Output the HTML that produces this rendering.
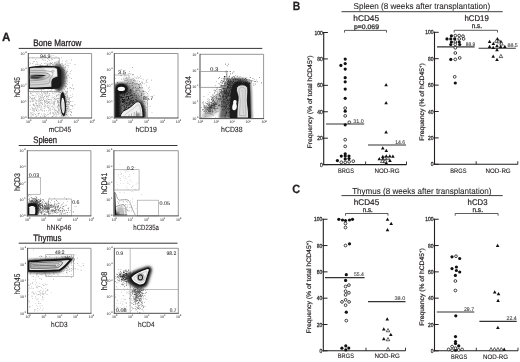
<!DOCTYPE html>
<html><head><meta charset="utf-8"><style>
html,body{margin:0;padding:0;background:#fff;}
svg{display:block;will-change:transform;}
text{font-family:"Liberation Sans", sans-serif;text-rendering:geometricPrecision;}
</style></head><body>
<svg width="520" height="362" viewBox="0 0 520 362">
<defs>
<filter id="b1" x="-20%" y="-20%" width="140%" height="140%"><feGaussianBlur stdDeviation="0.8"/></filter>
<filter id="b2" x="-30%" y="-30%" width="160%" height="160%"><feGaussianBlur stdDeviation="1.6"/></filter>
<filter id="b3" x="-40%" y="-40%" width="180%" height="180%"><feGaussianBlur stdDeviation="3"/></filter>
</defs>
<rect width="520" height="362" fill="#fff"/>

<text x="2" y="41.2" font-size="12" stroke="#231f20" stroke-width="0.25" font-weight="bold" textLength="8.4" lengthAdjust="spacingAndGlyphs" fill="#231f20">A</text>
<text x="292.8" y="9.8" font-size="12" stroke="#231f20" stroke-width="0.25" font-weight="bold" textLength="7.5" lengthAdjust="spacingAndGlyphs" fill="#231f20">B</text>
<text x="292.2" y="193.2" font-size="12" stroke="#231f20" stroke-width="0.25" font-weight="bold" textLength="7.9" lengthAdjust="spacingAndGlyphs" fill="#231f20">C</text>
<text x="33.2" y="45.8" font-size="9.4" stroke="#231f20" stroke-width="0.3" textLength="48.1" lengthAdjust="spacingAndGlyphs" fill="#231f20">Bone Marrow</text>
<line x1="18.7" y1="48.4" x2="262.3" y2="48.4" stroke="#2a2a2a" stroke-width="0.95"/>
<text x="33.3" y="143" font-size="9.4" stroke="#231f20" stroke-width="0.3" textLength="23.8" lengthAdjust="spacingAndGlyphs" fill="#231f20">Spleen</text>
<line x1="18.7" y1="145.5" x2="177.5" y2="145.5" stroke="#2a2a2a" stroke-width="0.95"/>
<text x="33.2" y="240.8" font-size="9.4" stroke="#231f20" stroke-width="0.3" textLength="28.2" lengthAdjust="spacingAndGlyphs" fill="#231f20">Thymus</text>
<line x1="18.7" y1="243.2" x2="177.5" y2="243.2" stroke="#2a2a2a" stroke-width="0.95"/>
<text x="353.5" y="9.2" font-size="8.6" stroke="#231f20" stroke-width="0.08" textLength="136.7" lengthAdjust="spacingAndGlyphs" fill="#231f20">Spleen (8 weeks after transplantation)</text>
<line x1="341.5" y1="11.7" x2="502.7" y2="11.7" stroke="#333" stroke-width="0.95"/>
<text x="352.2" y="194" font-size="8.6" stroke="#231f20" stroke-width="0.08" textLength="139.2" lengthAdjust="spacingAndGlyphs" fill="#231f20">Thymus (8 weeks after transplantation)</text>
<line x1="341.5" y1="195.6" x2="502.7" y2="195.6" stroke="#333" stroke-width="0.95"/>
<rect x="28.3" y="57.9" width="31" height="33.5" fill="none" stroke="#a0a0a0" stroke-width="0.7"/>
<rect x="114.3" y="75" width="14.7" height="18" fill="none" stroke="#a0a0a0" stroke-width="0.7"/>
<line x1="147.5" y1="101.3" x2="147.5" y2="118" stroke="#a0a0a0" stroke-width="0.7"/>
<rect x="199.4" y="71.5" width="27.6" height="15.9" fill="none" stroke="#a0a0a0" stroke-width="0.7"/>
<rect x="27.6" y="177.4" width="12.9" height="16.9" fill="none" stroke="#a0a0a0" stroke-width="0.7"/>
<rect x="48.7" y="199" width="22.8" height="16.9" fill="none" stroke="#a0a0a0" stroke-width="0.7"/>
<rect x="113.8" y="169.7" width="25.3" height="20.3" fill="none" stroke="#a0a0a0" stroke-width="0.7"/>
<rect x="137.3" y="200.2" width="21.1" height="15.7" fill="none" stroke="#a0a0a0" stroke-width="0.7"/>
<rect x="45.7" y="254.7" width="27.7" height="21.6" fill="none" stroke="#a0a0a0" stroke-width="0.7"/>
<line x1="130.2" y1="248.3" x2="130.2" y2="313.3" stroke="#a0a0a0" stroke-width="0.7"/>
<line x1="114.3" y1="289.5" x2="178.3" y2="289.5" stroke="#a0a0a0" stroke-width="0.7"/>
<clipPath id="c_bm1"><rect x="28.7" y="53.9" width="62.5" height="63.7"/></clipPath><g clip-path="url(#c_bm1)">
<path d="M33.0 113.0h0.6v0.6h-0.6zM51.9 97.6h0.6v0.6h-0.6zM43.9 102.7h0.6v0.6h-0.6zM48.5 111.5h0.6v0.6h-0.6zM31.8 91.7h0.6v0.6h-0.6zM54.1 102.3h0.6v0.6h-0.6zM51.9 91.1h0.6v0.6h-0.6zM42.4 109.8h0.6v0.6h-0.6zM35.9 115.6h0.6v0.6h-0.6zM56.0 91.8h0.6v0.6h-0.6zM29.8 105.1h0.6v0.6h-0.6zM57.2 100.9h0.6v0.6h-0.6zM35.5 102.0h0.6v0.6h-0.6zM29.9 96.8h0.6v0.6h-0.6zM42.1 103.9h0.6v0.6h-0.6zM36.0 97.0h0.6v0.6h-0.6zM35.6 102.9h0.6v0.6h-0.6zM37.7 91.6h0.6v0.6h-0.6zM54.1 105.5h0.6v0.6h-0.6zM48.3 95.8h0.6v0.6h-0.6zM58.8 113.4h0.6v0.6h-0.6zM32.6 99.7h0.6v0.6h-0.6zM50.6 109.5h0.6v0.6h-0.6zM57.1 102.0h0.6v0.6h-0.6zM53.9 108.4h0.6v0.6h-0.6zM38.1 106.3h0.6v0.6h-0.6zM55.5 113.0h0.6v0.6h-0.6zM44.2 106.3h0.6v0.6h-0.6zM30.0 97.3h0.6v0.6h-0.6zM52.9 101.8h0.6v0.6h-0.6zM34.2 105.3h0.6v0.6h-0.6zM50.1 108.5h0.6v0.6h-0.6zM40.2 102.4h0.6v0.6h-0.6zM44.3 111.2h0.6v0.6h-0.6zM44.6 101.2h0.6v0.6h-0.6zM43.7 91.8h0.6v0.6h-0.6zM30.3 109.3h0.6v0.6h-0.6zM58.5 106.4h0.6v0.6h-0.6zM40.8 95.4h0.6v0.6h-0.6zM44.1 116.5h0.6v0.6h-0.6zM52.1 105.0h0.6v0.6h-0.6zM54.8 97.0h0.6v0.6h-0.6zM44.4 115.8h0.6v0.6h-0.6zM46.3 102.9h0.6v0.6h-0.6zM37.1 105.2h0.6v0.6h-0.6zM57.7 91.1h0.6v0.6h-0.6zM52.5 112.3h0.6v0.6h-0.6zM55.6 110.3h0.6v0.6h-0.6zM53.3 104.5h0.6v0.6h-0.6zM45.8 102.1h0.6v0.6h-0.6zM30.7 113.6h0.6v0.6h-0.6zM46.1 96.2h0.6v0.6h-0.6zM44.1 103.6h0.6v0.6h-0.6zM39.7 100.0h0.6v0.6h-0.6zM45.2 107.2h0.6v0.6h-0.6zM47.4 102.9h0.6v0.6h-0.6zM29.8 97.0h0.6v0.6h-0.6zM34.3 106.2h0.6v0.6h-0.6zM54.8 111.8h0.6v0.6h-0.6zM52.9 112.2h0.6v0.6h-0.6zM36.7 112.9h0.6v0.6h-0.6zM49.2 93.2h0.6v0.6h-0.6zM29.5 91.4h0.6v0.6h-0.6zM51.7 97.5h0.6v0.6h-0.6zM32.3 107.2h0.6v0.6h-0.6zM39.3 92.8h0.6v0.6h-0.6zM33.8 104.7h0.6v0.6h-0.6zM34.0 98.1h0.6v0.6h-0.6zM50.3 102.8h0.6v0.6h-0.6zM38.7 103.3h0.6v0.6h-0.6zM29.7 101.1h0.6v0.6h-0.6zM41.6 95.9h0.6v0.6h-0.6zM32.3 114.4h0.6v0.6h-0.6zM44.3 96.4h0.6v0.6h-0.6zM47.2 112.2h0.6v0.6h-0.6zM29.6 91.5h0.6v0.6h-0.6zM33.4 109.7h0.6v0.6h-0.6zM33.8 109.3h0.6v0.6h-0.6zM49.3 105.2h0.6v0.6h-0.6zM35.6 116.4h0.6v0.6h-0.6zM52.9 104.4h0.6v0.6h-0.6zM35.7 107.9h0.6v0.6h-0.6zM40.8 106.0h0.6v0.6h-0.6zM38.6 107.4h0.6v0.6h-0.6zM30.8 98.8h0.6v0.6h-0.6zM58.0 113.8h0.6v0.6h-0.6zM38.2 113.3h0.6v0.6h-0.6zM38.3 115.4h0.6v0.6h-0.6zM51.3 101.8h0.6v0.6h-0.6zM36.6 91.2h0.6v0.6h-0.6zM55.4 92.0h0.6v0.6h-0.6zM53.6 116.0h0.6v0.6h-0.6zM46.1 95.5h0.6v0.6h-0.6zM55.0 116.3h0.6v0.6h-0.6zM50.1 104.2h0.6v0.6h-0.6zM40.3 100.0h0.6v0.6h-0.6zM35.2 108.5h0.6v0.6h-0.6zM42.0 96.0h0.6v0.6h-0.6zM32.1 108.3h0.6v0.6h-0.6zM37.9 104.0h0.6v0.6h-0.6zM38.8 113.7h0.6v0.6h-0.6zM56.0 91.5h0.6v0.6h-0.6zM35.0 99.5h0.6v0.6h-0.6zM58.6 111.4h0.6v0.6h-0.6zM39.2 96.5h0.6v0.6h-0.6zM49.2 112.8h0.6v0.6h-0.6zM57.0 99.9h0.6v0.6h-0.6zM55.5 108.9h0.6v0.6h-0.6zM43.5 116.6h0.6v0.6h-0.6zM36.0 109.9h0.6v0.6h-0.6zM31.5 95.4h0.6v0.6h-0.6zM56.3 96.5h0.6v0.6h-0.6zM51.8 106.6h0.6v0.6h-0.6zM54.2 100.6h0.6v0.6h-0.6zM39.2 98.6h0.6v0.6h-0.6zM55.0 106.7h0.6v0.6h-0.6zM57.6 114.1h0.6v0.6h-0.6zM33.1 105.3h0.6v0.6h-0.6zM32.1 92.0h0.6v0.6h-0.6zM31.2 113.5h0.6v0.6h-0.6zM52.6 112.5h0.6v0.6h-0.6zM39.2 107.0h0.6v0.6h-0.6zM52.5 100.8h0.6v0.6h-0.6zM46.1 96.8h0.6v0.6h-0.6zM31.5 97.9h0.6v0.6h-0.6zM55.7 105.7h0.6v0.6h-0.6zM56.8 102.9h0.6v0.6h-0.6zM37.3 111.5h0.6v0.6h-0.6zM53.8 91.3h0.6v0.6h-0.6zM49.1 93.4h0.6v0.6h-0.6zM32.5 114.0h0.6v0.6h-0.6zM30.2 97.2h0.6v0.6h-0.6zM58.6 101.9h0.6v0.6h-0.6zM32.5 95.4h0.6v0.6h-0.6zM36.2 110.3h0.6v0.6h-0.6zM32.1 114.7h0.6v0.6h-0.6zM40.3 116.2h0.6v0.6h-0.6zM56.3 98.6h0.6v0.6h-0.6zM36.6 103.4h0.6v0.6h-0.6zM32.0 108.0h0.6v0.6h-0.6zM30.2 91.3h0.6v0.6h-0.6zM58.5 98.7h0.6v0.6h-0.6zM46.9 102.7h0.6v0.6h-0.6zM38.4 92.6h0.6v0.6h-0.6zM56.4 116.2h0.6v0.6h-0.6zM58.1 93.9h0.6v0.6h-0.6zM35.5 107.1h0.6v0.6h-0.6zM58.4 105.1h0.6v0.6h-0.6zM49.6 108.2h0.6v0.6h-0.6zM36.8 105.1h0.6v0.6h-0.6zM38.2 97.4h0.6v0.6h-0.6zM31.4 98.3h0.6v0.6h-0.6zM58.5 102.6h0.6v0.6h-0.6zM48.6 107.7h0.6v0.6h-0.6zM57.2 101.2h0.6v0.6h-0.6zM38.2 99.5h0.6v0.6h-0.6zM38.5 113.0h0.6v0.6h-0.6zM55.8 98.9h0.6v0.6h-0.6zM39.0 105.1h0.6v0.6h-0.6zM46.4 106.5h0.6v0.6h-0.6zM36.4 91.5h0.6v0.6h-0.6zM36.3 92.9h0.6v0.6h-0.6zM45.5 92.8h0.6v0.6h-0.6zM31.3 107.5h0.6v0.6h-0.6zM37.7 111.6h0.6v0.6h-0.6zM43.8 113.4h0.6v0.6h-0.6zM33.6 104.0h0.6v0.6h-0.6zM52.8 93.0h0.6v0.6h-0.6zM57.5 95.5h0.6v0.6h-0.6zM52.3 116.6h0.6v0.6h-0.6zM53.6 99.3h0.6v0.6h-0.6zM32.2 104.4h0.6v0.6h-0.6zM56.6 98.6h0.6v0.6h-0.6zM55.8 94.7h0.6v0.6h-0.6zM56.3 91.8h0.6v0.6h-0.6zM38.5 114.5h0.6v0.6h-0.6zM53.1 114.6h0.6v0.6h-0.6zM54.2 110.4h0.6v0.6h-0.6zM49.7 95.6h0.6v0.6h-0.6zM42.0 95.1h0.6v0.6h-0.6zM50.4 108.4h0.6v0.6h-0.6zM36.6 92.7h0.6v0.6h-0.6zM57.9 112.0h0.6v0.6h-0.6zM45.5 105.1h0.6v0.6h-0.6zM54.5 102.8h0.6v0.6h-0.6zM40.9 99.8h0.6v0.6h-0.6zM36.7 91.6h0.6v0.6h-0.6zM48.4 101.8h0.6v0.6h-0.6zM46.1 92.6h0.6v0.6h-0.6zM39.6 94.6h0.6v0.6h-0.6zM32.8 97.7h0.6v0.6h-0.6zM53.9 101.3h0.6v0.6h-0.6zM41.0 106.9h0.6v0.6h-0.6zM36.0 91.2h0.6v0.6h-0.6zM44.9 104.0h0.6v0.6h-0.6zM48.5 102.4h0.6v0.6h-0.6zM49.6 110.0h0.6v0.6h-0.6zM36.2 103.9h0.6v0.6h-0.6zM43.4 96.9h0.6v0.6h-0.6zM41.4 105.6h0.6v0.6h-0.6zM56.2 114.9h0.6v0.6h-0.6zM37.3 107.8h0.6v0.6h-0.6zM30.4 92.9h0.6v0.6h-0.6zM44.4 113.8h0.6v0.6h-0.6zM33.8 110.9h0.6v0.6h-0.6zM55.5 99.1h0.6v0.6h-0.6zM49.8 113.1h0.6v0.6h-0.6zM40.1 109.2h0.6v0.6h-0.6zM51.1 106.5h0.6v0.6h-0.6zM54.7 114.3h0.6v0.6h-0.6zM57.8 105.9h0.6v0.6h-0.6zM34.3 97.5h0.6v0.6h-0.6zM35.5 105.8h0.6v0.6h-0.6zM51.7 92.4h0.6v0.6h-0.6zM49.4 109.6h0.6v0.6h-0.6zM39.4 104.4h0.6v0.6h-0.6zM33.9 110.0h0.6v0.6h-0.6zM30.2 116.5h0.6v0.6h-0.6zM53.2 107.3h0.6v0.6h-0.6zM37.0 114.7h0.6v0.6h-0.6zM57.8 94.6h0.6v0.6h-0.6zM52.3 112.9h0.6v0.6h-0.6zM48.8 109.2h0.6v0.6h-0.6zM42.4 115.0h0.6v0.6h-0.6zM58.1 100.9h0.6v0.6h-0.6zM53.1 102.3h0.6v0.6h-0.6zM33.9 99.5h0.6v0.6h-0.6zM32.8 114.6h0.6v0.6h-0.6zM57.8 94.1h0.6v0.6h-0.6zM47.0 101.6h0.6v0.6h-0.6zM32.5 98.7h0.6v0.6h-0.6zM36.4 110.5h0.6v0.6h-0.6zM29.1 95.9h0.6v0.6h-0.6zM42.2 91.5h0.6v0.6h-0.6zM47.8 106.7h0.6v0.6h-0.6zM54.1 96.4h0.6v0.6h-0.6zM37.5 105.1h0.6v0.6h-0.6zM37.2 106.2h0.6v0.6h-0.6zM36.5 108.8h0.6v0.6h-0.6zM52.7 112.0h0.6v0.6h-0.6zM58.2 105.2h0.6v0.6h-0.6zM43.7 113.2h0.6v0.6h-0.6zM52.1 105.8h0.6v0.6h-0.6zM40.5 98.4h0.6v0.6h-0.6zM32.2 112.0h0.6v0.6h-0.6zM32.5 110.4h0.6v0.6h-0.6zM45.4 116.1h0.6v0.6h-0.6zM51.8 116.3h0.6v0.6h-0.6zM33.1 104.0h0.6v0.6h-0.6zM46.2 99.1h0.6v0.6h-0.6zM44.1 100.3h0.6v0.6h-0.6zM44.9 91.0h0.6v0.6h-0.6zM42.3 102.7h0.6v0.6h-0.6zM38.1 101.4h0.6v0.6h-0.6zM52.5 108.8h0.6v0.6h-0.6zM43.8 107.8h0.6v0.6h-0.6zM40.3 96.3h0.6v0.6h-0.6zM29.1 98.2h0.6v0.6h-0.6zM46.9 113.9h0.6v0.6h-0.6zM53.9 104.3h0.6v0.6h-0.6zM58.6 103.0h0.6v0.6h-0.6zM54.0 101.6h0.6v0.6h-0.6zM51.3 116.7h0.6v0.6h-0.6zM38.2 95.4h0.6v0.6h-0.6zM47.6 104.8h0.6v0.6h-0.6zM39.8 91.1h0.6v0.6h-0.6zM40.7 102.1h0.6v0.6h-0.6zM41.2 113.4h0.6v0.6h-0.6zM46.5 110.1h0.6v0.6h-0.6zM55.9 110.5h0.6v0.6h-0.6zM43.8 110.4h0.6v0.6h-0.6zM48.2 107.9h0.6v0.6h-0.6zM47.9 101.6h0.6v0.6h-0.6zM47.9 107.5h0.6v0.6h-0.6zM57.1 111.3h0.6v0.6h-0.6zM54.4 111.0h0.6v0.6h-0.6zM53.5 106.7h0.6v0.6h-0.6zM39.5 97.9h0.6v0.6h-0.6zM50.2 113.7h0.6v0.6h-0.6zM45.3 95.0h0.6v0.6h-0.6zM54.0 103.6h0.6v0.6h-0.6zM43.0 92.2h0.6v0.6h-0.6zM44.3 110.4h0.6v0.6h-0.6zM41.7 100.2h0.6v0.6h-0.6zM48.7 91.5h0.6v0.6h-0.6zM44.2 115.6h0.6v0.6h-0.6zM49.7 101.5h0.6v0.6h-0.6zM49.7 106.7h0.6v0.6h-0.6zM35.3 96.4h0.6v0.6h-0.6zM55.6 98.0h0.6v0.6h-0.6zM31.2 112.6h0.6v0.6h-0.6zM44.7 100.6h0.6v0.6h-0.6zM44.3 110.2h0.6v0.6h-0.6zM34.1 108.0h0.6v0.6h-0.6zM50.4 112.2h0.6v0.6h-0.6zM37.1 106.9h0.6v0.6h-0.6zM36.0 105.6h0.6v0.6h-0.6zM34.2 111.5h0.6v0.6h-0.6zM55.0 99.6h0.6v0.6h-0.6zM35.7 116.1h0.6v0.6h-0.6zM50.2 112.9h0.6v0.6h-0.6zM29.9 114.4h0.6v0.6h-0.6zM47.7 99.2h0.6v0.6h-0.6zM42.0 110.8h0.6v0.6h-0.6zM52.6 95.9h0.6v0.6h-0.6zM47.8 95.3h0.6v0.6h-0.6zM58.2 102.5h0.6v0.6h-0.6zM56.4 109.9h0.6v0.6h-0.6zM47.2 97.8h0.6v0.6h-0.6zM44.8 94.6h0.6v0.6h-0.6zM33.1 109.6h0.6v0.6h-0.6zM39.8 110.5h0.6v0.6h-0.6zM36.2 109.7h0.6v0.6h-0.6zM50.6 98.9h0.6v0.6h-0.6zM32.2 101.3h0.6v0.6h-0.6zM43.8 93.6h0.6v0.6h-0.6zM34.6 92.4h0.6v0.6h-0.6zM46.9 114.1h0.6v0.6h-0.6zM35.5 91.9h0.6v0.6h-0.6zM50.1 112.2h0.6v0.6h-0.6zM57.9 106.9h0.6v0.6h-0.6zM39.3 112.8h0.6v0.6h-0.6zM32.5 109.0h0.6v0.6h-0.6zM31.9 101.4h0.6v0.6h-0.6zM43.9 100.8h0.6v0.6h-0.6zM34.1 97.0h0.6v0.6h-0.6zM53.6 103.0h0.6v0.6h-0.6zM46.4 96.5h0.6v0.6h-0.6zM50.4 99.6h0.6v0.6h-0.6zM46.8 114.6h0.6v0.6h-0.6zM58.8 92.2h0.6v0.6h-0.6zM52.9 113.3h0.6v0.6h-0.6zM38.6 101.0h0.6v0.6h-0.6zM46.4 114.9h0.6v0.6h-0.6zM41.0 113.9h0.6v0.6h-0.6zM51.8 95.0h0.6v0.6h-0.6zM56.4 91.4h0.6v0.6h-0.6zM33.4 108.3h0.6v0.6h-0.6zM30.7 100.9h0.6v0.6h-0.6zM32.9 103.0h0.6v0.6h-0.6zM54.2 114.6h0.6v0.6h-0.6zM30.1 92.6h0.6v0.6h-0.6zM54.2 92.1h0.6v0.6h-0.6zM37.2 94.1h0.6v0.6h-0.6zM31.7 91.7h0.6v0.6h-0.6zM48.1 110.4h0.6v0.6h-0.6zM49.6 113.0h0.6v0.6h-0.6zM48.9 101.1h0.6v0.6h-0.6zM47.9 116.2h0.6v0.6h-0.6zM48.2 97.3h0.6v0.6h-0.6zM30.8 115.3h0.6v0.6h-0.6zM46.7 100.1h0.6v0.6h-0.6zM47.2 105.6h0.6v0.6h-0.6zM44.7 92.6h0.6v0.6h-0.6zM39.6 101.7h0.6v0.6h-0.6zM35.0 113.9h0.6v0.6h-0.6zM41.7 108.2h0.6v0.6h-0.6zM50.4 110.3h0.6v0.6h-0.6zM50.6 110.6h0.6v0.6h-0.6zM36.5 116.4h0.6v0.6h-0.6zM33.5 114.9h0.6v0.6h-0.6zM54.6 113.2h0.6v0.6h-0.6zM30.6 93.4h0.6v0.6h-0.6zM53.4 103.2h0.6v0.6h-0.6zM40.1 116.6h0.6v0.6h-0.6zM30.2 104.8h0.6v0.6h-0.6zM42.3 94.3h0.6v0.6h-0.6zM40.9 109.4h0.6v0.6h-0.6zM55.5 91.6h0.6v0.6h-0.6zM44.7 93.3h0.6v0.6h-0.6zM53.0 93.2h0.6v0.6h-0.6zM30.0 101.0h0.6v0.6h-0.6zM51.0 99.1h0.6v0.6h-0.6zM32.9 111.7h0.6v0.6h-0.6zM53.2 113.3h0.6v0.6h-0.6zM38.1 102.0h0.6v0.6h-0.6zM36.4 105.5h0.6v0.6h-0.6zM38.9 99.8h0.6v0.6h-0.6zM52.5 115.9h0.6v0.6h-0.6zM46.5 93.7h0.6v0.6h-0.6zM48.6 102.7h0.6v0.6h-0.6zM58.6 109.7h0.6v0.6h-0.6zM54.0 109.2h0.6v0.6h-0.6zM45.1 114.3h0.6v0.6h-0.6zM53.9 98.6h0.6v0.6h-0.6zM33.7 100.6h0.6v0.6h-0.6zM44.6 93.5h0.6v0.6h-0.6zM39.4 105.9h0.6v0.6h-0.6zM30.3 112.2h0.6v0.6h-0.6zM48.5 99.2h0.6v0.6h-0.6zM37.9 100.2h0.6v0.6h-0.6zM38.8 110.5h0.6v0.6h-0.6zM44.0 104.7h0.6v0.6h-0.6zM33.5 114.8h0.6v0.6h-0.6zM38.8 99.5h0.6v0.6h-0.6zM31.1 116.5h0.6v0.6h-0.6zM43.4 114.7h0.6v0.6h-0.6zM56.8 116.2h0.6v0.6h-0.6zM53.5 115.1h0.6v0.6h-0.6zM56.7 111.8h0.6v0.6h-0.6zM33.0 104.6h0.6v0.6h-0.6zM46.3 116.8h0.6v0.6h-0.6zM52.5 109.3h0.6v0.6h-0.6zM51.4 100.4h0.6v0.6h-0.6zM57.3 107.7h0.6v0.6h-0.6zM41.1 103.1h0.6v0.6h-0.6zM58.4 104.8h0.6v0.6h-0.6zM34.0 94.9h0.6v0.6h-0.6zM49.6 105.6h0.6v0.6h-0.6zM56.2 95.8h0.6v0.6h-0.6zM41.3 109.9h0.6v0.6h-0.6zM30.5 93.6h0.6v0.6h-0.6zM45.4 97.9h0.6v0.6h-0.6zM32.2 97.8h0.6v0.6h-0.6zM48.0 104.7h0.6v0.6h-0.6zM31.4 92.9h0.6v0.6h-0.6zM54.5 107.7h0.6v0.6h-0.6zM34.2 113.4h0.6v0.6h-0.6zM29.7 100.6h0.6v0.6h-0.6zM54.4 109.5h0.6v0.6h-0.6z" fill="#999"/>
<path d="M40.3 103.7h0.6v0.6h-0.6zM36.3 102.8h0.6v0.6h-0.6zM47.4 103.3h0.6v0.6h-0.6zM52.5 92.9h0.6v0.6h-0.6zM40.5 94.4h0.6v0.6h-0.6zM33.7 98.5h0.6v0.6h-0.6zM41.8 103.4h0.6v0.6h-0.6zM46.9 87.2h0.6v0.6h-0.6zM41.6 95.0h0.6v0.6h-0.6zM35.9 110.4h0.6v0.6h-0.6zM38.2 84.4h0.6v0.6h-0.6zM42.5 97.7h0.6v0.6h-0.6zM30.6 92.6h0.6v0.6h-0.6zM35.0 99.8h0.6v0.6h-0.6zM36.6 100.6h0.6v0.6h-0.6zM54.7 93.6h0.6v0.6h-0.6zM33.5 98.0h0.6v0.6h-0.6zM48.8 94.4h0.6v0.6h-0.6zM51.5 89.5h0.6v0.6h-0.6zM31.7 99.6h0.6v0.6h-0.6zM33.1 95.1h0.6v0.6h-0.6zM43.6 105.8h0.6v0.6h-0.6zM40.9 97.8h0.6v0.6h-0.6zM50.8 103.2h0.6v0.6h-0.6zM38.1 109.7h0.6v0.6h-0.6zM32.8 101.3h0.6v0.6h-0.6zM45.3 99.9h0.6v0.6h-0.6zM35.4 102.8h0.6v0.6h-0.6zM35.7 95.2h0.6v0.6h-0.6zM31.8 110.4h0.6v0.6h-0.6zM35.6 109.2h0.6v0.6h-0.6zM43.0 97.9h0.6v0.6h-0.6zM45.3 102.2h0.6v0.6h-0.6zM41.1 89.0h0.6v0.6h-0.6zM40.6 107.2h0.6v0.6h-0.6zM43.9 108.0h0.6v0.6h-0.6zM51.9 103.3h0.6v0.6h-0.6zM55.8 87.9h0.6v0.6h-0.6zM38.1 79.8h0.6v0.6h-0.6zM46.6 100.8h0.6v0.6h-0.6zM53.5 97.1h0.6v0.6h-0.6zM29.3 89.9h0.6v0.6h-0.6zM38.6 105.0h0.6v0.6h-0.6zM35.9 101.5h0.6v0.6h-0.6zM39.5 101.0h0.6v0.6h-0.6zM44.7 101.4h0.6v0.6h-0.6zM41.6 92.6h0.6v0.6h-0.6zM39.1 103.5h0.6v0.6h-0.6zM48.3 99.0h0.6v0.6h-0.6zM40.7 102.7h0.6v0.6h-0.6zM44.6 101.7h0.6v0.6h-0.6zM38.0 95.9h0.6v0.6h-0.6zM49.0 102.4h0.6v0.6h-0.6zM47.1 106.8h0.6v0.6h-0.6zM41.2 91.9h0.6v0.6h-0.6zM49.1 99.3h0.6v0.6h-0.6zM40.4 108.2h0.6v0.6h-0.6zM48.1 101.9h0.6v0.6h-0.6zM40.1 116.8h0.6v0.6h-0.6zM44.6 91.8h0.6v0.6h-0.6zM46.0 101.2h0.6v0.6h-0.6zM40.3 105.5h0.6v0.6h-0.6zM41.9 116.0h0.6v0.6h-0.6zM41.6 102.0h0.6v0.6h-0.6zM49.3 95.5h0.6v0.6h-0.6zM48.1 99.5h0.6v0.6h-0.6zM49.5 93.2h0.6v0.6h-0.6zM43.4 87.2h0.6v0.6h-0.6zM36.5 100.1h0.6v0.6h-0.6zM44.0 115.8h0.6v0.6h-0.6zM54.7 89.3h0.6v0.6h-0.6zM33.9 110.0h0.6v0.6h-0.6zM43.5 89.1h0.6v0.6h-0.6zM43.9 91.0h0.6v0.6h-0.6zM33.1 89.9h0.6v0.6h-0.6zM43.0 99.1h0.6v0.6h-0.6zM60.1 96.3h0.6v0.6h-0.6zM38.8 97.9h0.6v0.6h-0.6zM43.4 97.5h0.6v0.6h-0.6zM51.6 97.7h0.6v0.6h-0.6zM44.5 101.8h0.6v0.6h-0.6zM33.1 92.2h0.6v0.6h-0.6zM39.6 81.7h0.6v0.6h-0.6zM40.1 100.6h0.6v0.6h-0.6zM41.1 99.4h0.6v0.6h-0.6zM42.8 97.2h0.6v0.6h-0.6zM45.1 87.0h0.6v0.6h-0.6zM47.3 93.0h0.6v0.6h-0.6zM43.9 96.3h0.6v0.6h-0.6zM36.6 93.7h0.6v0.6h-0.6zM50.7 91.3h0.6v0.6h-0.6zM30.4 101.7h0.6v0.6h-0.6zM42.1 100.3h0.6v0.6h-0.6zM32.3 94.8h0.6v0.6h-0.6zM47.2 91.8h0.6v0.6h-0.6zM44.9 105.8h0.6v0.6h-0.6zM41.1 90.3h0.6v0.6h-0.6zM55.2 101.0h0.6v0.6h-0.6zM41.6 97.0h0.6v0.6h-0.6zM32.5 97.9h0.6v0.6h-0.6zM41.6 93.3h0.6v0.6h-0.6zM40.9 109.2h0.6v0.6h-0.6zM43.5 99.2h0.6v0.6h-0.6zM48.4 107.3h0.6v0.6h-0.6zM47.2 93.7h0.6v0.6h-0.6zM40.5 97.1h0.6v0.6h-0.6zM43.9 96.4h0.6v0.6h-0.6zM35.1 114.4h0.6v0.6h-0.6zM48.1 114.1h0.6v0.6h-0.6zM42.0 104.1h0.6v0.6h-0.6zM32.7 100.3h0.6v0.6h-0.6zM39.8 99.2h0.6v0.6h-0.6z" fill="#888"/>
<path d="M54 64 C60 63 65 67 66 73 C67 80 66 88 61 91 C57 92 55 90 55 86 Z" fill="#666" filter="url(#b2)" opacity="0.85"/>
<path d="M71.0 70.0h0.6v0.6h-0.6zM59.4 77.3h0.6v0.6h-0.6zM62.0 63.4h0.6v0.6h-0.6zM54.5 69.2h0.6v0.6h-0.6zM50.6 68.4h0.6v0.6h-0.6zM53.9 73.4h0.6v0.6h-0.6zM51.6 79.8h0.6v0.6h-0.6zM64.1 72.5h0.6v0.6h-0.6zM52.5 78.4h0.6v0.6h-0.6zM58.4 76.5h0.6v0.6h-0.6zM51.9 77.7h0.6v0.6h-0.6zM47.8 89.0h0.6v0.6h-0.6zM49.4 74.1h0.6v0.6h-0.6zM57.1 78.0h0.6v0.6h-0.6zM55.5 80.3h0.6v0.6h-0.6zM35.2 73.9h0.6v0.6h-0.6zM55.3 70.9h0.6v0.6h-0.6zM65.4 66.0h0.6v0.6h-0.6zM55.7 56.5h0.6v0.6h-0.6zM57.9 60.2h0.6v0.6h-0.6zM46.8 96.1h0.6v0.6h-0.6zM60.5 74.7h0.6v0.6h-0.6zM57.2 61.7h0.6v0.6h-0.6zM49.8 78.7h0.6v0.6h-0.6zM43.4 77.3h0.6v0.6h-0.6zM45.7 75.9h0.6v0.6h-0.6zM49.5 90.8h0.6v0.6h-0.6zM62.4 70.1h0.6v0.6h-0.6zM44.7 67.6h0.6v0.6h-0.6zM55.9 65.7h0.6v0.6h-0.6zM57.9 83.8h0.6v0.6h-0.6zM55.9 70.8h0.6v0.6h-0.6zM61.0 72.1h0.6v0.6h-0.6zM61.4 71.9h0.6v0.6h-0.6zM66.1 72.3h0.6v0.6h-0.6zM49.8 75.7h0.6v0.6h-0.6zM52.4 66.2h0.6v0.6h-0.6zM55.4 81.7h0.6v0.6h-0.6zM43.0 74.4h0.6v0.6h-0.6zM55.3 73.5h0.6v0.6h-0.6zM61.1 62.9h0.6v0.6h-0.6zM60.3 72.8h0.6v0.6h-0.6zM56.9 72.9h0.6v0.6h-0.6zM54.3 70.1h0.6v0.6h-0.6zM58.8 94.2h0.6v0.6h-0.6zM62.7 82.8h0.6v0.6h-0.6zM59.7 70.6h0.6v0.6h-0.6zM60.0 94.0h0.6v0.6h-0.6zM48.6 82.7h0.6v0.6h-0.6zM62.6 77.7h0.6v0.6h-0.6zM61.2 87.9h0.6v0.6h-0.6zM69.9 87.1h0.6v0.6h-0.6zM66.6 78.3h0.6v0.6h-0.6zM61.6 76.9h0.6v0.6h-0.6zM58.4 71.1h0.6v0.6h-0.6zM60.7 88.6h0.6v0.6h-0.6zM55.7 77.8h0.6v0.6h-0.6zM60.4 75.7h0.6v0.6h-0.6zM62.4 77.9h0.6v0.6h-0.6zM49.6 66.2h0.6v0.6h-0.6zM61.1 81.3h0.6v0.6h-0.6zM63.4 77.9h0.6v0.6h-0.6zM58.0 61.3h0.6v0.6h-0.6zM65.2 67.3h0.6v0.6h-0.6zM63.1 65.3h0.6v0.6h-0.6zM52.8 77.1h0.6v0.6h-0.6zM54.2 69.4h0.6v0.6h-0.6zM62.2 81.9h0.6v0.6h-0.6zM59.2 72.7h0.6v0.6h-0.6zM51.8 71.4h0.6v0.6h-0.6zM53.7 75.5h0.6v0.6h-0.6zM61.5 74.3h0.6v0.6h-0.6zM52.1 70.2h0.6v0.6h-0.6zM64.6 77.3h0.6v0.6h-0.6zM58.3 78.4h0.6v0.6h-0.6zM60.5 77.1h0.6v0.6h-0.6zM64.0 83.2h0.6v0.6h-0.6zM39.8 74.7h0.6v0.6h-0.6zM74.7 64.3h0.6v0.6h-0.6zM57.7 85.7h0.6v0.6h-0.6zM57.0 88.0h0.6v0.6h-0.6zM49.3 64.6h0.6v0.6h-0.6zM55.8 69.3h0.6v0.6h-0.6zM50.5 81.1h0.6v0.6h-0.6zM58.6 76.1h0.6v0.6h-0.6zM54.6 78.4h0.6v0.6h-0.6zM56.3 69.4h0.6v0.6h-0.6zM60.1 79.3h0.6v0.6h-0.6zM57.5 82.3h0.6v0.6h-0.6zM50.4 74.7h0.6v0.6h-0.6zM53.8 88.0h0.6v0.6h-0.6zM60.1 95.1h0.6v0.6h-0.6zM66.4 72.7h0.6v0.6h-0.6zM50.4 80.4h0.6v0.6h-0.6zM55.3 74.6h0.6v0.6h-0.6zM50.6 81.4h0.6v0.6h-0.6zM58.1 79.6h0.6v0.6h-0.6zM58.9 67.9h0.6v0.6h-0.6zM43.6 73.6h0.6v0.6h-0.6zM53.2 71.2h0.6v0.6h-0.6zM62.8 75.1h0.6v0.6h-0.6zM66.1 77.6h0.6v0.6h-0.6zM61.1 80.6h0.6v0.6h-0.6zM61.8 64.7h0.6v0.6h-0.6zM63.5 77.0h0.6v0.6h-0.6zM51.1 81.5h0.6v0.6h-0.6zM59.1 87.6h0.6v0.6h-0.6zM61.4 79.3h0.6v0.6h-0.6zM47.2 91.1h0.6v0.6h-0.6zM65.9 83.0h0.6v0.6h-0.6zM59.8 87.0h0.6v0.6h-0.6zM51.8 82.3h0.6v0.6h-0.6zM57.1 67.0h0.6v0.6h-0.6zM59.2 79.2h0.6v0.6h-0.6zM67.2 84.5h0.6v0.6h-0.6zM47.4 58.3h0.6v0.6h-0.6zM56.5 74.1h0.6v0.6h-0.6zM51.4 62.9h0.6v0.6h-0.6zM55.8 65.6h0.6v0.6h-0.6zM52.9 83.8h0.6v0.6h-0.6zM58.4 69.2h0.6v0.6h-0.6zM50.3 74.3h0.6v0.6h-0.6zM67.4 71.4h0.6v0.6h-0.6zM67.4 68.9h0.6v0.6h-0.6zM55.7 82.3h0.6v0.6h-0.6zM52.4 76.5h0.6v0.6h-0.6zM48.9 82.0h0.6v0.6h-0.6zM63.9 70.1h0.6v0.6h-0.6zM58.1 72.3h0.6v0.6h-0.6zM44.0 100.7h0.6v0.6h-0.6zM60.8 83.4h0.6v0.6h-0.6zM59.3 77.6h0.6v0.6h-0.6zM71.2 59.6h0.6v0.6h-0.6zM55.1 72.2h0.6v0.6h-0.6zM55.7 82.3h0.6v0.6h-0.6zM52.7 64.0h0.6v0.6h-0.6zM50.2 80.1h0.6v0.6h-0.6zM62.7 83.3h0.6v0.6h-0.6zM66.6 71.3h0.6v0.6h-0.6zM63.0 82.2h0.6v0.6h-0.6zM56.0 69.2h0.6v0.6h-0.6zM62.3 69.9h0.6v0.6h-0.6zM55.2 67.2h0.6v0.6h-0.6zM67.5 75.5h0.6v0.6h-0.6zM54.0 73.8h0.6v0.6h-0.6zM55.6 76.8h0.6v0.6h-0.6zM46.8 65.5h0.6v0.6h-0.6zM60.0 85.7h0.6v0.6h-0.6zM50.9 77.0h0.6v0.6h-0.6zM53.5 55.5h0.6v0.6h-0.6zM55.1 66.2h0.6v0.6h-0.6zM62.2 74.1h0.6v0.6h-0.6zM56.8 62.8h0.6v0.6h-0.6zM57.9 58.5h0.6v0.6h-0.6zM58.3 88.4h0.6v0.6h-0.6zM49.7 83.7h0.6v0.6h-0.6zM65.4 74.2h0.6v0.6h-0.6zM63.7 76.7h0.6v0.6h-0.6zM54.0 57.9h0.6v0.6h-0.6zM50.5 62.6h0.6v0.6h-0.6zM71.3 78.3h0.6v0.6h-0.6zM55.9 63.8h0.6v0.6h-0.6zM67.3 65.5h0.6v0.6h-0.6zM65.9 85.8h0.6v0.6h-0.6zM57.4 70.0h0.6v0.6h-0.6zM56.7 64.1h0.6v0.6h-0.6zM60.9 91.2h0.6v0.6h-0.6zM62.3 85.4h0.6v0.6h-0.6zM52.8 78.8h0.6v0.6h-0.6zM50.8 71.9h0.6v0.6h-0.6zM61.4 98.6h0.6v0.6h-0.6zM57.4 76.3h0.6v0.6h-0.6zM45.6 77.6h0.6v0.6h-0.6zM51.5 63.3h0.6v0.6h-0.6zM48.0 77.3h0.6v0.6h-0.6zM54.6 82.1h0.6v0.6h-0.6zM55.6 76.0h0.6v0.6h-0.6zM65.8 83.2h0.6v0.6h-0.6zM61.6 89.3h0.6v0.6h-0.6zM58.3 67.0h0.6v0.6h-0.6zM52.2 61.9h0.6v0.6h-0.6zM59.1 72.3h0.6v0.6h-0.6zM60.1 83.5h0.6v0.6h-0.6zM52.1 77.7h0.6v0.6h-0.6zM64.6 76.8h0.6v0.6h-0.6zM62.6 74.2h0.6v0.6h-0.6zM51.3 73.9h0.6v0.6h-0.6zM45.6 82.4h0.6v0.6h-0.6zM53.9 88.2h0.6v0.6h-0.6zM49.6 77.1h0.6v0.6h-0.6zM59.1 74.2h0.6v0.6h-0.6zM59.3 69.2h0.6v0.6h-0.6zM50.5 63.2h0.6v0.6h-0.6zM53.6 68.6h0.6v0.6h-0.6zM58.4 72.7h0.6v0.6h-0.6zM53.0 69.3h0.6v0.6h-0.6zM45.5 72.7h0.6v0.6h-0.6zM59.5 63.9h0.6v0.6h-0.6zM55.4 82.1h0.6v0.6h-0.6zM52.8 77.7h0.6v0.6h-0.6zM54.4 98.3h0.6v0.6h-0.6zM65.5 86.8h0.6v0.6h-0.6zM52.9 81.9h0.6v0.6h-0.6zM56.0 79.3h0.6v0.6h-0.6zM53.5 77.4h0.6v0.6h-0.6zM52.3 78.7h0.6v0.6h-0.6zM67.7 63.5h0.6v0.6h-0.6zM49.0 80.6h0.6v0.6h-0.6zM61.8 72.6h0.6v0.6h-0.6zM60.6 79.9h0.6v0.6h-0.6zM60.4 88.6h0.6v0.6h-0.6zM53.0 82.0h0.6v0.6h-0.6zM58.2 69.7h0.6v0.6h-0.6zM60.1 64.1h0.6v0.6h-0.6zM47.9 85.8h0.6v0.6h-0.6zM50.3 91.5h0.6v0.6h-0.6zM63.3 71.2h0.6v0.6h-0.6zM51.6 55.6h0.6v0.6h-0.6zM56.5 61.0h0.6v0.6h-0.6zM66.6 60.6h0.6v0.6h-0.6zM54.8 88.1h0.6v0.6h-0.6zM54.3 68.4h0.6v0.6h-0.6zM54.1 79.4h0.6v0.6h-0.6zM62.4 73.8h0.6v0.6h-0.6zM44.4 78.8h0.6v0.6h-0.6zM62.9 97.1h0.6v0.6h-0.6zM58.0 77.5h0.6v0.6h-0.6zM53.7 82.8h0.6v0.6h-0.6zM67.8 66.8h0.6v0.6h-0.6zM57.5 66.4h0.6v0.6h-0.6zM52.7 74.2h0.6v0.6h-0.6zM60.0 68.3h0.6v0.6h-0.6zM55.2 88.5h0.6v0.6h-0.6zM60.1 82.4h0.6v0.6h-0.6zM59.4 74.2h0.6v0.6h-0.6zM59.5 80.7h0.6v0.6h-0.6zM57.0 85.4h0.6v0.6h-0.6zM57.0 84.2h0.6v0.6h-0.6zM57.1 82.7h0.6v0.6h-0.6zM52.8 70.8h0.6v0.6h-0.6zM49.9 87.0h0.6v0.6h-0.6zM60.1 77.9h0.6v0.6h-0.6zM60.8 68.3h0.6v0.6h-0.6zM57.6 71.3h0.6v0.6h-0.6zM45.5 73.5h0.6v0.6h-0.6zM51.6 89.1h0.6v0.6h-0.6zM52.4 70.2h0.6v0.6h-0.6zM63.0 75.9h0.6v0.6h-0.6zM48.8 78.1h0.6v0.6h-0.6zM52.3 91.7h0.6v0.6h-0.6zM50.5 69.1h0.6v0.6h-0.6zM40.1 69.7h0.6v0.6h-0.6zM68.5 74.8h0.6v0.6h-0.6zM51.1 78.6h0.6v0.6h-0.6zM55.2 75.6h0.6v0.6h-0.6zM72.3 94.5h0.6v0.6h-0.6zM66.8 91.3h0.6v0.6h-0.6zM51.3 57.9h0.6v0.6h-0.6zM61.5 79.6h0.6v0.6h-0.6zM57.2 74.9h0.6v0.6h-0.6zM61.4 81.2h0.6v0.6h-0.6zM58.6 80.5h0.6v0.6h-0.6zM55.7 72.5h0.6v0.6h-0.6zM65.5 73.7h0.6v0.6h-0.6zM69.2 81.9h0.6v0.6h-0.6zM57.4 86.3h0.6v0.6h-0.6zM53.9 74.2h0.6v0.6h-0.6zM54.9 76.0h0.6v0.6h-0.6zM61.2 95.2h0.6v0.6h-0.6zM60.2 66.2h0.6v0.6h-0.6zM51.9 59.3h0.6v0.6h-0.6zM61.5 84.1h0.6v0.6h-0.6zM59.0 79.3h0.6v0.6h-0.6zM60.2 79.9h0.6v0.6h-0.6zM60.9 78.1h0.6v0.6h-0.6zM50.9 84.7h0.6v0.6h-0.6zM65.2 60.9h0.6v0.6h-0.6zM55.6 65.5h0.6v0.6h-0.6zM60.1 73.3h0.6v0.6h-0.6zM65.7 86.2h0.6v0.6h-0.6zM54.1 71.6h0.6v0.6h-0.6zM53.4 81.3h0.6v0.6h-0.6zM51.2 80.0h0.6v0.6h-0.6zM48.4 85.6h0.6v0.6h-0.6zM59.9 65.3h0.6v0.6h-0.6zM52.2 77.3h0.6v0.6h-0.6zM58.2 89.9h0.6v0.6h-0.6zM54.2 63.5h0.6v0.6h-0.6zM64.5 78.2h0.6v0.6h-0.6zM58.2 81.6h0.6v0.6h-0.6zM49.4 69.8h0.6v0.6h-0.6zM50.0 65.5h0.6v0.6h-0.6zM55.0 66.2h0.6v0.6h-0.6zM66.9 80.6h0.6v0.6h-0.6zM62.1 60.7h0.6v0.6h-0.6zM55.6 74.5h0.6v0.6h-0.6zM58.0 80.1h0.6v0.6h-0.6zM52.1 67.5h0.6v0.6h-0.6zM62.8 96.7h0.6v0.6h-0.6zM69.7 73.3h0.6v0.6h-0.6zM52.1 77.7h0.6v0.6h-0.6zM59.9 92.2h0.6v0.6h-0.6zM55.5 69.1h0.6v0.6h-0.6zM63.4 69.3h0.6v0.6h-0.6zM51.7 80.9h0.6v0.6h-0.6zM55.8 66.2h0.6v0.6h-0.6zM55.3 72.1h0.6v0.6h-0.6zM55.6 69.1h0.6v0.6h-0.6zM60.5 72.7h0.6v0.6h-0.6zM53.3 85.7h0.6v0.6h-0.6zM51.3 82.9h0.6v0.6h-0.6zM60.6 73.2h0.6v0.6h-0.6zM58.3 62.3h0.6v0.6h-0.6zM58.5 66.4h0.6v0.6h-0.6zM51.7 78.3h0.6v0.6h-0.6zM52.5 77.2h0.6v0.6h-0.6zM59.5 85.5h0.6v0.6h-0.6zM59.4 85.5h0.6v0.6h-0.6zM52.4 72.6h0.6v0.6h-0.6zM60.9 86.8h0.6v0.6h-0.6zM59.7 71.1h0.6v0.6h-0.6zM50.4 67.2h0.6v0.6h-0.6zM63.8 67.0h0.6v0.6h-0.6zM55.5 81.7h0.6v0.6h-0.6zM59.6 69.5h0.6v0.6h-0.6zM69.1 77.4h0.6v0.6h-0.6zM58.7 83.4h0.6v0.6h-0.6zM55.1 82.3h0.6v0.6h-0.6zM56.1 67.9h0.6v0.6h-0.6zM51.2 79.4h0.6v0.6h-0.6zM57.6 74.5h0.6v0.6h-0.6zM54.2 73.7h0.6v0.6h-0.6zM61.8 86.0h0.6v0.6h-0.6zM55.4 78.3h0.6v0.6h-0.6zM45.7 65.5h0.6v0.6h-0.6zM52.7 67.7h0.6v0.6h-0.6zM61.2 57.0h0.6v0.6h-0.6zM59.9 82.2h0.6v0.6h-0.6zM70.4 71.5h0.6v0.6h-0.6zM59.7 89.4h0.6v0.6h-0.6zM62.7 67.4h0.6v0.6h-0.6zM54.8 65.5h0.6v0.6h-0.6zM57.4 82.2h0.6v0.6h-0.6zM65.2 81.1h0.6v0.6h-0.6zM62.4 85.6h0.6v0.6h-0.6zM52.0 82.1h0.6v0.6h-0.6zM62.9 74.3h0.6v0.6h-0.6zM51.2 77.4h0.6v0.6h-0.6zM57.9 82.3h0.6v0.6h-0.6zM46.2 72.6h0.6v0.6h-0.6zM69.2 87.7h0.6v0.6h-0.6zM56.1 73.3h0.6v0.6h-0.6zM55.4 67.2h0.6v0.6h-0.6zM54.2 75.6h0.6v0.6h-0.6zM49.7 75.3h0.6v0.6h-0.6zM58.6 64.4h0.6v0.6h-0.6zM54.3 61.9h0.6v0.6h-0.6zM57.2 78.0h0.6v0.6h-0.6zM53.9 76.6h0.6v0.6h-0.6zM60.3 82.2h0.6v0.6h-0.6zM48.9 73.1h0.6v0.6h-0.6zM48.3 58.9h0.6v0.6h-0.6zM63.1 82.9h0.6v0.6h-0.6zM64.6 82.9h0.6v0.6h-0.6zM54.0 77.9h0.6v0.6h-0.6zM53.7 88.3h0.6v0.6h-0.6zM42.8 79.6h0.6v0.6h-0.6zM53.6 82.5h0.6v0.6h-0.6zM64.2 70.3h0.6v0.6h-0.6zM65.2 85.8h0.6v0.6h-0.6zM47.5 92.5h0.6v0.6h-0.6zM49.9 63.7h0.6v0.6h-0.6zM62.7 69.5h0.6v0.6h-0.6zM58.3 75.6h0.6v0.6h-0.6zM50.8 90.5h0.6v0.6h-0.6zM66.0 76.7h0.6v0.6h-0.6zM66.5 75.9h0.6v0.6h-0.6z" fill="#666"/>
<path d="M33.2 61.7h0.6v0.6h-0.6zM51.7 59.4h0.6v0.6h-0.6zM43.6 59.5h0.6v0.6h-0.6zM56.0 64.4h0.6v0.6h-0.6zM58.6 63.0h0.6v0.6h-0.6zM49.0 63.4h0.6v0.6h-0.6zM37.6 64.3h0.6v0.6h-0.6zM32.4 63.3h0.6v0.6h-0.6zM52.0 64.1h0.6v0.6h-0.6zM40.9 68.4h0.6v0.6h-0.6zM45.6 62.8h0.6v0.6h-0.6zM46.6 63.0h0.6v0.6h-0.6zM41.1 63.3h0.6v0.6h-0.6zM65.3 64.0h0.6v0.6h-0.6zM46.8 65.3h0.6v0.6h-0.6zM65.2 63.6h0.6v0.6h-0.6zM38.8 68.9h0.6v0.6h-0.6zM30.4 63.3h0.6v0.6h-0.6zM51.7 68.6h0.6v0.6h-0.6zM35.5 59.1h0.6v0.6h-0.6zM51.6 63.0h0.6v0.6h-0.6zM41.1 64.9h0.6v0.6h-0.6zM47.2 64.6h0.6v0.6h-0.6zM40.7 66.6h0.6v0.6h-0.6zM60.0 64.1h0.6v0.6h-0.6zM40.5 65.5h0.6v0.6h-0.6zM49.8 61.9h0.6v0.6h-0.6zM40.4 66.1h0.6v0.6h-0.6zM44.0 63.3h0.6v0.6h-0.6zM47.1 63.9h0.6v0.6h-0.6zM45.0 60.1h0.6v0.6h-0.6zM62.5 64.4h0.6v0.6h-0.6zM36.2 66.0h0.6v0.6h-0.6zM48.1 64.0h0.6v0.6h-0.6zM55.5 68.5h0.6v0.6h-0.6zM50.5 67.2h0.6v0.6h-0.6zM66.6 62.0h0.6v0.6h-0.6zM39.8 65.6h0.6v0.6h-0.6zM57.9 66.1h0.6v0.6h-0.6zM50.8 60.2h0.6v0.6h-0.6zM68.5 65.1h0.6v0.6h-0.6zM52.7 65.0h0.6v0.6h-0.6zM32.8 67.8h0.6v0.6h-0.6zM36.7 63.5h0.6v0.6h-0.6zM42.5 65.1h0.6v0.6h-0.6zM50.0 64.5h0.6v0.6h-0.6zM32.4 57.7h0.6v0.6h-0.6zM46.7 64.5h0.6v0.6h-0.6zM57.3 63.8h0.6v0.6h-0.6zM38.9 64.8h0.6v0.6h-0.6zM29.5 61.9h0.6v0.6h-0.6zM34.9 64.6h0.6v0.6h-0.6zM65.9 65.5h0.6v0.6h-0.6zM56.4 64.5h0.6v0.6h-0.6zM47.8 63.1h0.6v0.6h-0.6zM42.2 59.1h0.6v0.6h-0.6zM33.0 61.4h0.6v0.6h-0.6zM53.4 65.3h0.6v0.6h-0.6zM56.4 67.1h0.6v0.6h-0.6zM41.9 66.1h0.6v0.6h-0.6zM64.6 64.0h0.6v0.6h-0.6zM55.9 63.7h0.6v0.6h-0.6zM28.9 64.2h0.6v0.6h-0.6zM36.8 64.2h0.6v0.6h-0.6zM40.4 64.6h0.6v0.6h-0.6zM58.6 63.3h0.6v0.6h-0.6zM35.9 64.0h0.6v0.6h-0.6zM51.8 64.8h0.6v0.6h-0.6zM49.0 60.1h0.6v0.6h-0.6zM33.7 66.7h0.6v0.6h-0.6zM47.4 61.0h0.6v0.6h-0.6zM36.3 61.1h0.6v0.6h-0.6zM34.8 66.4h0.6v0.6h-0.6zM42.8 66.3h0.6v0.6h-0.6zM46.9 61.0h0.6v0.6h-0.6zM38.4 68.6h0.6v0.6h-0.6zM37.2 61.9h0.6v0.6h-0.6zM57.6 64.2h0.6v0.6h-0.6zM44.9 67.0h0.6v0.6h-0.6zM34.3 61.1h0.6v0.6h-0.6zM36.7 66.3h0.6v0.6h-0.6zM43.6 60.3h0.6v0.6h-0.6zM33.7 67.1h0.6v0.6h-0.6zM55.4 61.8h0.6v0.6h-0.6zM69.8 63.3h0.6v0.6h-0.6zM32.8 63.7h0.6v0.6h-0.6z" fill="#888"/>
<path d="M57 65.5 C61.5 65.5 64 69 64.2 75 C64.4 82 63.5 88 59 90.5 L56 90 Z" fill="#3a3a3a" filter="url(#b1)"/>
<ellipse cx="63.6" cy="104.5" rx="4.5" ry="13" fill="#aaa" transform="rotate(-4 63.6 104.5)" filter="url(#b2)" opacity="0.7"/>
<path d="M64.9 114.0h0.6v0.6h-0.6zM60.6 111.9h0.6v0.6h-0.6zM63.4 101.9h0.6v0.6h-0.6zM72.5 105.3h0.6v0.6h-0.6zM64.3 109.8h0.6v0.6h-0.6zM69.2 103.8h0.6v0.6h-0.6zM67.0 96.2h0.6v0.6h-0.6zM63.0 100.5h0.6v0.6h-0.6zM58.9 91.9h0.6v0.6h-0.6zM57.7 102.1h0.6v0.6h-0.6zM63.8 101.4h0.6v0.6h-0.6zM64.8 93.3h0.6v0.6h-0.6zM64.2 105.9h0.6v0.6h-0.6zM67.7 97.2h0.6v0.6h-0.6zM62.8 87.9h0.6v0.6h-0.6zM62.4 86.4h0.6v0.6h-0.6zM58.5 112.8h0.6v0.6h-0.6zM55.3 110.4h0.6v0.6h-0.6zM65.9 101.5h0.6v0.6h-0.6zM66.4 108.2h0.6v0.6h-0.6zM68.9 102.2h0.6v0.6h-0.6zM62.0 99.2h0.6v0.6h-0.6zM60.4 103.6h0.6v0.6h-0.6zM61.2 112.5h0.6v0.6h-0.6zM56.6 95.3h0.6v0.6h-0.6zM60.5 87.3h0.6v0.6h-0.6zM72.5 84.7h0.6v0.6h-0.6zM63.3 99.8h0.6v0.6h-0.6zM71.5 88.1h0.6v0.6h-0.6zM69.0 98.1h0.6v0.6h-0.6zM63.8 98.6h0.6v0.6h-0.6zM67.2 94.9h0.6v0.6h-0.6zM64.2 106.8h0.6v0.6h-0.6zM72.2 84.8h0.6v0.6h-0.6zM70.9 111.6h0.6v0.6h-0.6zM62.5 106.4h0.6v0.6h-0.6zM65.4 102.3h0.6v0.6h-0.6zM63.5 102.4h0.6v0.6h-0.6zM63.8 97.0h0.6v0.6h-0.6zM73.1 88.7h0.6v0.6h-0.6zM49.4 103.0h0.6v0.6h-0.6zM63.9 107.0h0.6v0.6h-0.6zM63.6 102.8h0.6v0.6h-0.6zM65.9 111.7h0.6v0.6h-0.6zM62.6 101.0h0.6v0.6h-0.6zM72.7 108.2h0.6v0.6h-0.6zM67.8 99.3h0.6v0.6h-0.6zM59.6 106.4h0.6v0.6h-0.6zM61.0 95.5h0.6v0.6h-0.6zM59.1 100.0h0.6v0.6h-0.6zM69.2 100.5h0.6v0.6h-0.6zM58.4 109.4h0.6v0.6h-0.6zM64.8 110.8h0.6v0.6h-0.6zM69.5 102.7h0.6v0.6h-0.6zM63.9 103.6h0.6v0.6h-0.6zM59.7 109.4h0.6v0.6h-0.6zM70.3 105.4h0.6v0.6h-0.6zM63.5 101.9h0.6v0.6h-0.6zM61.2 97.6h0.6v0.6h-0.6zM62.8 97.3h0.6v0.6h-0.6zM62.7 91.4h0.6v0.6h-0.6zM66.0 104.4h0.6v0.6h-0.6zM59.7 85.6h0.6v0.6h-0.6zM64.5 112.8h0.6v0.6h-0.6zM61.4 100.1h0.6v0.6h-0.6zM62.1 109.2h0.6v0.6h-0.6zM60.7 111.9h0.6v0.6h-0.6zM63.2 111.4h0.6v0.6h-0.6zM64.6 102.1h0.6v0.6h-0.6zM58.3 98.5h0.6v0.6h-0.6zM63.4 109.3h0.6v0.6h-0.6zM65.5 98.4h0.6v0.6h-0.6zM66.2 111.9h0.6v0.6h-0.6zM63.9 100.5h0.6v0.6h-0.6zM62.8 110.5h0.6v0.6h-0.6zM66.8 96.6h0.6v0.6h-0.6zM66.1 100.2h0.6v0.6h-0.6zM61.3 113.9h0.6v0.6h-0.6zM67.9 98.2h0.6v0.6h-0.6zM64.8 108.0h0.6v0.6h-0.6zM61.8 103.0h0.6v0.6h-0.6zM67.3 89.7h0.6v0.6h-0.6zM65.9 109.9h0.6v0.6h-0.6zM66.6 93.3h0.6v0.6h-0.6zM65.8 97.1h0.6v0.6h-0.6zM66.9 108.8h0.6v0.6h-0.6zM65.4 97.9h0.6v0.6h-0.6zM62.0 110.8h0.6v0.6h-0.6zM60.7 108.0h0.6v0.6h-0.6zM66.6 101.8h0.6v0.6h-0.6zM74.6 104.6h0.6v0.6h-0.6zM73.5 87.9h0.6v0.6h-0.6zM55.1 111.9h0.6v0.6h-0.6zM67.2 101.5h0.6v0.6h-0.6zM64.3 88.8h0.6v0.6h-0.6zM61.9 95.7h0.6v0.6h-0.6zM63.6 111.1h0.6v0.6h-0.6zM64.7 107.0h0.6v0.6h-0.6zM61.6 100.5h0.6v0.6h-0.6zM65.0 101.7h0.6v0.6h-0.6zM69.8 97.0h0.6v0.6h-0.6zM72.4 96.2h0.6v0.6h-0.6zM69.0 97.8h0.6v0.6h-0.6zM71.4 105.1h0.6v0.6h-0.6zM66.2 110.0h0.6v0.6h-0.6zM61.8 95.7h0.6v0.6h-0.6zM56.0 113.8h0.6v0.6h-0.6zM61.6 99.3h0.6v0.6h-0.6zM57.2 106.0h0.6v0.6h-0.6zM62.8 108.3h0.6v0.6h-0.6zM56.9 100.8h0.6v0.6h-0.6zM68.0 116.5h0.6v0.6h-0.6zM71.2 97.2h0.6v0.6h-0.6zM64.7 103.1h0.6v0.6h-0.6zM58.7 92.5h0.6v0.6h-0.6zM67.7 106.0h0.6v0.6h-0.6zM63.9 113.7h0.6v0.6h-0.6zM60.3 108.2h0.6v0.6h-0.6zM64.5 103.5h0.6v0.6h-0.6zM66.6 105.4h0.6v0.6h-0.6zM65.6 106.1h0.6v0.6h-0.6zM72.6 101.5h0.6v0.6h-0.6zM68.8 108.9h0.6v0.6h-0.6zM63.0 110.4h0.6v0.6h-0.6zM60.9 113.3h0.6v0.6h-0.6zM61.1 100.1h0.6v0.6h-0.6zM65.9 110.7h0.6v0.6h-0.6zM68.3 111.1h0.6v0.6h-0.6zM63.6 96.4h0.6v0.6h-0.6zM66.8 106.4h0.6v0.6h-0.6zM60.5 111.8h0.6v0.6h-0.6zM65.3 96.3h0.6v0.6h-0.6zM66.4 93.4h0.6v0.6h-0.6zM60.8 107.2h0.6v0.6h-0.6zM58.0 104.3h0.6v0.6h-0.6zM58.8 109.9h0.6v0.6h-0.6zM61.4 105.5h0.6v0.6h-0.6zM58.2 101.2h0.6v0.6h-0.6zM68.5 107.7h0.6v0.6h-0.6zM56.8 111.4h0.6v0.6h-0.6zM68.2 101.0h0.6v0.6h-0.6zM70.5 95.5h0.6v0.6h-0.6zM64.1 112.9h0.6v0.6h-0.6zM70.0 114.2h0.6v0.6h-0.6zM59.9 89.8h0.6v0.6h-0.6zM66.1 92.5h0.6v0.6h-0.6zM63.9 93.7h0.6v0.6h-0.6zM69.0 110.4h0.6v0.6h-0.6zM66.8 104.1h0.6v0.6h-0.6zM64.7 101.6h0.6v0.6h-0.6zM66.1 106.0h0.6v0.6h-0.6zM66.4 100.6h0.6v0.6h-0.6zM72.5 106.3h0.6v0.6h-0.6zM70.4 114.6h0.6v0.6h-0.6zM60.8 90.5h0.6v0.6h-0.6zM69.8 100.9h0.6v0.6h-0.6zM64.8 101.9h0.6v0.6h-0.6zM65.0 94.5h0.6v0.6h-0.6zM64.1 100.3h0.6v0.6h-0.6zM64.4 85.3h0.6v0.6h-0.6zM67.9 106.7h0.6v0.6h-0.6zM57.2 98.1h0.6v0.6h-0.6zM64.6 109.0h0.6v0.6h-0.6zM64.5 115.1h0.6v0.6h-0.6zM64.6 96.0h0.6v0.6h-0.6zM61.7 109.9h0.6v0.6h-0.6zM61.9 110.7h0.6v0.6h-0.6zM68.8 108.7h0.6v0.6h-0.6zM68.8 102.6h0.6v0.6h-0.6zM64.5 99.3h0.6v0.6h-0.6zM61.9 91.5h0.6v0.6h-0.6zM62.2 95.4h0.6v0.6h-0.6zM58.5 105.2h0.6v0.6h-0.6zM66.4 101.3h0.6v0.6h-0.6zM70.2 111.5h0.6v0.6h-0.6zM68.9 99.2h0.6v0.6h-0.6zM58.2 108.5h0.6v0.6h-0.6zM65.8 109.8h0.6v0.6h-0.6zM66.3 114.1h0.6v0.6h-0.6zM63.3 109.3h0.6v0.6h-0.6zM60.7 85.5h0.6v0.6h-0.6zM62.6 116.0h0.6v0.6h-0.6zM57.5 112.1h0.6v0.6h-0.6zM61.6 100.8h0.6v0.6h-0.6zM64.7 105.7h0.6v0.6h-0.6zM60.4 105.0h0.6v0.6h-0.6zM66.4 110.7h0.6v0.6h-0.6zM61.3 116.4h0.6v0.6h-0.6zM58.9 105.4h0.6v0.6h-0.6zM56.7 107.0h0.6v0.6h-0.6zM66.8 94.8h0.6v0.6h-0.6zM57.8 105.5h0.6v0.6h-0.6zM67.1 97.7h0.6v0.6h-0.6zM63.4 83.8h0.6v0.6h-0.6zM61.5 105.2h0.6v0.6h-0.6zM65.1 116.7h0.6v0.6h-0.6zM59.7 86.0h0.6v0.6h-0.6zM66.4 99.3h0.6v0.6h-0.6zM65.7 109.7h0.6v0.6h-0.6zM67.0 115.5h0.6v0.6h-0.6zM70.2 90.7h0.6v0.6h-0.6zM62.8 111.7h0.6v0.6h-0.6zM64.3 100.6h0.6v0.6h-0.6zM71.1 112.3h0.6v0.6h-0.6zM63.5 111.3h0.6v0.6h-0.6zM59.0 98.2h0.6v0.6h-0.6zM68.3 104.3h0.6v0.6h-0.6zM60.0 107.6h0.6v0.6h-0.6zM65.9 114.3h0.6v0.6h-0.6zM68.5 101.8h0.6v0.6h-0.6zM62.5 102.9h0.6v0.6h-0.6zM63.5 115.7h0.6v0.6h-0.6zM71.2 114.9h0.6v0.6h-0.6zM66.1 102.0h0.6v0.6h-0.6zM68.3 101.2h0.6v0.6h-0.6zM65.5 90.7h0.6v0.6h-0.6zM62.7 115.5h0.6v0.6h-0.6zM60.2 92.1h0.6v0.6h-0.6zM70.6 101.1h0.6v0.6h-0.6zM62.5 103.1h0.6v0.6h-0.6zM60.6 104.3h0.6v0.6h-0.6zM63.2 92.2h0.6v0.6h-0.6zM62.1 101.9h0.6v0.6h-0.6zM60.9 95.0h0.6v0.6h-0.6zM63.3 100.6h0.6v0.6h-0.6zM66.6 102.2h0.6v0.6h-0.6zM61.2 115.1h0.6v0.6h-0.6zM60.1 98.2h0.6v0.6h-0.6zM61.7 96.9h0.6v0.6h-0.6zM63.5 108.6h0.6v0.6h-0.6zM70.6 109.3h0.6v0.6h-0.6zM64.6 94.0h0.6v0.6h-0.6zM64.2 96.5h0.6v0.6h-0.6zM64.1 111.8h0.6v0.6h-0.6zM65.4 102.3h0.6v0.6h-0.6zM61.3 103.8h0.6v0.6h-0.6zM65.0 96.6h0.6v0.6h-0.6zM62.4 111.1h0.6v0.6h-0.6zM57.5 100.5h0.6v0.6h-0.6zM59.6 116.4h0.6v0.6h-0.6zM67.0 108.1h0.6v0.6h-0.6zM66.2 106.3h0.6v0.6h-0.6zM65.7 91.3h0.6v0.6h-0.6zM65.6 108.8h0.6v0.6h-0.6zM58.5 110.6h0.6v0.6h-0.6zM67.3 91.8h0.6v0.6h-0.6zM62.5 101.5h0.6v0.6h-0.6zM62.3 107.1h0.6v0.6h-0.6zM59.1 102.2h0.6v0.6h-0.6zM65.4 109.8h0.6v0.6h-0.6zM64.7 102.1h0.6v0.6h-0.6zM67.4 88.1h0.6v0.6h-0.6zM68.4 101.5h0.6v0.6h-0.6z" fill="#666"/>
<path d="M28.5 67.2 C33 66 40 65.7 45 65.7 C50 65.8 55 65.9 57.5 66.4 C60 67.2 61.4 69.4 61.4 72.4 L61.4 84 C61.4 87 59.5 88.4 56.5 88.7 C48 89.1 38 89.2 28.5 89.1 Z" fill="#1a1a1a"/>
<path d="M29.9 68.2 C35 67.8 45 67.6 52 67.6 C55 67.6 56.8 68.1 57.1 69.2 L57.6 76.5 C55.5 77.3 54 77.8 52.9 78.6 C51.8 79.6 51.5 81 51.3 82.5 L51.4 86.7 C45 87.2 37 87.5 29.9 87.6 Z" fill="#d4d4d4"/>
<path d="M44 68.3 C50 68.1 55 68.2 56.4 69.6 L56.9 75.8 C54 76.5 52 76 50 75 C47 72 45 70 44 68.3 Z" fill="#f4f4f4"/>
<path d="M30.1 70.8 C38 70.2 46 70.3 51 71.6 C53.5 72.5 53.5 74.5 51.5 76.5 C50 78 49.5 80 49.5 82.5 C49 84 40 84.8 30.1 85" fill="none" stroke="#8a8a8a" stroke-width="0.6"/>
<path d="M30.1 72.6 C37 72.1 44 72.3 48.5 73.8 C50.5 74.8 50 76 48 77.3 C46 78.6 44 79.7 38 80.3 C35 80.6 32 80.7 30.1 80.7" fill="none" stroke="#777" stroke-width="0.6"/>
<path d="M30.1 82.6 C37 82.4 43 82.2 47.5 81.4" fill="none" stroke="#aaa" stroke-width="0.5"/>
<ellipse cx="37" cy="76.8" rx="7.8" ry="2.6" fill="#777" filter="url(#b1)"/>
<path d="M30.5 75.8 C36 74.9 42 74.8 46.5 75.5 C42 76.3 36 76.5 30.5 76.4 Z" fill="#1a1a1a"/>
<path d="M30.5 77.5 C34 77.1 38 77.1 41.5 77.7 C38 78.5 34 78.7 30.5 78.5 Z" fill="#222"/>
<ellipse cx="52.9" cy="71.2" rx="1.3" ry="0.9" fill="none" stroke="#888" stroke-width="0.5"/>
<ellipse cx="63.1" cy="104.1" rx="2.9" ry="12.1" fill="#1a1a1a" transform="rotate(-3 63.1 104.1)"/>
<ellipse cx="63" cy="105.7" rx="1.7" ry="7.9" fill="#f0f0f0" transform="rotate(-3 63 105.7)"/>
<ellipse cx="63" cy="106.5" rx="0.9" ry="4.5" fill="none" transform="rotate(-3 63 106.5)" stroke="#bbb" stroke-width="0.4"/>
</g>
<clipPath id="c_bm2"><rect x="114.7" y="53.9" width="62.9" height="63.7"/></clipPath><g clip-path="url(#c_bm2)">
<path d="M124 78 C132 76 141 85 144.5 94 C146.5 101 146.5 110 147 118 L124 118 Z" fill="#bdbdbd" filter="url(#b2)" opacity="0.85"/>
<path d="M129.1 96.3h0.6v0.6h-0.6zM137.1 83.5h0.6v0.6h-0.6zM126.8 93.5h0.6v0.6h-0.6zM140.9 96.2h0.6v0.6h-0.6zM122.5 84.7h0.6v0.6h-0.6zM139.6 91.2h0.6v0.6h-0.6zM145.9 92.2h0.6v0.6h-0.6zM132.4 88.4h0.6v0.6h-0.6zM146.2 80.3h0.6v0.6h-0.6zM125.4 84.5h0.6v0.6h-0.6zM135.1 90.7h0.6v0.6h-0.6zM132.0 90.6h0.6v0.6h-0.6zM138.2 94.0h0.6v0.6h-0.6zM140.5 88.2h0.6v0.6h-0.6zM127.5 100.2h0.6v0.6h-0.6zM125.9 93.1h0.6v0.6h-0.6zM126.4 94.4h0.6v0.6h-0.6zM130.8 93.8h0.6v0.6h-0.6zM151.0 79.8h0.6v0.6h-0.6zM133.1 78.3h0.6v0.6h-0.6zM135.2 95.5h0.6v0.6h-0.6zM135.0 92.8h0.6v0.6h-0.6zM130.5 82.7h0.6v0.6h-0.6zM133.7 82.7h0.6v0.6h-0.6zM141.7 80.9h0.6v0.6h-0.6zM137.6 88.0h0.6v0.6h-0.6zM136.5 83.0h0.6v0.6h-0.6zM138.7 86.1h0.6v0.6h-0.6zM143.1 90.5h0.6v0.6h-0.6zM131.6 84.2h0.6v0.6h-0.6zM139.9 90.9h0.6v0.6h-0.6zM141.0 82.5h0.6v0.6h-0.6zM138.9 91.9h0.6v0.6h-0.6zM136.3 90.6h0.6v0.6h-0.6zM132.6 85.3h0.6v0.6h-0.6zM127.1 90.3h0.6v0.6h-0.6zM143.1 98.7h0.6v0.6h-0.6zM143.3 94.4h0.6v0.6h-0.6zM140.8 92.5h0.6v0.6h-0.6zM138.0 94.8h0.6v0.6h-0.6zM141.9 82.4h0.6v0.6h-0.6zM138.2 105.7h0.6v0.6h-0.6zM139.2 96.0h0.6v0.6h-0.6zM134.0 79.5h0.6v0.6h-0.6zM153.7 95.0h0.6v0.6h-0.6zM137.9 94.7h0.6v0.6h-0.6zM131.1 83.5h0.6v0.6h-0.6zM134.9 92.9h0.6v0.6h-0.6zM142.6 91.6h0.6v0.6h-0.6zM139.7 99.2h0.6v0.6h-0.6zM133.2 97.8h0.6v0.6h-0.6zM138.6 84.6h0.6v0.6h-0.6zM121.1 89.1h0.6v0.6h-0.6zM137.3 92.9h0.6v0.6h-0.6zM138.0 78.4h0.6v0.6h-0.6zM136.6 94.5h0.6v0.6h-0.6zM123.7 74.1h0.6v0.6h-0.6zM147.4 103.6h0.6v0.6h-0.6zM135.5 80.6h0.6v0.6h-0.6zM132.7 92.8h0.6v0.6h-0.6zM149.4 86.8h0.6v0.6h-0.6zM140.8 100.4h0.6v0.6h-0.6zM141.0 103.1h0.6v0.6h-0.6zM128.5 88.8h0.6v0.6h-0.6zM143.4 97.7h0.6v0.6h-0.6zM138.6 90.1h0.6v0.6h-0.6zM121.7 90.5h0.6v0.6h-0.6zM128.7 88.1h0.6v0.6h-0.6zM135.7 85.9h0.6v0.6h-0.6zM138.4 88.2h0.6v0.6h-0.6zM132.7 91.8h0.6v0.6h-0.6zM139.7 94.7h0.6v0.6h-0.6zM130.6 89.8h0.6v0.6h-0.6zM133.3 105.2h0.6v0.6h-0.6zM140.8 84.4h0.6v0.6h-0.6zM126.6 82.9h0.6v0.6h-0.6zM135.7 90.9h0.6v0.6h-0.6zM146.3 85.2h0.6v0.6h-0.6zM120.2 75.4h0.6v0.6h-0.6zM142.1 87.1h0.6v0.6h-0.6zM126.4 96.1h0.6v0.6h-0.6zM142.1 90.6h0.6v0.6h-0.6zM124.5 75.7h0.6v0.6h-0.6zM127.1 79.6h0.6v0.6h-0.6zM128.5 73.4h0.6v0.6h-0.6zM134.2 101.2h0.6v0.6h-0.6zM137.8 76.9h0.6v0.6h-0.6zM129.5 100.7h0.6v0.6h-0.6zM134.5 80.6h0.6v0.6h-0.6zM127.6 87.3h0.6v0.6h-0.6zM125.1 88.9h0.6v0.6h-0.6zM143.3 91.0h0.6v0.6h-0.6zM144.3 83.2h0.6v0.6h-0.6zM129.4 83.6h0.6v0.6h-0.6zM128.1 81.3h0.6v0.6h-0.6zM127.6 100.2h0.6v0.6h-0.6zM144.8 91.5h0.6v0.6h-0.6zM141.9 87.8h0.6v0.6h-0.6zM130.6 92.8h0.6v0.6h-0.6zM127.6 83.4h0.6v0.6h-0.6zM119.3 84.8h0.6v0.6h-0.6zM134.6 91.1h0.6v0.6h-0.6zM137.2 101.3h0.6v0.6h-0.6zM137.3 93.5h0.6v0.6h-0.6zM137.1 80.7h0.6v0.6h-0.6zM126.8 101.1h0.6v0.6h-0.6zM135.7 101.1h0.6v0.6h-0.6zM139.8 96.0h0.6v0.6h-0.6zM129.6 73.3h0.6v0.6h-0.6zM135.0 83.2h0.6v0.6h-0.6zM128.3 89.3h0.6v0.6h-0.6zM141.5 93.8h0.6v0.6h-0.6zM132.6 75.5h0.6v0.6h-0.6zM121.4 75.3h0.6v0.6h-0.6zM135.9 94.5h0.6v0.6h-0.6zM131.0 94.0h0.6v0.6h-0.6zM139.2 96.3h0.6v0.6h-0.6zM126.4 86.7h0.6v0.6h-0.6zM137.0 104.4h0.6v0.6h-0.6zM139.2 85.9h0.6v0.6h-0.6zM135.6 90.1h0.6v0.6h-0.6zM134.2 87.9h0.6v0.6h-0.6zM127.2 82.3h0.6v0.6h-0.6zM137.3 103.4h0.6v0.6h-0.6zM137.0 88.8h0.6v0.6h-0.6zM133.1 91.1h0.6v0.6h-0.6zM133.3 84.5h0.6v0.6h-0.6zM136.0 91.1h0.6v0.6h-0.6zM127.0 86.8h0.6v0.6h-0.6zM124.6 85.6h0.6v0.6h-0.6zM129.2 71.0h0.6v0.6h-0.6zM130.2 86.6h0.6v0.6h-0.6zM131.2 92.5h0.6v0.6h-0.6zM140.2 87.1h0.6v0.6h-0.6zM130.8 86.2h0.6v0.6h-0.6zM137.0 96.7h0.6v0.6h-0.6zM127.4 83.2h0.6v0.6h-0.6zM123.0 86.1h0.6v0.6h-0.6zM131.2 101.8h0.6v0.6h-0.6zM134.9 87.3h0.6v0.6h-0.6zM139.0 81.1h0.6v0.6h-0.6zM141.1 93.3h0.6v0.6h-0.6zM119.7 83.9h0.6v0.6h-0.6zM132.8 99.1h0.6v0.6h-0.6zM135.8 77.6h0.6v0.6h-0.6zM137.9 84.2h0.6v0.6h-0.6zM129.8 87.4h0.6v0.6h-0.6zM125.0 78.4h0.6v0.6h-0.6zM123.9 84.4h0.6v0.6h-0.6zM144.9 103.0h0.6v0.6h-0.6zM146.8 79.5h0.6v0.6h-0.6zM123.4 92.3h0.6v0.6h-0.6zM137.1 106.6h0.6v0.6h-0.6zM134.1 83.2h0.6v0.6h-0.6zM141.0 90.9h0.6v0.6h-0.6zM123.4 91.2h0.6v0.6h-0.6zM132.8 90.8h0.6v0.6h-0.6zM133.3 87.3h0.6v0.6h-0.6zM132.6 85.4h0.6v0.6h-0.6zM135.4 103.2h0.6v0.6h-0.6zM137.6 92.0h0.6v0.6h-0.6zM125.0 93.6h0.6v0.6h-0.6zM133.1 78.6h0.6v0.6h-0.6zM138.1 84.0h0.6v0.6h-0.6zM135.6 87.9h0.6v0.6h-0.6zM139.9 97.7h0.6v0.6h-0.6zM138.2 102.0h0.6v0.6h-0.6zM126.2 85.9h0.6v0.6h-0.6zM133.4 80.5h0.6v0.6h-0.6zM135.7 97.4h0.6v0.6h-0.6zM133.2 74.1h0.6v0.6h-0.6zM144.2 101.5h0.6v0.6h-0.6zM139.2 84.8h0.6v0.6h-0.6zM129.7 89.7h0.6v0.6h-0.6zM127.0 91.6h0.6v0.6h-0.6zM132.4 89.6h0.6v0.6h-0.6zM139.2 84.9h0.6v0.6h-0.6zM130.6 101.7h0.6v0.6h-0.6zM126.6 90.1h0.6v0.6h-0.6zM131.9 88.0h0.6v0.6h-0.6zM127.8 91.3h0.6v0.6h-0.6zM142.9 79.2h0.6v0.6h-0.6zM137.8 98.2h0.6v0.6h-0.6zM140.9 93.1h0.6v0.6h-0.6zM130.6 73.8h0.6v0.6h-0.6zM130.0 93.5h0.6v0.6h-0.6zM141.8 97.5h0.6v0.6h-0.6zM135.5 86.9h0.6v0.6h-0.6zM133.4 88.4h0.6v0.6h-0.6zM138.0 93.9h0.6v0.6h-0.6zM129.0 85.4h0.6v0.6h-0.6zM133.9 100.2h0.6v0.6h-0.6zM144.6 93.0h0.6v0.6h-0.6zM141.8 93.2h0.6v0.6h-0.6zM136.6 94.6h0.6v0.6h-0.6zM127.7 91.7h0.6v0.6h-0.6zM133.1 97.2h0.6v0.6h-0.6zM130.6 91.0h0.6v0.6h-0.6zM141.5 98.2h0.6v0.6h-0.6zM126.1 85.9h0.6v0.6h-0.6zM133.8 79.9h0.6v0.6h-0.6zM134.1 84.7h0.6v0.6h-0.6zM126.2 77.7h0.6v0.6h-0.6zM135.7 84.4h0.6v0.6h-0.6zM137.6 107.1h0.6v0.6h-0.6zM151.7 112.2h0.6v0.6h-0.6zM134.7 86.4h0.6v0.6h-0.6zM141.0 100.8h0.6v0.6h-0.6zM135.7 93.2h0.6v0.6h-0.6zM133.0 82.1h0.6v0.6h-0.6zM132.7 86.1h0.6v0.6h-0.6zM131.0 99.8h0.6v0.6h-0.6zM137.8 88.5h0.6v0.6h-0.6zM121.3 78.8h0.6v0.6h-0.6zM136.1 87.9h0.6v0.6h-0.6zM125.0 94.6h0.6v0.6h-0.6zM126.0 94.4h0.6v0.6h-0.6zM136.2 92.0h0.6v0.6h-0.6zM135.8 90.5h0.6v0.6h-0.6zM126.5 90.8h0.6v0.6h-0.6zM130.4 89.9h0.6v0.6h-0.6zM137.9 93.5h0.6v0.6h-0.6zM132.2 67.3h0.6v0.6h-0.6zM135.3 87.4h0.6v0.6h-0.6zM149.6 89.6h0.6v0.6h-0.6zM127.0 97.7h0.6v0.6h-0.6zM135.3 98.4h0.6v0.6h-0.6zM128.1 92.5h0.6v0.6h-0.6zM132.9 89.7h0.6v0.6h-0.6zM123.6 79.0h0.6v0.6h-0.6zM140.4 95.5h0.6v0.6h-0.6zM129.6 83.2h0.6v0.6h-0.6zM137.3 93.3h0.6v0.6h-0.6zM133.0 90.4h0.6v0.6h-0.6zM136.8 78.0h0.6v0.6h-0.6zM123.5 78.5h0.6v0.6h-0.6zM127.4 87.0h0.6v0.6h-0.6zM126.2 88.1h0.6v0.6h-0.6zM142.6 83.2h0.6v0.6h-0.6zM142.2 105.6h0.6v0.6h-0.6zM126.7 78.2h0.6v0.6h-0.6zM132.3 82.3h0.6v0.6h-0.6zM137.5 76.5h0.6v0.6h-0.6zM124.6 80.6h0.6v0.6h-0.6zM130.4 82.7h0.6v0.6h-0.6zM132.2 87.6h0.6v0.6h-0.6zM134.6 98.4h0.6v0.6h-0.6zM139.1 87.6h0.6v0.6h-0.6zM125.0 85.3h0.6v0.6h-0.6zM145.0 105.8h0.6v0.6h-0.6zM128.5 85.9h0.6v0.6h-0.6zM126.0 84.5h0.6v0.6h-0.6zM128.1 91.5h0.6v0.6h-0.6zM141.4 85.7h0.6v0.6h-0.6zM124.9 80.3h0.6v0.6h-0.6zM135.0 89.2h0.6v0.6h-0.6zM123.3 86.2h0.6v0.6h-0.6zM137.8 97.1h0.6v0.6h-0.6zM138.1 89.5h0.6v0.6h-0.6zM133.6 93.2h0.6v0.6h-0.6zM142.6 105.1h0.6v0.6h-0.6zM126.6 90.8h0.6v0.6h-0.6zM139.5 84.4h0.6v0.6h-0.6zM141.2 85.4h0.6v0.6h-0.6zM133.3 87.0h0.6v0.6h-0.6zM122.9 87.4h0.6v0.6h-0.6zM148.1 87.8h0.6v0.6h-0.6zM141.0 94.8h0.6v0.6h-0.6zM141.0 95.4h0.6v0.6h-0.6zM131.7 89.3h0.6v0.6h-0.6zM137.7 84.6h0.6v0.6h-0.6zM126.2 92.4h0.6v0.6h-0.6zM133.6 95.9h0.6v0.6h-0.6zM126.0 84.8h0.6v0.6h-0.6zM138.5 101.8h0.6v0.6h-0.6zM134.4 91.3h0.6v0.6h-0.6zM135.2 92.0h0.6v0.6h-0.6zM144.4 96.9h0.6v0.6h-0.6zM130.9 104.4h0.6v0.6h-0.6zM132.7 87.8h0.6v0.6h-0.6zM145.8 81.6h0.6v0.6h-0.6zM148.0 90.9h0.6v0.6h-0.6zM130.6 96.5h0.6v0.6h-0.6zM137.3 86.9h0.6v0.6h-0.6zM120.5 94.6h0.6v0.6h-0.6zM128.6 82.9h0.6v0.6h-0.6zM142.5 82.8h0.6v0.6h-0.6zM130.8 89.1h0.6v0.6h-0.6zM126.8 87.0h0.6v0.6h-0.6zM135.7 91.9h0.6v0.6h-0.6zM131.0 90.9h0.6v0.6h-0.6zM128.9 97.8h0.6v0.6h-0.6zM131.0 93.7h0.6v0.6h-0.6zM127.2 89.2h0.6v0.6h-0.6zM130.3 81.0h0.6v0.6h-0.6zM146.7 82.3h0.6v0.6h-0.6zM130.7 85.1h0.6v0.6h-0.6zM147.8 94.8h0.6v0.6h-0.6zM130.1 79.6h0.6v0.6h-0.6zM133.8 95.8h0.6v0.6h-0.6zM126.6 83.3h0.6v0.6h-0.6zM124.7 88.2h0.6v0.6h-0.6zM131.5 85.5h0.6v0.6h-0.6zM145.3 109.3h0.6v0.6h-0.6zM139.1 77.5h0.6v0.6h-0.6zM136.1 89.6h0.6v0.6h-0.6zM137.5 97.6h0.6v0.6h-0.6zM131.0 88.7h0.6v0.6h-0.6zM131.7 90.4h0.6v0.6h-0.6zM143.8 91.5h0.6v0.6h-0.6zM125.3 91.0h0.6v0.6h-0.6zM133.1 98.0h0.6v0.6h-0.6zM138.7 95.5h0.6v0.6h-0.6zM126.0 77.0h0.6v0.6h-0.6zM137.3 90.2h0.6v0.6h-0.6zM131.4 79.5h0.6v0.6h-0.6zM131.7 85.0h0.6v0.6h-0.6zM131.8 94.5h0.6v0.6h-0.6zM132.3 82.8h0.6v0.6h-0.6zM115.2 78.0h0.6v0.6h-0.6zM135.5 99.5h0.6v0.6h-0.6zM124.7 74.6h0.6v0.6h-0.6zM131.2 95.5h0.6v0.6h-0.6zM147.4 93.1h0.6v0.6h-0.6zM136.7 90.3h0.6v0.6h-0.6zM126.7 90.0h0.6v0.6h-0.6zM129.2 85.6h0.6v0.6h-0.6zM132.8 87.1h0.6v0.6h-0.6zM141.5 98.9h0.6v0.6h-0.6zM139.5 90.7h0.6v0.6h-0.6zM126.7 80.2h0.6v0.6h-0.6zM135.6 94.1h0.6v0.6h-0.6zM133.8 101.7h0.6v0.6h-0.6zM133.8 93.6h0.6v0.6h-0.6zM127.3 82.3h0.6v0.6h-0.6zM140.1 75.8h0.6v0.6h-0.6zM136.5 83.4h0.6v0.6h-0.6zM132.2 83.6h0.6v0.6h-0.6zM135.5 97.6h0.6v0.6h-0.6zM140.7 78.3h0.6v0.6h-0.6zM137.8 96.5h0.6v0.6h-0.6zM133.6 96.8h0.6v0.6h-0.6zM132.3 96.5h0.6v0.6h-0.6zM141.1 97.1h0.6v0.6h-0.6zM131.1 80.6h0.6v0.6h-0.6zM133.0 80.4h0.6v0.6h-0.6zM143.9 98.2h0.6v0.6h-0.6zM134.9 84.4h0.6v0.6h-0.6zM140.9 87.6h0.6v0.6h-0.6zM126.1 91.3h0.6v0.6h-0.6zM140.2 83.6h0.6v0.6h-0.6zM133.3 87.3h0.6v0.6h-0.6zM123.2 91.5h0.6v0.6h-0.6zM136.7 90.4h0.6v0.6h-0.6zM124.6 75.7h0.6v0.6h-0.6zM143.2 91.3h0.6v0.6h-0.6zM144.5 95.9h0.6v0.6h-0.6zM129.3 87.1h0.6v0.6h-0.6zM142.3 100.7h0.6v0.6h-0.6zM124.3 93.5h0.6v0.6h-0.6zM132.5 96.0h0.6v0.6h-0.6zM140.4 83.6h0.6v0.6h-0.6zM127.8 94.1h0.6v0.6h-0.6zM126.3 80.2h0.6v0.6h-0.6zM136.5 83.7h0.6v0.6h-0.6zM132.3 78.8h0.6v0.6h-0.6zM133.9 76.7h0.6v0.6h-0.6zM132.2 74.3h0.6v0.6h-0.6zM139.7 83.3h0.6v0.6h-0.6zM125.0 93.0h0.6v0.6h-0.6zM131.8 82.1h0.6v0.6h-0.6zM132.5 93.3h0.6v0.6h-0.6zM120.9 69.3h0.6v0.6h-0.6zM133.5 94.2h0.6v0.6h-0.6zM139.6 96.1h0.6v0.6h-0.6zM140.6 109.8h0.6v0.6h-0.6zM139.4 89.8h0.6v0.6h-0.6zM143.5 93.4h0.6v0.6h-0.6zM132.0 85.4h0.6v0.6h-0.6z" fill="#666"/>
<path d="M134.7 109.2h0.6v0.6h-0.6zM138.2 105.6h0.6v0.6h-0.6zM141.9 108.3h0.6v0.6h-0.6zM138.2 117.0h0.6v0.6h-0.6zM137.5 101.7h0.6v0.6h-0.6zM134.9 105.4h0.6v0.6h-0.6zM141.0 112.3h0.6v0.6h-0.6zM144.2 111.3h0.6v0.6h-0.6zM143.1 111.4h0.6v0.6h-0.6zM137.4 112.3h0.6v0.6h-0.6zM139.3 107.2h0.6v0.6h-0.6zM145.2 112.1h0.6v0.6h-0.6zM137.7 107.9h0.6v0.6h-0.6zM146.2 107.0h0.6v0.6h-0.6zM141.4 111.4h0.6v0.6h-0.6zM140.7 111.2h0.6v0.6h-0.6zM137.7 105.9h0.6v0.6h-0.6zM138.7 106.5h0.6v0.6h-0.6zM141.6 116.1h0.6v0.6h-0.6zM136.5 111.0h0.6v0.6h-0.6zM136.2 104.8h0.6v0.6h-0.6zM138.4 108.8h0.6v0.6h-0.6zM137.8 95.1h0.6v0.6h-0.6zM143.4 106.9h0.6v0.6h-0.6zM137.2 111.7h0.6v0.6h-0.6zM137.4 101.0h0.6v0.6h-0.6zM140.7 110.4h0.6v0.6h-0.6zM136.7 112.5h0.6v0.6h-0.6zM140.3 102.5h0.6v0.6h-0.6zM144.5 109.6h0.6v0.6h-0.6zM135.7 110.6h0.6v0.6h-0.6zM139.6 113.2h0.6v0.6h-0.6zM135.1 113.6h0.6v0.6h-0.6zM142.0 111.8h0.6v0.6h-0.6zM141.0 114.9h0.6v0.6h-0.6zM141.3 108.9h0.6v0.6h-0.6zM136.6 113.9h0.6v0.6h-0.6zM142.2 109.8h0.6v0.6h-0.6zM139.6 111.9h0.6v0.6h-0.6zM131.5 109.9h0.6v0.6h-0.6zM131.6 109.5h0.6v0.6h-0.6zM137.7 110.4h0.6v0.6h-0.6zM138.9 97.0h0.6v0.6h-0.6zM141.4 108.2h0.6v0.6h-0.6zM139.4 103.5h0.6v0.6h-0.6zM139.0 108.7h0.6v0.6h-0.6zM143.0 109.7h0.6v0.6h-0.6zM149.8 106.2h0.6v0.6h-0.6zM138.3 108.0h0.6v0.6h-0.6zM136.7 115.9h0.6v0.6h-0.6zM141.1 101.8h0.6v0.6h-0.6zM139.5 114.1h0.6v0.6h-0.6zM134.8 109.0h0.6v0.6h-0.6zM140.4 106.2h0.6v0.6h-0.6zM134.4 107.3h0.6v0.6h-0.6zM138.4 104.7h0.6v0.6h-0.6zM138.5 111.7h0.6v0.6h-0.6zM137.1 101.0h0.6v0.6h-0.6zM143.2 115.7h0.6v0.6h-0.6zM137.0 109.8h0.6v0.6h-0.6zM131.3 113.5h0.6v0.6h-0.6zM135.1 105.4h0.6v0.6h-0.6zM145.7 101.8h0.6v0.6h-0.6zM139.2 102.8h0.6v0.6h-0.6zM133.5 102.3h0.6v0.6h-0.6zM140.0 101.6h0.6v0.6h-0.6zM137.3 111.9h0.6v0.6h-0.6zM138.7 101.6h0.6v0.6h-0.6zM143.7 108.8h0.6v0.6h-0.6zM143.4 102.9h0.6v0.6h-0.6zM144.3 101.4h0.6v0.6h-0.6zM133.8 106.1h0.6v0.6h-0.6zM138.0 109.6h0.6v0.6h-0.6zM137.4 111.4h0.6v0.6h-0.6zM143.2 104.9h0.6v0.6h-0.6zM135.0 106.2h0.6v0.6h-0.6zM141.6 112.4h0.6v0.6h-0.6zM138.1 103.2h0.6v0.6h-0.6zM139.1 113.1h0.6v0.6h-0.6zM137.0 114.8h0.6v0.6h-0.6zM139.8 109.7h0.6v0.6h-0.6zM137.2 115.1h0.6v0.6h-0.6zM139.3 100.7h0.6v0.6h-0.6zM141.6 106.1h0.6v0.6h-0.6zM142.4 109.1h0.6v0.6h-0.6zM137.2 109.1h0.6v0.6h-0.6zM137.6 104.0h0.6v0.6h-0.6zM139.2 112.4h0.6v0.6h-0.6zM139.4 107.8h0.6v0.6h-0.6zM137.4 111.1h0.6v0.6h-0.6zM140.0 113.1h0.6v0.6h-0.6zM134.4 107.9h0.6v0.6h-0.6zM140.8 112.8h0.6v0.6h-0.6zM134.5 102.0h0.6v0.6h-0.6zM139.0 113.5h0.6v0.6h-0.6zM142.5 100.5h0.6v0.6h-0.6zM139.5 114.2h0.6v0.6h-0.6zM139.2 103.0h0.6v0.6h-0.6zM137.0 101.5h0.6v0.6h-0.6zM142.8 106.9h0.6v0.6h-0.6zM137.8 103.8h0.6v0.6h-0.6zM138.7 103.6h0.6v0.6h-0.6zM136.2 108.0h0.6v0.6h-0.6zM138.4 110.5h0.6v0.6h-0.6zM139.6 114.2h0.6v0.6h-0.6zM139.0 109.5h0.6v0.6h-0.6zM139.8 104.1h0.6v0.6h-0.6zM142.7 105.4h0.6v0.6h-0.6zM134.3 114.5h0.6v0.6h-0.6zM141.1 105.4h0.6v0.6h-0.6zM142.0 113.1h0.6v0.6h-0.6zM141.3 102.3h0.6v0.6h-0.6zM139.7 103.0h0.6v0.6h-0.6zM137.3 105.4h0.6v0.6h-0.6zM136.6 110.7h0.6v0.6h-0.6zM136.7 111.3h0.6v0.6h-0.6zM139.6 105.1h0.6v0.6h-0.6zM139.6 111.7h0.6v0.6h-0.6zM142.6 106.9h0.6v0.6h-0.6zM144.4 111.1h0.6v0.6h-0.6zM142.9 101.4h0.6v0.6h-0.6zM135.9 114.3h0.6v0.6h-0.6zM138.4 110.6h0.6v0.6h-0.6zM142.8 100.9h0.6v0.6h-0.6zM141.5 108.7h0.6v0.6h-0.6zM140.8 108.2h0.6v0.6h-0.6zM141.5 114.8h0.6v0.6h-0.6zM138.4 111.1h0.6v0.6h-0.6zM140.0 112.0h0.6v0.6h-0.6zM141.7 102.8h0.6v0.6h-0.6zM142.6 112.6h0.6v0.6h-0.6zM135.8 106.8h0.6v0.6h-0.6zM134.7 106.7h0.6v0.6h-0.6zM140.1 102.4h0.6v0.6h-0.6zM136.8 103.8h0.6v0.6h-0.6zM137.0 104.3h0.6v0.6h-0.6zM135.9 111.1h0.6v0.6h-0.6zM138.5 104.1h0.6v0.6h-0.6zM142.1 105.4h0.6v0.6h-0.6zM141.8 102.0h0.6v0.6h-0.6zM143.4 105.9h0.6v0.6h-0.6zM136.3 110.3h0.6v0.6h-0.6zM135.1 102.8h0.6v0.6h-0.6zM139.8 105.8h0.6v0.6h-0.6zM140.3 108.9h0.6v0.6h-0.6zM139.9 108.9h0.6v0.6h-0.6zM141.3 108.2h0.6v0.6h-0.6zM142.5 113.0h0.6v0.6h-0.6zM133.2 99.4h0.6v0.6h-0.6zM143.8 106.0h0.6v0.6h-0.6zM139.7 107.6h0.6v0.6h-0.6zM137.0 108.5h0.6v0.6h-0.6z" fill="#444"/>
<path d="M114.3 84 C120 81.5 127 82 130 87 C133 92 137 96 141 99.5 C144.5 103 145.5 110 146 118 L114.3 118 Z" fill="#737373" filter="url(#b1)"/>
<path d="M125.5 109.1h0.7v0.7h-0.7zM121.3 89.3h0.7v0.7h-0.7zM127.7 104.0h0.7v0.7h-0.7zM128.6 103.4h0.7v0.7h-0.7zM125.7 96.8h0.7v0.7h-0.7zM121.9 99.2h0.7v0.7h-0.7zM124.2 106.1h0.7v0.7h-0.7zM130.3 93.0h0.7v0.7h-0.7zM130.8 100.4h0.7v0.7h-0.7zM133.3 109.7h0.7v0.7h-0.7zM130.0 89.9h0.7v0.7h-0.7zM130.6 91.2h0.7v0.7h-0.7zM136.1 96.7h0.7v0.7h-0.7zM125.5 111.7h0.7v0.7h-0.7zM116.0 100.8h0.7v0.7h-0.7zM120.2 97.5h0.7v0.7h-0.7zM121.8 104.8h0.7v0.7h-0.7zM124.8 102.8h0.7v0.7h-0.7zM130.5 90.3h0.7v0.7h-0.7zM135.2 99.2h0.7v0.7h-0.7zM116.6 96.7h0.7v0.7h-0.7zM132.0 106.8h0.7v0.7h-0.7zM122.5 101.3h0.7v0.7h-0.7zM128.1 107.0h0.7v0.7h-0.7zM125.9 106.7h0.7v0.7h-0.7zM121.3 96.3h0.7v0.7h-0.7zM130.7 105.1h0.7v0.7h-0.7zM126.4 104.4h0.7v0.7h-0.7zM128.0 105.4h0.7v0.7h-0.7zM133.8 103.9h0.7v0.7h-0.7zM131.7 98.3h0.7v0.7h-0.7zM123.3 86.3h0.7v0.7h-0.7zM129.2 100.9h0.7v0.7h-0.7zM130.0 89.3h0.7v0.7h-0.7zM123.7 97.3h0.7v0.7h-0.7zM115.7 106.2h0.7v0.7h-0.7zM134.2 92.9h0.7v0.7h-0.7zM129.4 111.3h0.7v0.7h-0.7zM119.3 106.7h0.7v0.7h-0.7zM136.4 112.1h0.7v0.7h-0.7zM118.4 94.2h0.7v0.7h-0.7zM128.0 108.1h0.7v0.7h-0.7zM119.0 96.1h0.7v0.7h-0.7zM119.9 107.5h0.7v0.7h-0.7zM123.3 104.2h0.7v0.7h-0.7zM130.7 107.8h0.7v0.7h-0.7zM129.3 102.8h0.7v0.7h-0.7zM133.8 103.6h0.7v0.7h-0.7zM119.0 97.4h0.7v0.7h-0.7zM132.3 101.6h0.7v0.7h-0.7zM124.5 102.2h0.7v0.7h-0.7zM147.1 100.4h0.7v0.7h-0.7zM129.7 103.5h0.7v0.7h-0.7zM125.0 108.0h0.7v0.7h-0.7zM132.0 103.2h0.7v0.7h-0.7zM118.4 108.5h0.7v0.7h-0.7zM131.4 100.2h0.7v0.7h-0.7zM119.2 99.3h0.7v0.7h-0.7zM123.6 95.6h0.7v0.7h-0.7zM132.9 101.4h0.7v0.7h-0.7zM134.3 94.8h0.7v0.7h-0.7zM125.5 109.1h0.7v0.7h-0.7zM128.7 96.2h0.7v0.7h-0.7zM121.2 97.0h0.7v0.7h-0.7zM126.2 104.9h0.7v0.7h-0.7zM127.6 105.3h0.7v0.7h-0.7zM131.9 101.4h0.7v0.7h-0.7zM134.6 105.2h0.7v0.7h-0.7zM125.6 99.7h0.7v0.7h-0.7zM126.6 96.1h0.7v0.7h-0.7zM118.4 100.9h0.7v0.7h-0.7zM123.5 104.3h0.7v0.7h-0.7zM123.0 101.3h0.7v0.7h-0.7zM127.9 97.8h0.7v0.7h-0.7zM127.9 96.2h0.7v0.7h-0.7zM124.0 105.6h0.7v0.7h-0.7zM129.1 100.7h0.7v0.7h-0.7zM121.8 105.0h0.7v0.7h-0.7zM139.0 87.3h0.7v0.7h-0.7zM133.1 102.0h0.7v0.7h-0.7zM133.4 107.9h0.7v0.7h-0.7zM120.4 111.4h0.7v0.7h-0.7zM123.0 99.1h0.7v0.7h-0.7zM130.5 100.1h0.7v0.7h-0.7zM128.3 97.5h0.7v0.7h-0.7zM120.3 100.8h0.7v0.7h-0.7zM119.9 108.9h0.7v0.7h-0.7zM128.2 109.3h0.7v0.7h-0.7zM119.0 87.8h0.7v0.7h-0.7zM118.7 102.9h0.7v0.7h-0.7zM117.7 92.1h0.7v0.7h-0.7zM128.4 98.2h0.7v0.7h-0.7zM130.8 105.6h0.7v0.7h-0.7zM128.8 93.2h0.7v0.7h-0.7zM121.3 114.6h0.7v0.7h-0.7zM125.2 102.4h0.7v0.7h-0.7zM127.4 100.5h0.7v0.7h-0.7zM125.6 97.2h0.7v0.7h-0.7zM123.5 88.2h0.7v0.7h-0.7zM136.9 100.0h0.7v0.7h-0.7zM118.6 103.8h0.7v0.7h-0.7zM130.8 91.8h0.7v0.7h-0.7zM123.4 109.8h0.7v0.7h-0.7zM130.0 103.3h0.7v0.7h-0.7zM132.8 99.8h0.7v0.7h-0.7zM124.8 110.5h0.7v0.7h-0.7zM125.5 100.2h0.7v0.7h-0.7zM130.6 100.8h0.7v0.7h-0.7zM119.0 112.3h0.7v0.7h-0.7zM126.2 111.7h0.7v0.7h-0.7zM129.8 95.0h0.7v0.7h-0.7zM136.2 99.6h0.7v0.7h-0.7zM121.4 100.5h0.7v0.7h-0.7zM122.2 99.1h0.7v0.7h-0.7zM121.2 104.8h0.7v0.7h-0.7zM128.8 107.3h0.7v0.7h-0.7zM136.9 102.4h0.7v0.7h-0.7zM127.2 102.5h0.7v0.7h-0.7zM121.6 97.3h0.7v0.7h-0.7zM131.3 95.4h0.7v0.7h-0.7zM128.2 109.7h0.7v0.7h-0.7zM122.2 94.9h0.7v0.7h-0.7zM127.2 99.7h0.7v0.7h-0.7zM128.2 97.5h0.7v0.7h-0.7zM127.9 97.1h0.7v0.7h-0.7zM132.7 102.3h0.7v0.7h-0.7zM130.1 97.9h0.7v0.7h-0.7zM117.8 100.7h0.7v0.7h-0.7zM126.3 107.4h0.7v0.7h-0.7zM132.5 100.4h0.7v0.7h-0.7zM126.3 94.5h0.7v0.7h-0.7zM126.4 101.9h0.7v0.7h-0.7zM124.1 94.0h0.7v0.7h-0.7zM134.5 94.9h0.7v0.7h-0.7zM136.7 107.8h0.7v0.7h-0.7zM136.1 95.4h0.7v0.7h-0.7zM130.4 92.1h0.7v0.7h-0.7zM124.4 91.2h0.7v0.7h-0.7zM122.1 97.5h0.7v0.7h-0.7zM132.5 107.2h0.7v0.7h-0.7zM124.3 98.8h0.7v0.7h-0.7zM120.8 93.6h0.7v0.7h-0.7zM115.7 99.2h0.7v0.7h-0.7zM130.2 95.9h0.7v0.7h-0.7zM128.8 93.5h0.7v0.7h-0.7zM120.4 97.3h0.7v0.7h-0.7zM131.9 97.3h0.7v0.7h-0.7zM131.2 98.4h0.7v0.7h-0.7zM119.8 88.3h0.7v0.7h-0.7zM123.6 94.7h0.7v0.7h-0.7zM132.0 103.2h0.7v0.7h-0.7zM116.6 105.6h0.7v0.7h-0.7zM129.8 82.9h0.7v0.7h-0.7zM120.2 102.0h0.7v0.7h-0.7zM116.8 96.1h0.7v0.7h-0.7zM129.7 102.0h0.7v0.7h-0.7zM129.2 104.2h0.7v0.7h-0.7zM121.1 115.0h0.7v0.7h-0.7zM129.7 113.5h0.7v0.7h-0.7zM124.9 103.9h0.7v0.7h-0.7zM128.6 99.6h0.7v0.7h-0.7zM128.4 102.1h0.7v0.7h-0.7zM131.4 102.4h0.7v0.7h-0.7zM126.8 103.4h0.7v0.7h-0.7zM135.2 100.9h0.7v0.7h-0.7zM130.1 101.3h0.7v0.7h-0.7zM120.9 92.1h0.7v0.7h-0.7zM122.7 89.8h0.7v0.7h-0.7zM128.1 97.2h0.7v0.7h-0.7zM133.9 102.8h0.7v0.7h-0.7zM118.8 99.1h0.7v0.7h-0.7zM126.7 96.4h0.7v0.7h-0.7zM124.3 93.9h0.7v0.7h-0.7zM122.0 102.1h0.7v0.7h-0.7zM124.4 107.7h0.7v0.7h-0.7zM124.2 109.3h0.7v0.7h-0.7zM133.1 105.0h0.7v0.7h-0.7zM132.3 110.0h0.7v0.7h-0.7zM130.5 99.0h0.7v0.7h-0.7zM127.5 96.1h0.7v0.7h-0.7zM125.0 102.6h0.7v0.7h-0.7zM123.4 101.0h0.7v0.7h-0.7zM123.8 92.5h0.7v0.7h-0.7zM117.7 104.5h0.7v0.7h-0.7zM126.6 105.4h0.7v0.7h-0.7zM125.7 100.3h0.7v0.7h-0.7zM128.0 98.3h0.7v0.7h-0.7zM134.6 106.4h0.7v0.7h-0.7zM128.7 94.1h0.7v0.7h-0.7zM123.1 101.6h0.7v0.7h-0.7zM133.3 100.1h0.7v0.7h-0.7zM126.1 103.4h0.7v0.7h-0.7zM127.0 99.3h0.7v0.7h-0.7zM119.5 107.6h0.7v0.7h-0.7zM125.9 97.1h0.7v0.7h-0.7zM125.6 92.3h0.7v0.7h-0.7zM116.2 89.5h0.7v0.7h-0.7zM128.4 92.3h0.7v0.7h-0.7zM126.9 93.1h0.7v0.7h-0.7zM115.5 96.5h0.7v0.7h-0.7zM121.7 96.0h0.7v0.7h-0.7zM136.5 101.4h0.7v0.7h-0.7zM122.6 105.4h0.7v0.7h-0.7zM124.2 107.4h0.7v0.7h-0.7zM116.8 106.6h0.7v0.7h-0.7zM119.6 95.7h0.7v0.7h-0.7zM127.3 93.7h0.7v0.7h-0.7zM116.3 97.7h0.7v0.7h-0.7zM124.3 90.2h0.7v0.7h-0.7zM131.9 95.1h0.7v0.7h-0.7zM122.4 98.7h0.7v0.7h-0.7zM126.4 106.4h0.7v0.7h-0.7zM131.4 101.5h0.7v0.7h-0.7zM125.6 93.4h0.7v0.7h-0.7zM128.1 97.1h0.7v0.7h-0.7zM126.8 93.7h0.7v0.7h-0.7zM124.1 99.2h0.7v0.7h-0.7zM117.1 106.2h0.7v0.7h-0.7zM125.3 92.3h0.7v0.7h-0.7zM124.5 100.8h0.7v0.7h-0.7zM124.0 93.8h0.7v0.7h-0.7zM124.7 91.9h0.7v0.7h-0.7zM116.0 107.1h0.7v0.7h-0.7zM136.2 111.2h0.7v0.7h-0.7zM139.6 108.1h0.7v0.7h-0.7zM120.4 96.6h0.7v0.7h-0.7zM132.6 97.2h0.7v0.7h-0.7zM123.9 99.9h0.7v0.7h-0.7zM128.5 91.8h0.7v0.7h-0.7zM126.2 102.9h0.7v0.7h-0.7zM130.6 95.1h0.7v0.7h-0.7zM137.0 102.5h0.7v0.7h-0.7zM128.9 109.3h0.7v0.7h-0.7zM132.4 108.5h0.7v0.7h-0.7zM125.8 98.9h0.7v0.7h-0.7zM121.4 98.0h0.7v0.7h-0.7zM120.8 85.6h0.7v0.7h-0.7zM122.5 93.9h0.7v0.7h-0.7zM122.4 97.2h0.7v0.7h-0.7zM123.1 100.6h0.7v0.7h-0.7zM125.6 97.8h0.7v0.7h-0.7zM122.3 99.4h0.7v0.7h-0.7zM124.1 99.2h0.7v0.7h-0.7zM134.3 101.4h0.7v0.7h-0.7zM123.6 87.7h0.7v0.7h-0.7zM117.3 82.2h0.7v0.7h-0.7zM131.3 106.6h0.7v0.7h-0.7zM123.6 97.2h0.7v0.7h-0.7zM128.8 103.4h0.7v0.7h-0.7zM115.6 98.5h0.7v0.7h-0.7zM124.1 92.4h0.7v0.7h-0.7zM134.5 104.5h0.7v0.7h-0.7zM122.4 99.7h0.7v0.7h-0.7zM122.7 97.0h0.7v0.7h-0.7zM123.6 106.1h0.7v0.7h-0.7zM126.0 97.1h0.7v0.7h-0.7zM121.9 101.6h0.7v0.7h-0.7zM120.7 90.3h0.7v0.7h-0.7zM125.2 109.5h0.7v0.7h-0.7zM121.9 100.9h0.7v0.7h-0.7zM124.8 107.4h0.7v0.7h-0.7zM128.8 92.4h0.7v0.7h-0.7zM136.5 100.0h0.7v0.7h-0.7zM120.5 97.0h0.7v0.7h-0.7zM126.4 106.5h0.7v0.7h-0.7zM124.3 95.5h0.7v0.7h-0.7zM134.0 109.4h0.7v0.7h-0.7zM123.9 100.8h0.7v0.7h-0.7zM128.2 98.2h0.7v0.7h-0.7zM120.5 106.3h0.7v0.7h-0.7zM119.4 89.0h0.7v0.7h-0.7zM129.5 107.0h0.7v0.7h-0.7zM130.9 95.4h0.7v0.7h-0.7zM124.5 93.4h0.7v0.7h-0.7zM122.8 85.2h0.7v0.7h-0.7zM120.8 108.3h0.7v0.7h-0.7zM119.0 110.4h0.7v0.7h-0.7zM127.0 88.2h0.7v0.7h-0.7zM131.7 94.3h0.7v0.7h-0.7zM129.3 98.9h0.7v0.7h-0.7zM123.9 98.9h0.7v0.7h-0.7zM118.1 95.4h0.7v0.7h-0.7zM123.6 110.7h0.7v0.7h-0.7zM122.5 102.0h0.7v0.7h-0.7zM128.7 107.4h0.7v0.7h-0.7zM124.6 101.2h0.7v0.7h-0.7zM120.4 115.3h0.7v0.7h-0.7zM117.0 101.6h0.7v0.7h-0.7zM123.9 101.0h0.7v0.7h-0.7zM122.9 97.3h0.7v0.7h-0.7zM132.0 105.8h0.7v0.7h-0.7zM125.6 99.2h0.7v0.7h-0.7zM127.2 99.6h0.7v0.7h-0.7zM128.7 104.6h0.7v0.7h-0.7zM128.9 90.6h0.7v0.7h-0.7zM125.7 93.6h0.7v0.7h-0.7zM128.7 98.3h0.7v0.7h-0.7zM127.9 99.5h0.7v0.7h-0.7zM131.7 108.2h0.7v0.7h-0.7zM127.1 91.1h0.7v0.7h-0.7zM126.1 112.0h0.7v0.7h-0.7zM121.9 99.6h0.7v0.7h-0.7zM140.8 110.3h0.7v0.7h-0.7zM130.0 101.5h0.7v0.7h-0.7zM118.1 110.0h0.7v0.7h-0.7zM131.6 89.9h0.7v0.7h-0.7zM125.4 99.3h0.7v0.7h-0.7zM125.7 96.1h0.7v0.7h-0.7zM141.0 94.8h0.7v0.7h-0.7zM134.9 103.9h0.7v0.7h-0.7zM126.1 102.8h0.7v0.7h-0.7zM130.6 95.4h0.7v0.7h-0.7zM123.9 107.4h0.7v0.7h-0.7zM131.8 102.5h0.7v0.7h-0.7zM118.9 90.3h0.7v0.7h-0.7zM135.1 108.8h0.7v0.7h-0.7zM129.2 102.5h0.7v0.7h-0.7zM124.2 103.2h0.7v0.7h-0.7zM133.4 104.7h0.7v0.7h-0.7zM122.9 102.3h0.7v0.7h-0.7zM122.9 99.7h0.7v0.7h-0.7z" fill="#111"/>
<ellipse cx="121.5" cy="88.9" rx="6.6" ry="5.4" fill="#161616" filter="url(#b1)"/>
<ellipse cx="121.5" cy="88.9" rx="6" ry="4.9" fill="#161616"/>
<path d="M114.3 90 L119.5 90 C120.5 100 120 110 121 118 L114.3 118 Z" fill="#161616" filter="url(#b1)"/>
<path d="M139 101 C143 102.5 145.2 108 145.3 118 L141.5 118 Z" fill="#1a1a1a" filter="url(#b1)"/>
<ellipse cx="121.3" cy="88.9" rx="3.7" ry="2.1" fill="#fafafa"/>
<path d="M120 117.2 C121 113 123 111 125.5 110 C129.5 108 132.5 105.5 135 103 C137 101.3 139.2 101.3 140.6 103.5 C142.3 106.5 142.9 111 143 117.2 Z" fill="#efefef" stroke="#111" stroke-width="0.9"/>
<path d="M124 117 C125 114 127 113 129.5 111.5 C132.5 109.5 135 107 137 105.2 C138.5 104.3 139.6 105 140 107.5 C140.8 110.5 141 113.5 141 117 Z" fill="none" stroke="#aaa" stroke-width="0.5"/>
<path d="M129 117 L129 114.5 M131.5 117 L131.5 113.5 M134 117 L134.3 112 M136.5 117 L136.5 111" fill="none" stroke="#888" stroke-width="0.6"/>
<ellipse cx="138" cy="114.8" rx="1.8" ry="1.6" fill="#444" filter="url(#b1)"/>
<line x1="114.3" y1="117.3" x2="144" y2="117.3" stroke="#111" stroke-width="1.4"/>
</g>
<clipPath id="c_bm3"><rect x="200.4" y="54.7" width="62.8" height="63.5"/></clipPath><g clip-path="url(#c_bm3)">
<path d="M202 115 C206 109 212 102 218 96 C222 90 225 84 231 79.5 L238 81 C235 92 229 100 224 106 C217 113 211 117 206 118.6 L202 118.6 Z" fill="#b0b0b0" filter="url(#b2)" opacity="0.85"/>
<path d="M226.5 96.0h0.6v0.6h-0.6zM209.0 103.0h0.6v0.6h-0.6zM224.7 100.3h0.6v0.6h-0.6zM217.0 92.7h0.6v0.6h-0.6zM211.5 104.9h0.6v0.6h-0.6zM224.1 91.2h0.6v0.6h-0.6zM214.1 101.2h0.6v0.6h-0.6zM216.5 95.6h0.6v0.6h-0.6zM218.1 99.5h0.6v0.6h-0.6zM229.0 85.5h0.6v0.6h-0.6zM221.4 88.5h0.6v0.6h-0.6zM224.0 92.3h0.6v0.6h-0.6zM213.4 103.1h0.6v0.6h-0.6zM222.9 90.8h0.6v0.6h-0.6zM228.9 94.4h0.6v0.6h-0.6zM233.5 89.9h0.6v0.6h-0.6zM209.1 109.8h0.6v0.6h-0.6zM215.0 106.6h0.6v0.6h-0.6zM218.5 98.8h0.6v0.6h-0.6zM219.0 93.6h0.6v0.6h-0.6zM216.1 96.2h0.6v0.6h-0.6zM231.1 81.0h0.6v0.6h-0.6zM212.6 94.3h0.6v0.6h-0.6zM204.4 108.6h0.6v0.6h-0.6zM225.2 94.3h0.6v0.6h-0.6zM217.6 94.9h0.6v0.6h-0.6zM227.9 81.4h0.6v0.6h-0.6zM212.5 106.9h0.6v0.6h-0.6zM210.9 107.5h0.6v0.6h-0.6zM224.2 90.8h0.6v0.6h-0.6zM220.4 95.6h0.6v0.6h-0.6zM203.7 96.3h0.6v0.6h-0.6zM208.5 108.6h0.6v0.6h-0.6zM203.9 110.6h0.6v0.6h-0.6zM222.6 100.5h0.6v0.6h-0.6zM206.0 108.5h0.6v0.6h-0.6zM220.5 98.3h0.6v0.6h-0.6zM212.5 114.6h0.6v0.6h-0.6zM214.5 108.1h0.6v0.6h-0.6zM217.0 101.4h0.6v0.6h-0.6zM231.4 87.1h0.6v0.6h-0.6zM215.5 95.2h0.6v0.6h-0.6zM208.6 100.5h0.6v0.6h-0.6zM227.7 78.6h0.6v0.6h-0.6zM225.6 87.6h0.6v0.6h-0.6zM221.2 90.0h0.6v0.6h-0.6zM214.6 104.7h0.6v0.6h-0.6zM218.9 94.5h0.6v0.6h-0.6zM231.2 87.5h0.6v0.6h-0.6zM215.1 94.7h0.6v0.6h-0.6zM217.5 96.9h0.6v0.6h-0.6zM219.0 101.4h0.6v0.6h-0.6zM213.9 104.1h0.6v0.6h-0.6zM224.1 93.2h0.6v0.6h-0.6zM229.2 75.8h0.6v0.6h-0.6zM213.6 96.3h0.6v0.6h-0.6zM223.9 105.7h0.6v0.6h-0.6zM204.5 111.4h0.6v0.6h-0.6zM222.3 93.8h0.6v0.6h-0.6zM219.6 87.5h0.6v0.6h-0.6zM221.7 88.5h0.6v0.6h-0.6zM210.0 110.1h0.6v0.6h-0.6zM218.7 93.1h0.6v0.6h-0.6zM210.7 105.0h0.6v0.6h-0.6zM216.7 98.5h0.6v0.6h-0.6zM203.3 101.2h0.6v0.6h-0.6zM227.3 88.7h0.6v0.6h-0.6zM203.8 105.0h0.6v0.6h-0.6zM211.0 103.4h0.6v0.6h-0.6zM219.4 94.6h0.6v0.6h-0.6zM220.4 96.6h0.6v0.6h-0.6zM225.4 90.7h0.6v0.6h-0.6zM230.8 92.5h0.6v0.6h-0.6zM213.6 100.3h0.6v0.6h-0.6zM210.1 105.5h0.6v0.6h-0.6zM211.9 104.8h0.6v0.6h-0.6zM220.9 97.8h0.6v0.6h-0.6zM211.8 111.0h0.6v0.6h-0.6zM214.6 101.1h0.6v0.6h-0.6zM207.8 98.0h0.6v0.6h-0.6zM214.0 92.4h0.6v0.6h-0.6zM225.4 90.0h0.6v0.6h-0.6zM230.4 87.9h0.6v0.6h-0.6zM226.2 96.7h0.6v0.6h-0.6zM221.2 103.2h0.6v0.6h-0.6zM216.9 100.6h0.6v0.6h-0.6zM213.7 105.8h0.6v0.6h-0.6zM220.6 92.2h0.6v0.6h-0.6zM207.6 109.3h0.6v0.6h-0.6zM219.8 95.1h0.6v0.6h-0.6zM207.9 105.0h0.6v0.6h-0.6zM207.8 94.5h0.6v0.6h-0.6zM216.9 107.3h0.6v0.6h-0.6zM207.1 108.8h0.6v0.6h-0.6zM231.5 87.0h0.6v0.6h-0.6zM223.4 91.1h0.6v0.6h-0.6zM215.5 117.0h0.6v0.6h-0.6zM220.0 97.1h0.6v0.6h-0.6zM231.4 87.6h0.6v0.6h-0.6zM214.4 95.7h0.6v0.6h-0.6zM215.5 99.8h0.6v0.6h-0.6zM209.7 102.3h0.6v0.6h-0.6zM209.4 106.8h0.6v0.6h-0.6zM213.9 104.8h0.6v0.6h-0.6zM225.4 91.5h0.6v0.6h-0.6zM221.6 102.7h0.6v0.6h-0.6zM217.7 89.9h0.6v0.6h-0.6zM212.4 105.3h0.6v0.6h-0.6zM212.8 108.0h0.6v0.6h-0.6zM225.9 92.5h0.6v0.6h-0.6zM205.5 112.2h0.6v0.6h-0.6zM223.8 85.2h0.6v0.6h-0.6zM204.9 105.6h0.6v0.6h-0.6zM205.0 102.6h0.6v0.6h-0.6zM209.4 99.2h0.6v0.6h-0.6zM223.8 104.1h0.6v0.6h-0.6zM211.9 109.8h0.6v0.6h-0.6zM219.1 83.6h0.6v0.6h-0.6zM217.8 98.1h0.6v0.6h-0.6zM216.8 103.7h0.6v0.6h-0.6zM214.8 103.5h0.6v0.6h-0.6zM213.8 101.8h0.6v0.6h-0.6zM217.7 111.1h0.6v0.6h-0.6zM213.5 96.6h0.6v0.6h-0.6zM235.7 87.1h0.6v0.6h-0.6zM213.7 98.9h0.6v0.6h-0.6zM215.1 108.1h0.6v0.6h-0.6zM212.6 99.8h0.6v0.6h-0.6zM222.4 91.5h0.6v0.6h-0.6zM222.1 104.3h0.6v0.6h-0.6zM226.9 95.1h0.6v0.6h-0.6zM223.7 98.8h0.6v0.6h-0.6zM218.5 102.8h0.6v0.6h-0.6zM223.5 89.4h0.6v0.6h-0.6zM209.1 110.8h0.6v0.6h-0.6zM217.8 101.5h0.6v0.6h-0.6zM214.1 105.2h0.6v0.6h-0.6zM230.7 97.1h0.6v0.6h-0.6zM231.2 85.4h0.6v0.6h-0.6zM225.8 85.7h0.6v0.6h-0.6zM226.0 89.8h0.6v0.6h-0.6zM227.7 89.0h0.6v0.6h-0.6zM213.3 99.1h0.6v0.6h-0.6zM226.4 88.9h0.6v0.6h-0.6zM223.6 94.4h0.6v0.6h-0.6zM203.7 117.2h0.6v0.6h-0.6zM215.4 103.0h0.6v0.6h-0.6zM215.5 90.5h0.6v0.6h-0.6zM214.5 101.4h0.6v0.6h-0.6zM222.5 98.2h0.6v0.6h-0.6zM211.4 103.9h0.6v0.6h-0.6zM216.4 89.3h0.6v0.6h-0.6zM228.0 81.5h0.6v0.6h-0.6zM227.1 88.6h0.6v0.6h-0.6zM233.7 86.3h0.6v0.6h-0.6zM212.0 95.0h0.6v0.6h-0.6zM218.9 98.7h0.6v0.6h-0.6zM217.5 91.4h0.6v0.6h-0.6zM208.8 103.7h0.6v0.6h-0.6zM216.6 94.5h0.6v0.6h-0.6zM218.8 102.3h0.6v0.6h-0.6zM217.7 105.8h0.6v0.6h-0.6zM218.5 96.0h0.6v0.6h-0.6zM226.4 91.3h0.6v0.6h-0.6zM213.3 99.8h0.6v0.6h-0.6zM217.7 100.2h0.6v0.6h-0.6zM226.1 90.4h0.6v0.6h-0.6zM208.8 100.7h0.6v0.6h-0.6zM220.0 97.9h0.6v0.6h-0.6zM223.8 88.4h0.6v0.6h-0.6zM209.9 111.6h0.6v0.6h-0.6zM212.3 97.3h0.6v0.6h-0.6zM231.7 87.7h0.6v0.6h-0.6zM218.3 99.2h0.6v0.6h-0.6zM214.3 107.6h0.6v0.6h-0.6zM212.6 101.4h0.6v0.6h-0.6zM211.7 98.5h0.6v0.6h-0.6zM229.2 94.8h0.6v0.6h-0.6zM216.8 87.6h0.6v0.6h-0.6zM213.0 99.8h0.6v0.6h-0.6zM213.7 90.5h0.6v0.6h-0.6zM223.7 90.5h0.6v0.6h-0.6zM230.8 78.9h0.6v0.6h-0.6zM216.9 98.3h0.6v0.6h-0.6zM214.1 108.5h0.6v0.6h-0.6zM204.4 107.1h0.6v0.6h-0.6zM213.0 100.7h0.6v0.6h-0.6zM223.8 88.5h0.6v0.6h-0.6zM219.4 93.7h0.6v0.6h-0.6zM226.3 88.6h0.6v0.6h-0.6zM214.4 92.7h0.6v0.6h-0.6zM220.4 91.6h0.6v0.6h-0.6zM224.9 93.1h0.6v0.6h-0.6zM224.2 97.4h0.6v0.6h-0.6zM217.3 93.7h0.6v0.6h-0.6zM218.7 98.1h0.6v0.6h-0.6zM210.1 110.1h0.6v0.6h-0.6zM228.4 87.7h0.6v0.6h-0.6zM219.2 99.2h0.6v0.6h-0.6zM223.5 88.7h0.6v0.6h-0.6zM221.9 89.4h0.6v0.6h-0.6zM222.4 96.0h0.6v0.6h-0.6zM209.5 111.1h0.6v0.6h-0.6zM213.9 93.0h0.6v0.6h-0.6zM212.0 101.1h0.6v0.6h-0.6zM211.7 107.3h0.6v0.6h-0.6zM211.4 105.5h0.6v0.6h-0.6zM208.3 107.1h0.6v0.6h-0.6zM231.5 85.2h0.6v0.6h-0.6zM203.0 109.2h0.6v0.6h-0.6zM211.4 96.0h0.6v0.6h-0.6zM224.0 91.0h0.6v0.6h-0.6zM216.7 99.7h0.6v0.6h-0.6zM208.8 101.6h0.6v0.6h-0.6zM220.6 98.8h0.6v0.6h-0.6zM210.5 95.9h0.6v0.6h-0.6zM214.6 101.8h0.6v0.6h-0.6zM211.4 113.0h0.6v0.6h-0.6zM208.8 108.1h0.6v0.6h-0.6zM211.6 110.1h0.6v0.6h-0.6zM205.3 107.0h0.6v0.6h-0.6zM221.6 86.8h0.6v0.6h-0.6zM214.6 104.8h0.6v0.6h-0.6zM214.7 91.7h0.6v0.6h-0.6zM220.6 93.4h0.6v0.6h-0.6zM221.1 84.7h0.6v0.6h-0.6zM223.7 93.8h0.6v0.6h-0.6zM213.1 101.0h0.6v0.6h-0.6zM217.9 94.1h0.6v0.6h-0.6zM212.3 99.9h0.6v0.6h-0.6zM219.9 99.6h0.6v0.6h-0.6zM205.4 112.0h0.6v0.6h-0.6zM223.5 100.3h0.6v0.6h-0.6zM215.1 108.2h0.6v0.6h-0.6zM215.1 103.9h0.6v0.6h-0.6zM219.4 97.9h0.6v0.6h-0.6zM211.7 99.3h0.6v0.6h-0.6zM231.9 90.6h0.6v0.6h-0.6zM215.7 99.5h0.6v0.6h-0.6zM211.7 97.4h0.6v0.6h-0.6zM210.0 109.1h0.6v0.6h-0.6zM223.3 90.7h0.6v0.6h-0.6zM207.1 103.9h0.6v0.6h-0.6zM214.4 105.8h0.6v0.6h-0.6zM213.3 95.0h0.6v0.6h-0.6zM209.4 109.3h0.6v0.6h-0.6zM224.1 101.0h0.6v0.6h-0.6zM228.0 87.8h0.6v0.6h-0.6zM212.6 105.1h0.6v0.6h-0.6zM206.7 106.5h0.6v0.6h-0.6zM226.0 92.4h0.6v0.6h-0.6zM228.1 95.5h0.6v0.6h-0.6zM216.2 104.4h0.6v0.6h-0.6zM218.4 99.2h0.6v0.6h-0.6zM220.1 98.5h0.6v0.6h-0.6zM203.0 106.8h0.6v0.6h-0.6zM219.0 99.5h0.6v0.6h-0.6zM213.1 102.7h0.6v0.6h-0.6zM209.4 112.9h0.6v0.6h-0.6zM224.5 99.1h0.6v0.6h-0.6zM213.7 102.1h0.6v0.6h-0.6zM221.3 101.9h0.6v0.6h-0.6zM222.2 95.4h0.6v0.6h-0.6zM202.5 110.2h0.6v0.6h-0.6zM205.7 110.5h0.6v0.6h-0.6zM223.4 92.2h0.6v0.6h-0.6zM215.9 111.6h0.6v0.6h-0.6zM212.8 111.4h0.6v0.6h-0.6zM226.2 90.3h0.6v0.6h-0.6zM223.8 85.3h0.6v0.6h-0.6zM212.0 102.8h0.6v0.6h-0.6zM219.2 95.6h0.6v0.6h-0.6zM228.3 84.2h0.6v0.6h-0.6zM211.9 97.8h0.6v0.6h-0.6zM222.7 97.2h0.6v0.6h-0.6zM207.9 102.0h0.6v0.6h-0.6zM210.1 113.2h0.6v0.6h-0.6zM223.5 93.3h0.6v0.6h-0.6zM223.8 94.1h0.6v0.6h-0.6zM215.7 91.3h0.6v0.6h-0.6zM222.7 96.6h0.6v0.6h-0.6zM228.0 92.3h0.6v0.6h-0.6zM212.7 105.2h0.6v0.6h-0.6zM210.7 114.1h0.6v0.6h-0.6zM208.9 111.9h0.6v0.6h-0.6zM208.9 103.4h0.6v0.6h-0.6zM209.5 105.5h0.6v0.6h-0.6zM222.9 98.8h0.6v0.6h-0.6zM217.2 103.6h0.6v0.6h-0.6zM229.1 97.2h0.6v0.6h-0.6zM213.5 104.6h0.6v0.6h-0.6zM222.4 93.8h0.6v0.6h-0.6zM219.6 92.3h0.6v0.6h-0.6zM212.6 100.3h0.6v0.6h-0.6zM209.8 102.0h0.6v0.6h-0.6zM212.8 96.7h0.6v0.6h-0.6zM214.4 105.2h0.6v0.6h-0.6zM202.5 109.1h0.6v0.6h-0.6zM211.0 99.6h0.6v0.6h-0.6zM214.9 111.9h0.6v0.6h-0.6zM218.0 95.2h0.6v0.6h-0.6zM207.2 101.1h0.6v0.6h-0.6zM201.9 102.6h0.6v0.6h-0.6zM219.5 93.2h0.6v0.6h-0.6zM223.5 91.7h0.6v0.6h-0.6zM223.1 97.1h0.6v0.6h-0.6zM211.3 102.1h0.6v0.6h-0.6zM220.6 105.0h0.6v0.6h-0.6zM204.7 106.5h0.6v0.6h-0.6zM215.2 89.9h0.6v0.6h-0.6zM224.5 84.1h0.6v0.6h-0.6zM225.1 89.1h0.6v0.6h-0.6zM211.1 99.0h0.6v0.6h-0.6zM226.7 86.6h0.6v0.6h-0.6zM208.9 111.5h0.6v0.6h-0.6zM217.3 101.5h0.6v0.6h-0.6zM215.0 103.3h0.6v0.6h-0.6zM220.3 95.4h0.6v0.6h-0.6zM206.4 113.5h0.6v0.6h-0.6zM228.2 89.0h0.6v0.6h-0.6zM225.9 93.5h0.6v0.6h-0.6zM217.7 104.2h0.6v0.6h-0.6zM212.4 98.4h0.6v0.6h-0.6zM210.6 111.8h0.6v0.6h-0.6zM223.8 94.9h0.6v0.6h-0.6zM207.7 99.0h0.6v0.6h-0.6zM222.3 92.5h0.6v0.6h-0.6zM210.8 102.4h0.6v0.6h-0.6zM207.5 99.0h0.6v0.6h-0.6zM223.4 95.8h0.6v0.6h-0.6zM222.3 91.1h0.6v0.6h-0.6zM204.0 105.7h0.6v0.6h-0.6zM219.6 105.9h0.6v0.6h-0.6zM223.8 91.6h0.6v0.6h-0.6zM222.6 97.3h0.6v0.6h-0.6zM218.0 99.1h0.6v0.6h-0.6zM216.8 95.9h0.6v0.6h-0.6zM207.0 106.9h0.6v0.6h-0.6zM220.9 85.7h0.6v0.6h-0.6zM212.6 101.5h0.6v0.6h-0.6zM216.0 97.6h0.6v0.6h-0.6zM221.6 91.7h0.6v0.6h-0.6zM218.9 100.9h0.6v0.6h-0.6zM209.7 113.2h0.6v0.6h-0.6zM220.8 87.4h0.6v0.6h-0.6zM214.2 97.9h0.6v0.6h-0.6zM216.5 104.0h0.6v0.6h-0.6zM205.6 116.3h0.6v0.6h-0.6zM220.0 95.6h0.6v0.6h-0.6zM231.7 79.9h0.6v0.6h-0.6zM207.1 112.1h0.6v0.6h-0.6zM216.2 96.3h0.6v0.6h-0.6zM224.6 82.0h0.6v0.6h-0.6zM229.3 89.9h0.6v0.6h-0.6zM201.5 117.3h0.6v0.6h-0.6zM224.7 96.6h0.6v0.6h-0.6zM230.2 91.4h0.6v0.6h-0.6zM216.0 98.7h0.6v0.6h-0.6zM217.0 102.0h0.6v0.6h-0.6zM207.2 103.9h0.6v0.6h-0.6zM236.3 82.9h0.6v0.6h-0.6zM224.1 89.8h0.6v0.6h-0.6zM209.5 104.9h0.6v0.6h-0.6zM209.4 103.9h0.6v0.6h-0.6zM207.3 113.2h0.6v0.6h-0.6zM221.6 98.3h0.6v0.6h-0.6zM215.4 96.7h0.6v0.6h-0.6zM234.3 85.0h0.6v0.6h-0.6zM223.5 96.7h0.6v0.6h-0.6zM216.8 103.3h0.6v0.6h-0.6zM214.3 107.6h0.6v0.6h-0.6zM226.1 93.6h0.6v0.6h-0.6zM220.2 96.2h0.6v0.6h-0.6zM220.6 99.0h0.6v0.6h-0.6zM215.6 104.5h0.6v0.6h-0.6zM219.1 89.6h0.6v0.6h-0.6zM205.3 113.6h0.6v0.6h-0.6zM212.2 99.8h0.6v0.6h-0.6zM204.8 106.3h0.6v0.6h-0.6zM204.0 111.4h0.6v0.6h-0.6zM200.9 107.3h0.6v0.6h-0.6zM220.2 103.9h0.6v0.6h-0.6zM225.4 88.6h0.6v0.6h-0.6zM219.0 95.3h0.6v0.6h-0.6zM213.9 98.1h0.6v0.6h-0.6zM214.1 96.3h0.6v0.6h-0.6zM211.1 104.6h0.6v0.6h-0.6zM222.0 104.8h0.6v0.6h-0.6zM207.4 103.3h0.6v0.6h-0.6zM223.1 95.3h0.6v0.6h-0.6zM221.5 93.3h0.6v0.6h-0.6zM204.9 110.3h0.6v0.6h-0.6zM207.4 109.2h0.6v0.6h-0.6zM228.7 84.2h0.6v0.6h-0.6zM220.6 101.0h0.6v0.6h-0.6zM209.3 111.7h0.6v0.6h-0.6zM212.4 100.1h0.6v0.6h-0.6zM211.4 99.5h0.6v0.6h-0.6zM223.3 92.4h0.6v0.6h-0.6zM214.8 104.0h0.6v0.6h-0.6zM224.8 87.0h0.6v0.6h-0.6zM219.8 90.8h0.6v0.6h-0.6zM200.6 111.0h0.6v0.6h-0.6zM224.5 92.7h0.6v0.6h-0.6zM214.1 105.9h0.6v0.6h-0.6zM215.2 101.9h0.6v0.6h-0.6zM202.7 102.1h0.6v0.6h-0.6zM219.3 100.1h0.6v0.6h-0.6zM214.7 110.3h0.6v0.6h-0.6zM223.7 101.3h0.6v0.6h-0.6zM225.0 96.9h0.6v0.6h-0.6zM210.9 97.5h0.6v0.6h-0.6zM236.5 84.6h0.6v0.6h-0.6zM219.2 91.2h0.6v0.6h-0.6zM220.4 89.3h0.6v0.6h-0.6zM223.1 97.2h0.6v0.6h-0.6zM217.7 92.5h0.6v0.6h-0.6zM221.7 94.6h0.6v0.6h-0.6zM224.3 97.9h0.6v0.6h-0.6zM209.6 102.3h0.6v0.6h-0.6zM214.5 108.9h0.6v0.6h-0.6zM222.7 99.2h0.6v0.6h-0.6zM219.8 98.4h0.6v0.6h-0.6zM216.3 102.2h0.6v0.6h-0.6zM211.9 110.2h0.6v0.6h-0.6zM203.0 111.5h0.6v0.6h-0.6zM214.1 102.5h0.6v0.6h-0.6zM213.1 97.6h0.6v0.6h-0.6zM209.5 91.9h0.6v0.6h-0.6zM211.2 104.8h0.6v0.6h-0.6zM214.2 107.3h0.6v0.6h-0.6zM216.8 101.7h0.6v0.6h-0.6zM210.8 110.8h0.6v0.6h-0.6zM217.6 89.5h0.6v0.6h-0.6zM223.5 85.0h0.6v0.6h-0.6zM210.2 110.9h0.6v0.6h-0.6zM231.0 86.8h0.6v0.6h-0.6zM213.4 98.7h0.6v0.6h-0.6zM211.6 105.8h0.6v0.6h-0.6zM216.3 94.0h0.6v0.6h-0.6zM213.9 89.8h0.6v0.6h-0.6zM215.5 95.2h0.6v0.6h-0.6zM213.0 115.0h0.6v0.6h-0.6zM219.9 93.7h0.6v0.6h-0.6zM212.4 111.7h0.6v0.6h-0.6zM214.9 96.7h0.6v0.6h-0.6zM223.2 94.6h0.6v0.6h-0.6zM203.5 103.4h0.6v0.6h-0.6zM223.8 89.4h0.6v0.6h-0.6zM214.6 86.9h0.6v0.6h-0.6zM216.2 103.4h0.6v0.6h-0.6zM221.2 104.3h0.6v0.6h-0.6zM225.7 94.9h0.6v0.6h-0.6zM220.7 93.3h0.6v0.6h-0.6zM208.2 103.7h0.6v0.6h-0.6zM224.9 88.8h0.6v0.6h-0.6zM201.5 117.0h0.6v0.6h-0.6zM215.5 97.5h0.6v0.6h-0.6zM216.8 93.8h0.6v0.6h-0.6zM234.1 77.1h0.6v0.6h-0.6zM209.5 107.6h0.6v0.6h-0.6zM220.1 100.1h0.6v0.6h-0.6zM219.9 99.1h0.6v0.6h-0.6zM215.8 98.5h0.6v0.6h-0.6zM206.7 106.0h0.6v0.6h-0.6zM212.5 96.7h0.6v0.6h-0.6zM221.4 92.1h0.6v0.6h-0.6zM227.2 91.8h0.6v0.6h-0.6zM222.7 109.5h0.6v0.6h-0.6zM224.9 86.2h0.6v0.6h-0.6z" fill="#555"/>
<path d="M212.6 105.6h0.6v0.6h-0.6zM223.2 103.3h0.6v0.6h-0.6zM212.0 107.2h0.6v0.6h-0.6zM208.7 105.6h0.6v0.6h-0.6zM212.5 104.9h0.6v0.6h-0.6zM213.6 105.0h0.6v0.6h-0.6zM203.8 105.9h0.6v0.6h-0.6zM206.5 103.3h0.6v0.6h-0.6zM210.5 106.0h0.6v0.6h-0.6zM213.5 103.5h0.6v0.6h-0.6zM210.7 108.0h0.6v0.6h-0.6zM212.7 103.4h0.6v0.6h-0.6zM215.8 103.2h0.6v0.6h-0.6zM214.9 104.4h0.6v0.6h-0.6zM208.6 104.3h0.6v0.6h-0.6zM212.4 111.8h0.6v0.6h-0.6zM210.0 110.6h0.6v0.6h-0.6zM215.3 104.0h0.6v0.6h-0.6zM215.9 108.1h0.6v0.6h-0.6zM209.5 105.7h0.6v0.6h-0.6zM215.1 105.9h0.6v0.6h-0.6zM218.7 104.8h0.6v0.6h-0.6zM207.0 107.8h0.6v0.6h-0.6zM207.5 109.6h0.6v0.6h-0.6zM213.1 104.7h0.6v0.6h-0.6zM208.7 109.6h0.6v0.6h-0.6zM210.7 109.6h0.6v0.6h-0.6zM207.4 107.1h0.6v0.6h-0.6zM208.3 104.9h0.6v0.6h-0.6zM221.7 106.7h0.6v0.6h-0.6zM209.5 109.0h0.6v0.6h-0.6zM205.8 111.5h0.6v0.6h-0.6zM214.5 104.4h0.6v0.6h-0.6zM210.0 107.5h0.6v0.6h-0.6zM212.3 105.1h0.6v0.6h-0.6zM207.9 107.0h0.6v0.6h-0.6zM210.2 108.7h0.6v0.6h-0.6zM211.5 106.9h0.6v0.6h-0.6zM205.0 107.8h0.6v0.6h-0.6zM209.3 105.9h0.6v0.6h-0.6zM210.4 106.0h0.6v0.6h-0.6zM206.5 110.5h0.6v0.6h-0.6zM213.8 104.2h0.6v0.6h-0.6zM212.5 103.7h0.6v0.6h-0.6zM206.5 107.7h0.6v0.6h-0.6zM216.4 104.3h0.6v0.6h-0.6zM206.0 109.0h0.6v0.6h-0.6zM208.5 105.7h0.6v0.6h-0.6zM210.9 102.3h0.6v0.6h-0.6zM203.8 105.6h0.6v0.6h-0.6zM214.9 105.4h0.6v0.6h-0.6zM208.5 105.8h0.6v0.6h-0.6zM214.4 108.4h0.6v0.6h-0.6zM208.9 108.0h0.6v0.6h-0.6zM219.8 104.9h0.6v0.6h-0.6zM210.3 107.7h0.6v0.6h-0.6zM212.1 107.9h0.6v0.6h-0.6zM212.0 105.0h0.6v0.6h-0.6zM211.1 107.5h0.6v0.6h-0.6zM208.9 107.6h0.6v0.6h-0.6zM209.0 110.4h0.6v0.6h-0.6zM215.9 102.7h0.6v0.6h-0.6zM214.3 105.8h0.6v0.6h-0.6zM211.3 105.9h0.6v0.6h-0.6zM212.9 108.4h0.6v0.6h-0.6zM207.8 110.3h0.6v0.6h-0.6zM209.4 104.5h0.6v0.6h-0.6zM211.6 108.0h0.6v0.6h-0.6zM211.2 107.3h0.6v0.6h-0.6zM209.6 105.8h0.6v0.6h-0.6zM213.9 103.3h0.6v0.6h-0.6zM214.9 106.0h0.6v0.6h-0.6zM210.1 106.4h0.6v0.6h-0.6zM210.2 106.8h0.6v0.6h-0.6zM211.0 106.3h0.6v0.6h-0.6zM202.9 104.4h0.6v0.6h-0.6zM211.9 104.8h0.6v0.6h-0.6zM209.1 106.9h0.6v0.6h-0.6zM208.7 111.3h0.6v0.6h-0.6zM211.1 106.2h0.6v0.6h-0.6zM208.3 109.8h0.6v0.6h-0.6zM214.9 108.9h0.6v0.6h-0.6zM213.7 103.7h0.6v0.6h-0.6zM208.0 111.1h0.6v0.6h-0.6zM208.8 107.2h0.6v0.6h-0.6zM211.1 107.8h0.6v0.6h-0.6zM212.3 103.6h0.6v0.6h-0.6zM207.7 103.6h0.6v0.6h-0.6zM213.0 105.5h0.6v0.6h-0.6zM206.3 110.9h0.6v0.6h-0.6zM210.5 104.4h0.6v0.6h-0.6zM209.4 105.8h0.6v0.6h-0.6zM211.8 106.9h0.6v0.6h-0.6zM209.6 108.2h0.6v0.6h-0.6zM202.1 109.0h0.6v0.6h-0.6zM214.2 107.8h0.6v0.6h-0.6zM213.2 103.3h0.6v0.6h-0.6zM205.2 107.9h0.6v0.6h-0.6zM219.2 104.3h0.6v0.6h-0.6zM207.4 103.9h0.6v0.6h-0.6zM211.4 105.4h0.6v0.6h-0.6zM213.1 106.3h0.6v0.6h-0.6zM203.2 109.2h0.6v0.6h-0.6zM213.4 104.3h0.6v0.6h-0.6zM206.3 105.6h0.6v0.6h-0.6zM208.4 112.8h0.6v0.6h-0.6zM215.5 103.5h0.6v0.6h-0.6zM215.0 102.6h0.6v0.6h-0.6zM208.8 105.6h0.6v0.6h-0.6zM211.1 108.2h0.6v0.6h-0.6zM218.6 105.6h0.6v0.6h-0.6zM210.9 107.0h0.6v0.6h-0.6zM210.7 107.6h0.6v0.6h-0.6zM208.4 108.1h0.6v0.6h-0.6zM213.5 108.0h0.6v0.6h-0.6zM208.7 108.4h0.6v0.6h-0.6zM211.5 104.5h0.6v0.6h-0.6zM204.1 107.8h0.6v0.6h-0.6zM213.9 104.9h0.6v0.6h-0.6zM219.3 104.9h0.6v0.6h-0.6zM208.7 107.2h0.6v0.6h-0.6zM213.1 107.0h0.6v0.6h-0.6zM210.7 107.8h0.6v0.6h-0.6zM221.8 104.8h0.6v0.6h-0.6zM211.4 105.3h0.6v0.6h-0.6zM205.3 109.1h0.6v0.6h-0.6zM209.7 106.9h0.6v0.6h-0.6zM209.9 108.8h0.6v0.6h-0.6zM214.2 103.7h0.6v0.6h-0.6zM206.8 108.9h0.6v0.6h-0.6zM216.1 105.7h0.6v0.6h-0.6zM211.7 103.0h0.6v0.6h-0.6zM209.7 108.4h0.6v0.6h-0.6zM212.4 106.1h0.6v0.6h-0.6zM213.7 107.6h0.6v0.6h-0.6zM210.9 104.9h0.6v0.6h-0.6zM206.6 108.7h0.6v0.6h-0.6zM210.4 106.4h0.6v0.6h-0.6zM214.4 103.8h0.6v0.6h-0.6zM210.7 108.2h0.6v0.6h-0.6zM206.5 103.1h0.6v0.6h-0.6zM209.9 108.9h0.6v0.6h-0.6zM208.9 106.7h0.6v0.6h-0.6zM205.8 111.3h0.6v0.6h-0.6zM204.8 107.3h0.6v0.6h-0.6zM212.0 110.8h0.6v0.6h-0.6zM211.0 104.9h0.6v0.6h-0.6zM205.9 107.7h0.6v0.6h-0.6zM206.5 106.7h0.6v0.6h-0.6zM212.2 109.0h0.6v0.6h-0.6z" fill="#333"/>
<path d="M235.9 80.7h0.6v0.6h-0.6zM238.8 85.9h0.6v0.6h-0.6zM248.2 84.1h0.6v0.6h-0.6zM236.2 81.7h0.6v0.6h-0.6zM232.4 79.7h0.6v0.6h-0.6zM223.7 77.7h0.6v0.6h-0.6zM243.7 82.3h0.6v0.6h-0.6zM243.3 78.7h0.6v0.6h-0.6zM237.8 82.4h0.6v0.6h-0.6zM240.9 81.8h0.6v0.6h-0.6zM243.0 85.0h0.6v0.6h-0.6zM246.0 77.0h0.6v0.6h-0.6zM226.7 86.2h0.6v0.6h-0.6zM255.4 83.8h0.6v0.6h-0.6zM233.5 85.6h0.6v0.6h-0.6zM237.6 83.0h0.6v0.6h-0.6zM246.1 82.7h0.6v0.6h-0.6zM223.2 80.7h0.6v0.6h-0.6zM240.7 80.3h0.6v0.6h-0.6zM238.9 81.1h0.6v0.6h-0.6zM240.2 81.2h0.6v0.6h-0.6zM242.9 81.6h0.6v0.6h-0.6zM227.8 83.9h0.6v0.6h-0.6zM238.8 82.9h0.6v0.6h-0.6zM224.6 81.4h0.6v0.6h-0.6zM243.4 83.2h0.6v0.6h-0.6zM227.1 85.8h0.6v0.6h-0.6zM239.3 82.4h0.6v0.6h-0.6zM232.6 82.2h0.6v0.6h-0.6zM239.8 76.4h0.6v0.6h-0.6zM233.3 79.2h0.6v0.6h-0.6zM239.3 82.8h0.6v0.6h-0.6zM236.2 83.6h0.6v0.6h-0.6zM248.7 87.4h0.6v0.6h-0.6zM226.6 87.1h0.6v0.6h-0.6zM236.9 78.0h0.6v0.6h-0.6zM245.9 80.4h0.6v0.6h-0.6zM231.1 84.9h0.6v0.6h-0.6zM234.5 82.9h0.6v0.6h-0.6zM245.3 83.4h0.6v0.6h-0.6zM216.1 81.5h0.6v0.6h-0.6zM225.9 79.2h0.6v0.6h-0.6zM226.2 83.0h0.6v0.6h-0.6zM236.8 81.9h0.6v0.6h-0.6zM243.9 82.8h0.6v0.6h-0.6zM233.9 85.2h0.6v0.6h-0.6zM240.2 83.1h0.6v0.6h-0.6zM244.4 84.6h0.6v0.6h-0.6zM237.5 82.6h0.6v0.6h-0.6zM232.7 80.0h0.6v0.6h-0.6zM253.6 83.4h0.6v0.6h-0.6zM218.4 82.9h0.6v0.6h-0.6zM230.4 79.9h0.6v0.6h-0.6zM233.3 83.2h0.6v0.6h-0.6zM243.9 81.9h0.6v0.6h-0.6zM234.5 83.9h0.6v0.6h-0.6zM218.3 78.3h0.6v0.6h-0.6zM224.9 85.2h0.6v0.6h-0.6zM233.2 79.5h0.6v0.6h-0.6zM229.1 79.0h0.6v0.6h-0.6zM238.0 82.2h0.6v0.6h-0.6zM239.5 84.0h0.6v0.6h-0.6zM241.6 83.4h0.6v0.6h-0.6zM231.2 83.2h0.6v0.6h-0.6zM235.1 82.5h0.6v0.6h-0.6zM246.2 80.4h0.6v0.6h-0.6zM240.1 83.6h0.6v0.6h-0.6zM236.2 81.1h0.6v0.6h-0.6zM235.8 81.8h0.6v0.6h-0.6zM227.8 79.8h0.6v0.6h-0.6zM223.1 81.3h0.6v0.6h-0.6zM256.2 79.7h0.6v0.6h-0.6zM244.2 83.5h0.6v0.6h-0.6zM245.2 85.4h0.6v0.6h-0.6zM237.2 84.0h0.6v0.6h-0.6zM237.2 82.7h0.6v0.6h-0.6zM235.6 84.2h0.6v0.6h-0.6zM222.3 81.8h0.6v0.6h-0.6zM234.8 80.2h0.6v0.6h-0.6zM235.5 87.0h0.6v0.6h-0.6zM234.3 86.2h0.6v0.6h-0.6zM245.7 81.9h0.6v0.6h-0.6zM233.7 82.6h0.6v0.6h-0.6zM234.6 88.8h0.6v0.6h-0.6zM238.3 82.8h0.6v0.6h-0.6zM230.9 81.2h0.6v0.6h-0.6zM231.6 81.4h0.6v0.6h-0.6zM237.1 84.4h0.6v0.6h-0.6zM233.4 78.6h0.6v0.6h-0.6zM247.6 83.2h0.6v0.6h-0.6zM236.7 79.6h0.6v0.6h-0.6zM237.0 82.7h0.6v0.6h-0.6zM239.4 82.3h0.6v0.6h-0.6zM238.6 82.5h0.6v0.6h-0.6zM259.3 77.3h0.6v0.6h-0.6zM237.2 76.4h0.6v0.6h-0.6zM237.1 81.6h0.6v0.6h-0.6zM228.2 85.1h0.6v0.6h-0.6zM231.2 78.4h0.6v0.6h-0.6zM234.7 81.3h0.6v0.6h-0.6zM221.6 86.3h0.6v0.6h-0.6zM233.0 81.2h0.6v0.6h-0.6zM219.8 85.7h0.6v0.6h-0.6zM235.8 83.7h0.6v0.6h-0.6zM240.1 79.0h0.6v0.6h-0.6zM230.3 84.6h0.6v0.6h-0.6zM234.8 86.5h0.6v0.6h-0.6zM233.0 85.6h0.6v0.6h-0.6zM245.7 80.7h0.6v0.6h-0.6zM233.6 83.6h0.6v0.6h-0.6zM233.6 82.5h0.6v0.6h-0.6zM237.2 79.6h0.6v0.6h-0.6zM230.0 83.2h0.6v0.6h-0.6zM233.5 79.8h0.6v0.6h-0.6zM231.2 83.1h0.6v0.6h-0.6zM238.6 83.0h0.6v0.6h-0.6zM237.3 86.7h0.6v0.6h-0.6zM233.4 81.0h0.6v0.6h-0.6zM241.8 82.9h0.6v0.6h-0.6zM233.7 80.7h0.6v0.6h-0.6zM232.4 82.8h0.6v0.6h-0.6zM238.4 79.2h0.6v0.6h-0.6zM215.0 85.4h0.6v0.6h-0.6zM230.0 82.4h0.6v0.6h-0.6zM228.5 76.7h0.6v0.6h-0.6zM224.0 78.3h0.6v0.6h-0.6zM230.0 81.8h0.6v0.6h-0.6zM234.2 81.7h0.6v0.6h-0.6zM244.8 82.2h0.6v0.6h-0.6zM242.2 83.0h0.6v0.6h-0.6zM225.5 78.9h0.6v0.6h-0.6zM242.3 81.3h0.6v0.6h-0.6zM243.0 80.6h0.6v0.6h-0.6zM222.4 80.2h0.6v0.6h-0.6zM234.0 79.2h0.6v0.6h-0.6zM242.8 82.7h0.6v0.6h-0.6zM235.7 79.8h0.6v0.6h-0.6zM250.6 83.4h0.6v0.6h-0.6zM228.0 85.7h0.6v0.6h-0.6zM231.8 84.5h0.6v0.6h-0.6zM228.4 80.8h0.6v0.6h-0.6zM244.9 80.9h0.6v0.6h-0.6zM230.2 85.1h0.6v0.6h-0.6zM236.2 78.3h0.6v0.6h-0.6zM245.1 82.8h0.6v0.6h-0.6zM242.6 80.7h0.6v0.6h-0.6zM238.2 83.7h0.6v0.6h-0.6zM222.6 81.5h0.6v0.6h-0.6zM236.7 79.9h0.6v0.6h-0.6zM242.1 83.2h0.6v0.6h-0.6zM228.7 80.8h0.6v0.6h-0.6zM231.9 83.6h0.6v0.6h-0.6zM231.8 83.0h0.6v0.6h-0.6zM233.2 81.4h0.6v0.6h-0.6zM246.2 87.4h0.6v0.6h-0.6zM242.9 82.9h0.6v0.6h-0.6zM232.5 82.5h0.6v0.6h-0.6zM225.9 86.6h0.6v0.6h-0.6zM236.8 80.2h0.6v0.6h-0.6zM231.4 83.8h0.6v0.6h-0.6zM239.3 80.5h0.6v0.6h-0.6zM236.8 75.8h0.6v0.6h-0.6zM233.6 86.1h0.6v0.6h-0.6zM239.6 79.5h0.6v0.6h-0.6zM241.5 81.6h0.6v0.6h-0.6zM229.1 82.9h0.6v0.6h-0.6zM231.5 88.8h0.6v0.6h-0.6zM242.6 83.4h0.6v0.6h-0.6zM241.9 82.3h0.6v0.6h-0.6zM228.7 77.9h0.6v0.6h-0.6zM236.5 84.3h0.6v0.6h-0.6zM234.8 81.6h0.6v0.6h-0.6zM223.8 79.1h0.6v0.6h-0.6zM249.5 79.3h0.6v0.6h-0.6zM222.3 83.0h0.6v0.6h-0.6zM247.3 81.5h0.6v0.6h-0.6zM235.6 86.9h0.6v0.6h-0.6zM228.1 82.3h0.6v0.6h-0.6zM243.2 86.7h0.6v0.6h-0.6zM235.0 81.9h0.6v0.6h-0.6zM236.6 83.2h0.6v0.6h-0.6zM224.5 81.4h0.6v0.6h-0.6zM233.4 83.9h0.6v0.6h-0.6zM228.0 84.8h0.6v0.6h-0.6zM238.9 82.8h0.6v0.6h-0.6zM227.4 77.7h0.6v0.6h-0.6zM233.3 82.0h0.6v0.6h-0.6zM230.1 82.4h0.6v0.6h-0.6zM230.3 82.0h0.6v0.6h-0.6zM235.1 89.1h0.6v0.6h-0.6zM230.8 84.7h0.6v0.6h-0.6zM244.1 82.4h0.6v0.6h-0.6zM233.0 84.3h0.6v0.6h-0.6zM243.8 86.6h0.6v0.6h-0.6zM245.4 81.3h0.6v0.6h-0.6zM233.4 81.6h0.6v0.6h-0.6zM242.6 83.5h0.6v0.6h-0.6zM247.0 84.0h0.6v0.6h-0.6zM232.4 77.6h0.6v0.6h-0.6zM229.6 84.6h0.6v0.6h-0.6zM243.3 83.5h0.6v0.6h-0.6zM240.5 81.5h0.6v0.6h-0.6zM227.8 80.9h0.6v0.6h-0.6zM236.7 84.7h0.6v0.6h-0.6zM247.4 85.4h0.6v0.6h-0.6zM246.0 78.9h0.6v0.6h-0.6zM237.3 82.2h0.6v0.6h-0.6zM241.0 83.8h0.6v0.6h-0.6zM242.9 85.6h0.6v0.6h-0.6zM230.5 81.1h0.6v0.6h-0.6zM237.3 82.5h0.6v0.6h-0.6zM237.1 84.1h0.6v0.6h-0.6zM242.0 83.2h0.6v0.6h-0.6zM225.9 76.1h0.6v0.6h-0.6zM230.9 82.0h0.6v0.6h-0.6zM226.5 82.1h0.6v0.6h-0.6zM240.5 86.0h0.6v0.6h-0.6zM244.1 79.8h0.6v0.6h-0.6zM243.4 84.7h0.6v0.6h-0.6zM247.7 81.6h0.6v0.6h-0.6zM232.7 84.2h0.6v0.6h-0.6zM237.5 80.4h0.6v0.6h-0.6zM254.4 81.3h0.6v0.6h-0.6zM232.3 81.8h0.6v0.6h-0.6zM228.8 80.5h0.6v0.6h-0.6zM238.5 82.6h0.6v0.6h-0.6zM227.9 83.0h0.6v0.6h-0.6zM244.9 85.7h0.6v0.6h-0.6zM232.3 80.9h0.6v0.6h-0.6zM237.7 79.1h0.6v0.6h-0.6zM229.0 85.3h0.6v0.6h-0.6zM237.7 83.1h0.6v0.6h-0.6zM232.2 79.7h0.6v0.6h-0.6zM230.7 84.6h0.6v0.6h-0.6zM233.5 81.4h0.6v0.6h-0.6zM233.3 81.4h0.6v0.6h-0.6zM241.3 81.6h0.6v0.6h-0.6zM228.2 80.1h0.6v0.6h-0.6zM239.5 83.2h0.6v0.6h-0.6zM254.4 79.4h0.6v0.6h-0.6zM244.9 78.3h0.6v0.6h-0.6zM242.0 81.4h0.6v0.6h-0.6zM237.4 84.0h0.6v0.6h-0.6zM233.7 83.7h0.6v0.6h-0.6zM226.7 85.2h0.6v0.6h-0.6zM233.2 82.4h0.6v0.6h-0.6zM239.4 80.8h0.6v0.6h-0.6zM238.3 81.8h0.6v0.6h-0.6zM242.1 82.7h0.6v0.6h-0.6zM225.1 77.9h0.6v0.6h-0.6zM223.2 81.3h0.6v0.6h-0.6zM242.3 83.1h0.6v0.6h-0.6zM231.0 83.1h0.6v0.6h-0.6zM238.2 82.7h0.6v0.6h-0.6zM238.0 84.1h0.6v0.6h-0.6zM235.1 82.9h0.6v0.6h-0.6zM224.0 79.8h0.6v0.6h-0.6zM233.3 80.6h0.6v0.6h-0.6zM221.8 82.8h0.6v0.6h-0.6zM232.7 85.7h0.6v0.6h-0.6zM231.2 84.0h0.6v0.6h-0.6zM224.1 85.2h0.6v0.6h-0.6zM236.8 81.4h0.6v0.6h-0.6zM231.1 78.2h0.6v0.6h-0.6zM233.0 81.6h0.6v0.6h-0.6zM241.8 81.0h0.6v0.6h-0.6zM225.4 83.0h0.6v0.6h-0.6zM236.2 83.4h0.6v0.6h-0.6zM246.2 81.5h0.6v0.6h-0.6zM237.4 82.9h0.6v0.6h-0.6zM235.8 81.7h0.6v0.6h-0.6zM244.1 82.1h0.6v0.6h-0.6zM234.3 78.8h0.6v0.6h-0.6zM243.3 81.6h0.6v0.6h-0.6zM242.5 80.6h0.6v0.6h-0.6zM231.3 85.0h0.6v0.6h-0.6zM235.4 84.6h0.6v0.6h-0.6zM231.2 77.6h0.6v0.6h-0.6zM242.2 84.9h0.6v0.6h-0.6zM231.8 79.4h0.6v0.6h-0.6zM234.9 78.4h0.6v0.6h-0.6zM233.4 82.6h0.6v0.6h-0.6zM237.2 80.7h0.6v0.6h-0.6zM247.4 86.2h0.6v0.6h-0.6zM241.7 80.7h0.6v0.6h-0.6zM229.1 82.7h0.6v0.6h-0.6zM237.7 79.5h0.6v0.6h-0.6zM249.8 80.1h0.6v0.6h-0.6zM236.9 86.6h0.6v0.6h-0.6zM227.2 81.6h0.6v0.6h-0.6zM237.5 83.2h0.6v0.6h-0.6zM240.0 85.0h0.6v0.6h-0.6zM220.6 81.4h0.6v0.6h-0.6zM234.2 81.0h0.6v0.6h-0.6zM220.3 86.6h0.6v0.6h-0.6zM239.3 83.9h0.6v0.6h-0.6zM223.1 85.8h0.6v0.6h-0.6zM232.1 87.2h0.6v0.6h-0.6zM234.9 81.9h0.6v0.6h-0.6zM245.3 85.3h0.6v0.6h-0.6z" fill="#444"/>
<path d="M223 92 C224 84 229 78.5 236 78 C243 77.5 249.5 79 251 84 C252 94 251.5 106 252.5 118.6 L219 118.6 C220 112 221.5 104 223 92 Z" fill="#666" filter="url(#b1)"/>
<path d="M224.3 83.5h0.7v0.7h-0.7zM230.5 94.2h0.7v0.7h-0.7zM234.8 103.4h0.7v0.7h-0.7zM226.1 104.4h0.7v0.7h-0.7zM229.0 90.2h0.7v0.7h-0.7zM231.9 89.8h0.7v0.7h-0.7zM236.1 105.7h0.7v0.7h-0.7zM226.5 94.2h0.7v0.7h-0.7zM231.6 81.3h0.7v0.7h-0.7zM227.6 81.4h0.7v0.7h-0.7zM228.6 95.9h0.7v0.7h-0.7zM233.7 93.7h0.7v0.7h-0.7zM227.9 109.8h0.7v0.7h-0.7zM225.0 108.3h0.7v0.7h-0.7zM226.6 84.3h0.7v0.7h-0.7zM231.2 101.8h0.7v0.7h-0.7zM225.9 111.8h0.7v0.7h-0.7zM234.3 88.8h0.7v0.7h-0.7zM225.6 94.8h0.7v0.7h-0.7zM227.2 88.4h0.7v0.7h-0.7zM230.5 95.9h0.7v0.7h-0.7zM228.7 95.7h0.7v0.7h-0.7zM228.7 86.9h0.7v0.7h-0.7zM224.3 91.3h0.7v0.7h-0.7zM226.5 106.0h0.7v0.7h-0.7zM229.5 87.5h0.7v0.7h-0.7zM223.5 109.4h0.7v0.7h-0.7zM229.7 104.5h0.7v0.7h-0.7zM223.2 94.8h0.7v0.7h-0.7zM231.3 110.9h0.7v0.7h-0.7zM226.3 96.3h0.7v0.7h-0.7zM227.3 98.9h0.7v0.7h-0.7zM226.9 100.1h0.7v0.7h-0.7zM227.9 108.7h0.7v0.7h-0.7zM226.7 88.2h0.7v0.7h-0.7zM223.3 98.7h0.7v0.7h-0.7zM220.5 84.8h0.7v0.7h-0.7zM229.4 112.9h0.7v0.7h-0.7zM220.0 88.9h0.7v0.7h-0.7zM227.9 95.2h0.7v0.7h-0.7zM234.7 102.3h0.7v0.7h-0.7zM226.4 109.2h0.7v0.7h-0.7zM232.2 103.4h0.7v0.7h-0.7zM224.2 101.9h0.7v0.7h-0.7zM236.5 96.5h0.7v0.7h-0.7zM231.7 82.3h0.7v0.7h-0.7zM225.9 91.1h0.7v0.7h-0.7zM230.7 113.8h0.7v0.7h-0.7zM226.1 104.6h0.7v0.7h-0.7zM230.7 89.7h0.7v0.7h-0.7zM230.5 95.7h0.7v0.7h-0.7zM230.0 89.3h0.7v0.7h-0.7zM230.9 104.5h0.7v0.7h-0.7zM228.8 91.8h0.7v0.7h-0.7zM221.5 85.0h0.7v0.7h-0.7zM232.6 98.2h0.7v0.7h-0.7zM226.3 106.4h0.7v0.7h-0.7zM230.1 86.6h0.7v0.7h-0.7zM227.1 102.4h0.7v0.7h-0.7zM228.9 90.8h0.7v0.7h-0.7zM225.2 63.8h0.7v0.7h-0.7zM224.9 75.9h0.7v0.7h-0.7zM231.9 105.7h0.7v0.7h-0.7zM226.7 93.4h0.7v0.7h-0.7zM224.9 99.5h0.7v0.7h-0.7zM230.8 103.2h0.7v0.7h-0.7zM235.7 107.7h0.7v0.7h-0.7zM230.5 106.9h0.7v0.7h-0.7zM227.8 94.0h0.7v0.7h-0.7zM236.4 87.9h0.7v0.7h-0.7zM223.8 90.1h0.7v0.7h-0.7zM231.2 85.1h0.7v0.7h-0.7zM229.5 108.2h0.7v0.7h-0.7zM221.5 91.1h0.7v0.7h-0.7zM224.2 106.6h0.7v0.7h-0.7zM229.6 110.9h0.7v0.7h-0.7zM230.0 103.9h0.7v0.7h-0.7zM221.6 93.9h0.7v0.7h-0.7zM236.6 82.0h0.7v0.7h-0.7zM226.5 96.7h0.7v0.7h-0.7zM223.6 88.6h0.7v0.7h-0.7zM227.9 92.9h0.7v0.7h-0.7zM228.6 90.9h0.7v0.7h-0.7zM233.5 71.6h0.7v0.7h-0.7zM223.8 93.0h0.7v0.7h-0.7zM226.8 91.5h0.7v0.7h-0.7zM223.7 79.7h0.7v0.7h-0.7zM233.7 89.8h0.7v0.7h-0.7zM226.0 70.7h0.7v0.7h-0.7zM225.3 102.1h0.7v0.7h-0.7zM229.4 95.8h0.7v0.7h-0.7zM224.3 109.6h0.7v0.7h-0.7zM234.7 89.7h0.7v0.7h-0.7zM230.7 112.5h0.7v0.7h-0.7zM228.9 108.1h0.7v0.7h-0.7zM219.3 77.1h0.7v0.7h-0.7zM228.6 105.1h0.7v0.7h-0.7zM226.8 103.8h0.7v0.7h-0.7zM230.1 104.7h0.7v0.7h-0.7zM227.7 103.8h0.7v0.7h-0.7zM229.0 91.8h0.7v0.7h-0.7zM226.9 96.7h0.7v0.7h-0.7zM235.3 102.8h0.7v0.7h-0.7zM230.0 73.5h0.7v0.7h-0.7zM233.3 107.1h0.7v0.7h-0.7zM225.9 112.9h0.7v0.7h-0.7zM224.1 91.7h0.7v0.7h-0.7zM225.7 90.7h0.7v0.7h-0.7zM220.5 91.8h0.7v0.7h-0.7zM223.9 82.8h0.7v0.7h-0.7zM230.0 94.9h0.7v0.7h-0.7zM229.5 70.9h0.7v0.7h-0.7zM224.5 93.8h0.7v0.7h-0.7zM226.8 92.3h0.7v0.7h-0.7zM228.3 79.6h0.7v0.7h-0.7zM232.9 97.9h0.7v0.7h-0.7zM221.5 96.6h0.7v0.7h-0.7zM226.5 97.9h0.7v0.7h-0.7zM231.2 97.1h0.7v0.7h-0.7zM230.1 99.5h0.7v0.7h-0.7zM221.6 82.6h0.7v0.7h-0.7zM230.3 107.5h0.7v0.7h-0.7zM222.3 97.2h0.7v0.7h-0.7zM231.7 93.5h0.7v0.7h-0.7zM224.0 90.0h0.7v0.7h-0.7zM230.6 105.1h0.7v0.7h-0.7zM234.4 92.8h0.7v0.7h-0.7zM229.1 104.6h0.7v0.7h-0.7zM229.4 105.6h0.7v0.7h-0.7zM225.9 97.3h0.7v0.7h-0.7zM217.5 108.2h0.7v0.7h-0.7zM223.5 104.9h0.7v0.7h-0.7zM231.9 94.5h0.7v0.7h-0.7zM225.7 105.0h0.7v0.7h-0.7zM228.8 99.2h0.7v0.7h-0.7zM231.9 107.7h0.7v0.7h-0.7zM229.3 79.1h0.7v0.7h-0.7zM230.0 102.3h0.7v0.7h-0.7zM233.4 87.4h0.7v0.7h-0.7zM222.9 106.6h0.7v0.7h-0.7zM227.8 100.4h0.7v0.7h-0.7zM234.7 85.0h0.7v0.7h-0.7zM223.8 96.4h0.7v0.7h-0.7zM232.4 89.5h0.7v0.7h-0.7zM228.6 95.7h0.7v0.7h-0.7zM226.2 89.8h0.7v0.7h-0.7zM226.0 74.1h0.7v0.7h-0.7zM233.9 98.0h0.7v0.7h-0.7zM229.8 85.5h0.7v0.7h-0.7zM231.4 104.1h0.7v0.7h-0.7zM226.3 84.3h0.7v0.7h-0.7zM224.7 92.5h0.7v0.7h-0.7zM226.6 102.6h0.7v0.7h-0.7zM227.9 94.5h0.7v0.7h-0.7zM223.2 87.5h0.7v0.7h-0.7zM224.0 99.4h0.7v0.7h-0.7zM228.8 84.4h0.7v0.7h-0.7zM234.0 101.6h0.7v0.7h-0.7zM239.2 90.9h0.7v0.7h-0.7zM228.8 93.7h0.7v0.7h-0.7zM225.6 93.6h0.7v0.7h-0.7zM229.0 91.3h0.7v0.7h-0.7zM219.5 95.8h0.7v0.7h-0.7zM230.4 111.7h0.7v0.7h-0.7zM232.2 94.4h0.7v0.7h-0.7zM226.4 96.2h0.7v0.7h-0.7zM230.0 93.0h0.7v0.7h-0.7zM228.0 80.1h0.7v0.7h-0.7zM233.0 89.8h0.7v0.7h-0.7zM224.0 101.7h0.7v0.7h-0.7zM222.5 101.3h0.7v0.7h-0.7zM229.8 95.6h0.7v0.7h-0.7zM227.1 108.1h0.7v0.7h-0.7zM223.6 85.2h0.7v0.7h-0.7zM234.6 86.8h0.7v0.7h-0.7zM225.3 103.6h0.7v0.7h-0.7zM219.5 87.2h0.7v0.7h-0.7zM228.4 101.5h0.7v0.7h-0.7zM225.7 110.7h0.7v0.7h-0.7zM225.2 87.9h0.7v0.7h-0.7zM222.0 96.2h0.7v0.7h-0.7zM228.7 93.9h0.7v0.7h-0.7zM227.0 95.9h0.7v0.7h-0.7zM228.5 84.4h0.7v0.7h-0.7zM233.4 88.6h0.7v0.7h-0.7zM228.9 84.7h0.7v0.7h-0.7zM228.4 88.4h0.7v0.7h-0.7zM230.6 107.7h0.7v0.7h-0.7zM223.0 96.3h0.7v0.7h-0.7zM229.8 84.3h0.7v0.7h-0.7zM225.3 82.5h0.7v0.7h-0.7zM221.6 104.2h0.7v0.7h-0.7zM225.6 83.7h0.7v0.7h-0.7zM232.3 85.8h0.7v0.7h-0.7zM225.1 98.0h0.7v0.7h-0.7zM234.1 76.5h0.7v0.7h-0.7zM223.3 102.6h0.7v0.7h-0.7zM222.4 87.8h0.7v0.7h-0.7zM221.9 92.7h0.7v0.7h-0.7zM228.9 88.5h0.7v0.7h-0.7zM226.4 79.1h0.7v0.7h-0.7zM220.3 81.9h0.7v0.7h-0.7zM230.6 92.4h0.7v0.7h-0.7zM220.9 106.6h0.7v0.7h-0.7zM229.7 90.6h0.7v0.7h-0.7zM228.5 101.8h0.7v0.7h-0.7zM229.3 95.8h0.7v0.7h-0.7zM230.5 80.6h0.7v0.7h-0.7zM226.6 96.2h0.7v0.7h-0.7zM218.4 105.0h0.7v0.7h-0.7zM231.1 103.1h0.7v0.7h-0.7zM228.3 88.6h0.7v0.7h-0.7zM225.2 105.9h0.7v0.7h-0.7zM222.5 101.0h0.7v0.7h-0.7zM228.3 95.8h0.7v0.7h-0.7zM226.9 86.4h0.7v0.7h-0.7zM232.4 106.2h0.7v0.7h-0.7zM226.7 79.6h0.7v0.7h-0.7zM227.4 95.3h0.7v0.7h-0.7zM226.4 112.4h0.7v0.7h-0.7zM230.0 110.1h0.7v0.7h-0.7zM225.8 107.5h0.7v0.7h-0.7zM227.6 87.0h0.7v0.7h-0.7zM235.6 113.4h0.7v0.7h-0.7zM221.1 101.1h0.7v0.7h-0.7zM231.9 107.2h0.7v0.7h-0.7zM229.5 83.6h0.7v0.7h-0.7zM225.3 71.6h0.7v0.7h-0.7zM233.4 96.3h0.7v0.7h-0.7zM228.9 76.0h0.7v0.7h-0.7zM223.9 85.7h0.7v0.7h-0.7zM228.4 90.4h0.7v0.7h-0.7zM227.0 99.8h0.7v0.7h-0.7zM227.9 100.0h0.7v0.7h-0.7zM230.3 109.6h0.7v0.7h-0.7zM229.1 102.2h0.7v0.7h-0.7zM224.6 92.4h0.7v0.7h-0.7zM229.0 100.0h0.7v0.7h-0.7zM231.9 88.3h0.7v0.7h-0.7zM229.1 102.6h0.7v0.7h-0.7zM228.6 87.3h0.7v0.7h-0.7zM226.1 113.3h0.7v0.7h-0.7zM224.6 103.6h0.7v0.7h-0.7zM225.3 103.6h0.7v0.7h-0.7zM232.8 88.9h0.7v0.7h-0.7zM232.0 93.4h0.7v0.7h-0.7zM234.3 95.1h0.7v0.7h-0.7zM230.0 86.5h0.7v0.7h-0.7zM228.5 115.7h0.7v0.7h-0.7zM231.5 105.6h0.7v0.7h-0.7zM215.8 97.5h0.7v0.7h-0.7zM227.1 79.6h0.7v0.7h-0.7zM231.4 99.8h0.7v0.7h-0.7zM223.9 76.3h0.7v0.7h-0.7zM230.0 71.0h0.7v0.7h-0.7zM230.3 85.2h0.7v0.7h-0.7zM230.7 94.8h0.7v0.7h-0.7zM225.0 95.8h0.7v0.7h-0.7zM231.7 88.2h0.7v0.7h-0.7zM221.6 85.8h0.7v0.7h-0.7zM232.5 92.7h0.7v0.7h-0.7zM231.7 106.8h0.7v0.7h-0.7zM228.9 90.5h0.7v0.7h-0.7zM229.4 99.7h0.7v0.7h-0.7zM221.6 102.8h0.7v0.7h-0.7zM230.0 93.0h0.7v0.7h-0.7zM223.1 96.8h0.7v0.7h-0.7zM228.4 94.9h0.7v0.7h-0.7zM231.4 97.5h0.7v0.7h-0.7zM230.2 104.3h0.7v0.7h-0.7zM231.2 115.6h0.7v0.7h-0.7zM227.4 100.6h0.7v0.7h-0.7zM224.6 115.3h0.7v0.7h-0.7zM233.1 94.6h0.7v0.7h-0.7zM226.6 82.5h0.7v0.7h-0.7zM224.1 75.9h0.7v0.7h-0.7zM223.1 77.9h0.7v0.7h-0.7zM223.9 105.7h0.7v0.7h-0.7zM223.2 99.1h0.7v0.7h-0.7zM231.7 111.2h0.7v0.7h-0.7zM221.3 90.5h0.7v0.7h-0.7zM227.1 86.1h0.7v0.7h-0.7zM240.3 99.4h0.7v0.7h-0.7zM226.0 93.1h0.7v0.7h-0.7zM225.0 91.7h0.7v0.7h-0.7zM228.3 103.1h0.7v0.7h-0.7zM226.2 91.8h0.7v0.7h-0.7zM226.3 90.3h0.7v0.7h-0.7zM234.6 103.5h0.7v0.7h-0.7zM232.5 98.3h0.7v0.7h-0.7zM231.2 103.7h0.7v0.7h-0.7zM232.0 88.3h0.7v0.7h-0.7zM231.4 85.3h0.7v0.7h-0.7zM228.1 101.7h0.7v0.7h-0.7zM231.3 80.9h0.7v0.7h-0.7zM236.6 102.5h0.7v0.7h-0.7zM224.5 77.5h0.7v0.7h-0.7zM222.1 105.7h0.7v0.7h-0.7zM223.0 102.6h0.7v0.7h-0.7zM223.0 91.6h0.7v0.7h-0.7zM226.0 94.6h0.7v0.7h-0.7zM225.1 96.1h0.7v0.7h-0.7zM231.4 100.2h0.7v0.7h-0.7zM229.1 106.2h0.7v0.7h-0.7zM228.7 92.5h0.7v0.7h-0.7zM233.8 79.8h0.7v0.7h-0.7zM227.6 83.9h0.7v0.7h-0.7zM226.1 98.2h0.7v0.7h-0.7zM227.1 83.2h0.7v0.7h-0.7zM224.5 89.8h0.7v0.7h-0.7zM228.8 78.7h0.7v0.7h-0.7zM224.2 87.9h0.7v0.7h-0.7zM223.8 105.6h0.7v0.7h-0.7zM230.7 94.2h0.7v0.7h-0.7zM225.0 113.5h0.7v0.7h-0.7zM228.1 107.6h0.7v0.7h-0.7zM231.7 95.4h0.7v0.7h-0.7zM231.3 111.3h0.7v0.7h-0.7zM222.8 88.2h0.7v0.7h-0.7zM231.3 89.9h0.7v0.7h-0.7zM221.1 102.4h0.7v0.7h-0.7zM232.1 99.7h0.7v0.7h-0.7zM225.7 111.3h0.7v0.7h-0.7zM226.5 98.0h0.7v0.7h-0.7zM216.8 87.5h0.7v0.7h-0.7zM229.0 98.5h0.7v0.7h-0.7zM232.8 109.8h0.7v0.7h-0.7zM232.4 96.5h0.7v0.7h-0.7zM228.2 84.8h0.7v0.7h-0.7zM235.3 99.8h0.7v0.7h-0.7zM231.5 105.3h0.7v0.7h-0.7zM222.6 99.8h0.7v0.7h-0.7zM219.3 89.4h0.7v0.7h-0.7zM232.2 72.8h0.7v0.7h-0.7zM238.1 100.3h0.7v0.7h-0.7zM228.1 112.3h0.7v0.7h-0.7zM235.0 97.3h0.7v0.7h-0.7zM233.1 80.5h0.7v0.7h-0.7zM229.5 92.7h0.7v0.7h-0.7zM229.1 80.8h0.7v0.7h-0.7zM225.4 92.7h0.7v0.7h-0.7zM228.3 84.0h0.7v0.7h-0.7zM225.0 96.1h0.7v0.7h-0.7zM226.3 96.6h0.7v0.7h-0.7zM231.1 87.3h0.7v0.7h-0.7zM221.8 92.9h0.7v0.7h-0.7zM237.4 96.9h0.7v0.7h-0.7zM230.9 96.1h0.7v0.7h-0.7zM228.2 86.6h0.7v0.7h-0.7zM227.9 82.3h0.7v0.7h-0.7zM229.4 95.4h0.7v0.7h-0.7zM231.9 112.5h0.7v0.7h-0.7zM233.0 108.9h0.7v0.7h-0.7zM225.2 115.3h0.7v0.7h-0.7zM227.0 91.5h0.7v0.7h-0.7zM229.7 97.9h0.7v0.7h-0.7zM231.6 96.0h0.7v0.7h-0.7zM229.1 102.5h0.7v0.7h-0.7zM225.7 112.6h0.7v0.7h-0.7zM232.9 88.5h0.7v0.7h-0.7zM228.8 77.5h0.7v0.7h-0.7zM231.2 101.9h0.7v0.7h-0.7zM233.9 92.3h0.7v0.7h-0.7zM221.3 89.5h0.7v0.7h-0.7zM224.4 76.5h0.7v0.7h-0.7zM234.8 105.3h0.7v0.7h-0.7zM222.5 95.1h0.7v0.7h-0.7zM231.8 108.0h0.7v0.7h-0.7zM230.7 80.9h0.7v0.7h-0.7zM225.1 96.3h0.7v0.7h-0.7zM228.4 63.8h0.7v0.7h-0.7zM234.5 103.2h0.7v0.7h-0.7zM228.3 93.3h0.7v0.7h-0.7zM232.3 102.1h0.7v0.7h-0.7zM226.6 88.8h0.7v0.7h-0.7zM224.6 116.7h0.7v0.7h-0.7zM223.5 81.1h0.7v0.7h-0.7zM222.0 109.3h0.7v0.7h-0.7zM222.3 85.5h0.7v0.7h-0.7zM227.4 71.2h0.7v0.7h-0.7zM222.9 109.9h0.7v0.7h-0.7zM223.6 92.4h0.7v0.7h-0.7zM223.2 101.4h0.7v0.7h-0.7zM226.6 100.0h0.7v0.7h-0.7zM223.7 98.4h0.7v0.7h-0.7zM231.5 90.4h0.7v0.7h-0.7zM221.5 78.4h0.7v0.7h-0.7zM226.4 104.5h0.7v0.7h-0.7zM231.9 93.0h0.7v0.7h-0.7zM228.3 84.3h0.7v0.7h-0.7zM221.4 99.6h0.7v0.7h-0.7zM231.9 101.8h0.7v0.7h-0.7zM231.6 97.2h0.7v0.7h-0.7zM224.9 107.2h0.7v0.7h-0.7zM228.9 111.7h0.7v0.7h-0.7zM226.9 87.1h0.7v0.7h-0.7zM232.6 101.2h0.7v0.7h-0.7zM234.8 100.7h0.7v0.7h-0.7zM227.1 92.9h0.7v0.7h-0.7zM221.0 92.4h0.7v0.7h-0.7zM230.0 101.6h0.7v0.7h-0.7zM223.8 85.6h0.7v0.7h-0.7zM221.0 106.1h0.7v0.7h-0.7zM226.2 100.8h0.7v0.7h-0.7zM230.4 103.0h0.7v0.7h-0.7zM230.0 88.6h0.7v0.7h-0.7zM232.9 90.2h0.7v0.7h-0.7zM233.7 94.4h0.7v0.7h-0.7zM224.4 100.7h0.7v0.7h-0.7zM234.4 92.8h0.7v0.7h-0.7zM230.5 86.9h0.7v0.7h-0.7zM226.8 65.6h0.7v0.7h-0.7z" fill="#1a1a1a"/>
<path d="M240.6 82.2h0.7v0.7h-0.7zM234.7 80.8h0.7v0.7h-0.7zM242.9 83.2h0.7v0.7h-0.7zM234.1 82.2h0.7v0.7h-0.7zM228.3 83.9h0.7v0.7h-0.7zM240.8 82.4h0.7v0.7h-0.7zM242.7 81.8h0.7v0.7h-0.7zM253.5 84.8h0.7v0.7h-0.7zM230.3 87.0h0.7v0.7h-0.7zM247.7 84.6h0.7v0.7h-0.7zM228.1 81.4h0.7v0.7h-0.7zM235.3 80.1h0.7v0.7h-0.7zM239.1 84.5h0.7v0.7h-0.7zM238.7 81.7h0.7v0.7h-0.7zM239.2 78.7h0.7v0.7h-0.7zM237.5 83.9h0.7v0.7h-0.7zM242.4 80.6h0.7v0.7h-0.7zM242.8 83.0h0.7v0.7h-0.7zM241.1 83.2h0.7v0.7h-0.7zM248.8 82.2h0.7v0.7h-0.7zM240.2 79.7h0.7v0.7h-0.7zM234.4 82.6h0.7v0.7h-0.7zM250.8 80.3h0.7v0.7h-0.7zM235.9 80.4h0.7v0.7h-0.7zM243.2 84.5h0.7v0.7h-0.7zM241.7 84.3h0.7v0.7h-0.7zM236.6 81.7h0.7v0.7h-0.7zM242.6 85.7h0.7v0.7h-0.7zM233.7 84.2h0.7v0.7h-0.7zM238.5 79.5h0.7v0.7h-0.7zM225.1 81.5h0.7v0.7h-0.7zM236.9 79.1h0.7v0.7h-0.7zM231.2 80.9h0.7v0.7h-0.7zM229.3 82.8h0.7v0.7h-0.7zM238.5 85.5h0.7v0.7h-0.7zM236.7 82.9h0.7v0.7h-0.7zM239.1 81.4h0.7v0.7h-0.7zM231.1 82.9h0.7v0.7h-0.7zM226.6 82.9h0.7v0.7h-0.7zM234.4 79.4h0.7v0.7h-0.7zM256.8 81.6h0.7v0.7h-0.7zM233.9 82.9h0.7v0.7h-0.7zM238.8 82.8h0.7v0.7h-0.7zM240.8 82.1h0.7v0.7h-0.7zM235.5 80.0h0.7v0.7h-0.7zM228.6 81.3h0.7v0.7h-0.7zM247.9 83.0h0.7v0.7h-0.7zM242.0 84.9h0.7v0.7h-0.7zM243.4 80.1h0.7v0.7h-0.7zM234.7 83.7h0.7v0.7h-0.7zM252.6 78.2h0.7v0.7h-0.7zM236.6 79.5h0.7v0.7h-0.7zM229.9 83.3h0.7v0.7h-0.7zM232.5 84.6h0.7v0.7h-0.7zM233.3 83.7h0.7v0.7h-0.7zM230.1 81.2h0.7v0.7h-0.7zM245.4 78.0h0.7v0.7h-0.7zM239.8 78.7h0.7v0.7h-0.7zM232.8 82.7h0.7v0.7h-0.7zM225.7 82.4h0.7v0.7h-0.7zM237.7 80.6h0.7v0.7h-0.7zM238.1 82.2h0.7v0.7h-0.7zM233.9 85.0h0.7v0.7h-0.7zM237.0 81.2h0.7v0.7h-0.7zM238.0 78.7h0.7v0.7h-0.7zM236.4 81.6h0.7v0.7h-0.7zM240.5 81.6h0.7v0.7h-0.7zM242.7 80.1h0.7v0.7h-0.7zM249.1 82.8h0.7v0.7h-0.7zM232.1 81.7h0.7v0.7h-0.7zM234.5 82.3h0.7v0.7h-0.7zM249.2 82.3h0.7v0.7h-0.7zM242.5 80.3h0.7v0.7h-0.7zM226.4 79.7h0.7v0.7h-0.7zM261.2 82.6h0.7v0.7h-0.7zM242.7 82.8h0.7v0.7h-0.7zM242.0 82.0h0.7v0.7h-0.7zM240.7 82.8h0.7v0.7h-0.7zM229.2 82.4h0.7v0.7h-0.7zM227.3 81.6h0.7v0.7h-0.7zM242.3 81.0h0.7v0.7h-0.7zM232.5 83.6h0.7v0.7h-0.7zM238.5 82.0h0.7v0.7h-0.7zM241.8 79.4h0.7v0.7h-0.7zM231.5 83.6h0.7v0.7h-0.7zM237.0 83.4h0.7v0.7h-0.7zM242.1 83.2h0.7v0.7h-0.7zM234.6 83.8h0.7v0.7h-0.7zM246.1 79.0h0.7v0.7h-0.7zM233.4 79.3h0.7v0.7h-0.7zM240.5 80.6h0.7v0.7h-0.7zM241.7 81.1h0.7v0.7h-0.7zM243.5 79.9h0.7v0.7h-0.7zM232.9 76.2h0.7v0.7h-0.7zM243.6 81.9h0.7v0.7h-0.7zM242.0 82.7h0.7v0.7h-0.7zM237.9 84.4h0.7v0.7h-0.7zM240.6 80.2h0.7v0.7h-0.7zM235.3 82.0h0.7v0.7h-0.7zM241.4 82.1h0.7v0.7h-0.7zM249.5 83.0h0.7v0.7h-0.7zM235.3 84.4h0.7v0.7h-0.7zM238.5 80.0h0.7v0.7h-0.7zM229.2 82.3h0.7v0.7h-0.7zM229.3 82.3h0.7v0.7h-0.7zM249.4 83.3h0.7v0.7h-0.7zM254.9 81.2h0.7v0.7h-0.7zM240.5 78.9h0.7v0.7h-0.7zM238.6 82.4h0.7v0.7h-0.7zM234.0 82.0h0.7v0.7h-0.7zM226.7 78.4h0.7v0.7h-0.7zM236.8 84.1h0.7v0.7h-0.7zM240.7 86.6h0.7v0.7h-0.7zM232.9 79.3h0.7v0.7h-0.7zM233.3 81.4h0.7v0.7h-0.7zM245.0 80.7h0.7v0.7h-0.7zM248.8 80.6h0.7v0.7h-0.7zM242.5 80.4h0.7v0.7h-0.7zM232.5 79.4h0.7v0.7h-0.7zM249.6 83.2h0.7v0.7h-0.7zM236.1 83.5h0.7v0.7h-0.7zM244.4 81.6h0.7v0.7h-0.7zM242.2 82.5h0.7v0.7h-0.7zM240.0 80.4h0.7v0.7h-0.7zM237.3 79.8h0.7v0.7h-0.7zM229.6 78.9h0.7v0.7h-0.7zM238.0 82.6h0.7v0.7h-0.7zM243.3 80.8h0.7v0.7h-0.7zM238.9 80.0h0.7v0.7h-0.7zM252.5 80.6h0.7v0.7h-0.7zM240.0 85.3h0.7v0.7h-0.7zM242.7 85.1h0.7v0.7h-0.7zM243.7 81.9h0.7v0.7h-0.7zM250.8 81.7h0.7v0.7h-0.7zM235.9 84.0h0.7v0.7h-0.7zM239.1 80.0h0.7v0.7h-0.7zM234.8 78.8h0.7v0.7h-0.7zM233.4 80.7h0.7v0.7h-0.7zM232.9 83.5h0.7v0.7h-0.7zM239.3 80.5h0.7v0.7h-0.7zM237.2 80.7h0.7v0.7h-0.7zM237.9 82.2h0.7v0.7h-0.7zM245.4 83.3h0.7v0.7h-0.7zM250.9 80.7h0.7v0.7h-0.7zM221.0 80.1h0.7v0.7h-0.7zM243.5 81.5h0.7v0.7h-0.7zM246.3 81.7h0.7v0.7h-0.7zM243.0 80.6h0.7v0.7h-0.7zM232.7 81.1h0.7v0.7h-0.7zM236.3 82.3h0.7v0.7h-0.7zM230.0 79.2h0.7v0.7h-0.7zM245.2 78.5h0.7v0.7h-0.7zM235.0 79.2h0.7v0.7h-0.7zM244.2 79.2h0.7v0.7h-0.7zM235.5 79.1h0.7v0.7h-0.7zM246.4 80.3h0.7v0.7h-0.7zM243.7 79.6h0.7v0.7h-0.7zM241.3 83.7h0.7v0.7h-0.7zM240.1 81.0h0.7v0.7h-0.7zM247.0 80.9h0.7v0.7h-0.7zM232.1 82.2h0.7v0.7h-0.7zM226.1 80.3h0.7v0.7h-0.7zM234.9 81.2h0.7v0.7h-0.7zM235.8 82.2h0.7v0.7h-0.7zM233.9 77.9h0.7v0.7h-0.7zM225.7 85.3h0.7v0.7h-0.7zM247.6 79.3h0.7v0.7h-0.7zM237.3 80.6h0.7v0.7h-0.7zM240.9 81.9h0.7v0.7h-0.7zM243.6 84.0h0.7v0.7h-0.7zM249.9 77.2h0.7v0.7h-0.7zM228.3 81.5h0.7v0.7h-0.7zM238.1 83.5h0.7v0.7h-0.7zM232.2 76.9h0.7v0.7h-0.7zM235.5 78.6h0.7v0.7h-0.7zM238.0 80.4h0.7v0.7h-0.7zM237.7 82.6h0.7v0.7h-0.7zM243.2 81.5h0.7v0.7h-0.7zM238.6 81.8h0.7v0.7h-0.7zM237.8 83.3h0.7v0.7h-0.7zM237.3 83.1h0.7v0.7h-0.7zM240.2 82.0h0.7v0.7h-0.7zM243.6 83.2h0.7v0.7h-0.7zM232.1 78.5h0.7v0.7h-0.7zM237.0 81.3h0.7v0.7h-0.7zM246.6 81.8h0.7v0.7h-0.7zM228.4 85.6h0.7v0.7h-0.7zM227.6 78.3h0.7v0.7h-0.7zM239.0 82.5h0.7v0.7h-0.7zM247.1 86.7h0.7v0.7h-0.7zM230.2 80.5h0.7v0.7h-0.7zM236.4 80.6h0.7v0.7h-0.7zM229.9 82.0h0.7v0.7h-0.7zM241.2 82.1h0.7v0.7h-0.7zM243.6 82.2h0.7v0.7h-0.7zM239.9 81.6h0.7v0.7h-0.7zM241.9 78.1h0.7v0.7h-0.7zM248.8 83.6h0.7v0.7h-0.7zM244.0 82.9h0.7v0.7h-0.7zM235.2 82.3h0.7v0.7h-0.7z" fill="#222"/>
<path d="M230.8 93 C231.2 85.5 234 81.8 238.5 81.4 C244 81 248.8 81.8 249.8 85 C250.6 95 250.3 106 251 118.4 L229.8 118.4 C229.4 110 230.2 99 230.8 93 Z" fill="#1c1c1c"/>
<path d="M226.2 81.9h0.6v0.6h-0.6zM238.3 78.6h0.6v0.6h-0.6zM241.9 78.0h0.6v0.6h-0.6zM250.3 80.5h0.6v0.6h-0.6zM235.8 80.8h0.6v0.6h-0.6zM228.9 80.4h0.6v0.6h-0.6zM242.5 81.1h0.6v0.6h-0.6zM239.6 77.9h0.6v0.6h-0.6zM238.3 77.5h0.6v0.6h-0.6zM237.7 78.7h0.6v0.6h-0.6zM231.7 80.8h0.6v0.6h-0.6zM248.8 82.0h0.6v0.6h-0.6zM234.2 79.0h0.6v0.6h-0.6zM230.6 78.7h0.6v0.6h-0.6zM237.3 80.3h0.6v0.6h-0.6zM233.8 79.6h0.6v0.6h-0.6zM229.3 78.8h0.6v0.6h-0.6zM244.5 81.7h0.6v0.6h-0.6zM239.6 79.7h0.6v0.6h-0.6zM237.7 78.5h0.6v0.6h-0.6zM229.2 80.4h0.6v0.6h-0.6zM229.6 80.2h0.6v0.6h-0.6zM229.1 79.4h0.6v0.6h-0.6zM246.3 80.5h0.6v0.6h-0.6zM235.6 80.0h0.6v0.6h-0.6zM226.8 81.0h0.6v0.6h-0.6zM231.4 78.3h0.6v0.6h-0.6zM231.8 79.6h0.6v0.6h-0.6zM231.9 78.6h0.6v0.6h-0.6zM238.9 79.8h0.6v0.6h-0.6zM243.6 80.8h0.6v0.6h-0.6zM243.4 77.8h0.6v0.6h-0.6zM236.6 80.3h0.6v0.6h-0.6zM241.5 79.1h0.6v0.6h-0.6zM239.9 81.2h0.6v0.6h-0.6zM230.5 78.2h0.6v0.6h-0.6zM231.1 79.9h0.6v0.6h-0.6zM229.4 79.6h0.6v0.6h-0.6zM233.3 78.0h0.6v0.6h-0.6zM225.2 83.0h0.6v0.6h-0.6zM243.7 81.1h0.6v0.6h-0.6zM226.6 80.8h0.6v0.6h-0.6zM234.0 77.6h0.6v0.6h-0.6zM232.7 78.8h0.6v0.6h-0.6zM245.9 79.8h0.6v0.6h-0.6zM235.8 80.2h0.6v0.6h-0.6zM239.0 77.6h0.6v0.6h-0.6zM243.1 79.9h0.6v0.6h-0.6zM242.2 82.1h0.6v0.6h-0.6zM234.1 83.0h0.6v0.6h-0.6zM234.2 79.1h0.6v0.6h-0.6zM222.9 81.6h0.6v0.6h-0.6zM234.9 78.7h0.6v0.6h-0.6zM232.8 80.4h0.6v0.6h-0.6zM242.7 80.6h0.6v0.6h-0.6zM234.6 78.5h0.6v0.6h-0.6zM224.7 78.5h0.6v0.6h-0.6zM238.9 78.9h0.6v0.6h-0.6zM247.8 81.0h0.6v0.6h-0.6zM234.3 80.3h0.6v0.6h-0.6zM237.4 78.4h0.6v0.6h-0.6zM234.2 77.2h0.6v0.6h-0.6zM234.2 81.1h0.6v0.6h-0.6zM233.3 82.1h0.6v0.6h-0.6zM235.0 80.7h0.6v0.6h-0.6zM239.0 78.6h0.6v0.6h-0.6zM229.3 80.2h0.6v0.6h-0.6zM240.9 79.5h0.6v0.6h-0.6zM235.3 75.3h0.6v0.6h-0.6zM232.3 80.9h0.6v0.6h-0.6z" fill="#777"/>
<path d="M236.4 89 C236.4 83.4 247.8 83.4 247.8 89 C248 93 247.4 97 247.3 100 C247.4 104 248.2 108 248.5 112 L248.6 118 L236.9 118 C236.9 112 237.2 108 237.6 104 C238 101 238.4 99 238 96 C237.2 93 236.4 91 236.4 89 Z" fill="#dadada" stroke="#111" stroke-width="0.9"/>
<path d="M239 90 C239 86.6 245.4 86.6 245.4 90 C245.5 94 245 98 245 101 C245.2 106 246 110 246 115.5 L239.5 115.5 C239.6 110 240.3 105 240.4 101 C240.4 97 239 94 239 90 Z" fill="none" stroke="#9a9a9a" stroke-width="0.5"/>
<path d="M241.5 91.5 C241.5 89.5 243 89.5 243 91.5 C243 96 242.6 100 242.8 104 C243 108 243.6 111 243.6 114" fill="none" stroke="#aaa" stroke-width="0.45"/>
<path d="M234.8 100 C236.2 99.8 236.9 100.8 236.6 102.3 C236.4 103.2 236 103.6 236.5 104.5 C237.2 106.5 236.9 109.5 234.6 110.2 C232.4 110.6 231.8 108.4 232.4 106 C232.7 104.6 233.2 104.2 233.2 103 C233 101.5 233.5 100.2 234.8 100 Z" fill="#fafafa"/>
</g>
<clipPath id="c_sp1"><rect x="27.7" y="151.1" width="62.8" height="64.4"/></clipPath><g clip-path="url(#c_sp1)">
<path d="M56.4 209.1h0.6v0.6h-0.6zM41.3 212.6h0.6v0.6h-0.6zM54.8 210.4h0.6v0.6h-0.6zM60.9 214.0h0.6v0.6h-0.6zM49.4 207.2h0.6v0.6h-0.6zM42.4 208.1h0.6v0.6h-0.6zM53.5 209.4h0.6v0.6h-0.6zM60.5 207.6h0.6v0.6h-0.6zM54.6 212.2h0.6v0.6h-0.6zM53.6 211.6h0.6v0.6h-0.6zM42.2 206.6h0.6v0.6h-0.6zM68.5 206.9h0.6v0.6h-0.6zM48.3 211.0h0.6v0.6h-0.6zM66.0 199.2h0.6v0.6h-0.6zM66.4 210.2h0.6v0.6h-0.6zM60.8 204.9h0.6v0.6h-0.6zM51.3 206.5h0.6v0.6h-0.6zM48.0 206.9h0.6v0.6h-0.6zM59.9 209.9h0.6v0.6h-0.6zM47.4 212.3h0.6v0.6h-0.6zM41.7 203.2h0.6v0.6h-0.6zM75.9 206.5h0.6v0.6h-0.6zM67.9 208.7h0.6v0.6h-0.6zM50.1 211.2h0.6v0.6h-0.6zM43.9 205.7h0.6v0.6h-0.6zM50.2 207.5h0.6v0.6h-0.6zM40.8 205.5h0.6v0.6h-0.6zM59.5 211.2h0.6v0.6h-0.6zM63.0 206.1h0.6v0.6h-0.6zM58.0 208.9h0.6v0.6h-0.6zM36.5 210.9h0.6v0.6h-0.6zM37.1 211.3h0.6v0.6h-0.6zM47.8 208.3h0.6v0.6h-0.6zM56.3 210.7h0.6v0.6h-0.6zM44.7 214.2h0.6v0.6h-0.6zM58.2 205.6h0.6v0.6h-0.6zM36.1 209.1h0.6v0.6h-0.6zM50.5 212.6h0.6v0.6h-0.6zM42.3 205.5h0.6v0.6h-0.6zM56.3 209.4h0.6v0.6h-0.6zM61.4 213.7h0.6v0.6h-0.6zM43.5 199.4h0.6v0.6h-0.6zM52.8 206.1h0.6v0.6h-0.6zM54.5 198.0h0.6v0.6h-0.6zM51.2 209.5h0.6v0.6h-0.6zM46.8 211.2h0.6v0.6h-0.6zM53.2 210.0h0.6v0.6h-0.6zM64.8 214.4h0.6v0.6h-0.6zM63.8 210.6h0.6v0.6h-0.6zM53.6 211.4h0.6v0.6h-0.6zM55.3 206.1h0.6v0.6h-0.6zM56.0 212.8h0.6v0.6h-0.6zM48.3 204.6h0.6v0.6h-0.6zM57.8 206.0h0.6v0.6h-0.6zM37.9 208.1h0.6v0.6h-0.6zM38.1 210.4h0.6v0.6h-0.6zM47.3 209.4h0.6v0.6h-0.6zM63.2 213.7h0.6v0.6h-0.6zM51.3 199.9h0.6v0.6h-0.6zM47.6 204.3h0.6v0.6h-0.6zM58.9 211.7h0.6v0.6h-0.6zM57.6 211.9h0.6v0.6h-0.6zM48.7 212.7h0.6v0.6h-0.6zM49.3 204.4h0.6v0.6h-0.6zM50.4 201.9h0.6v0.6h-0.6zM64.2 210.1h0.6v0.6h-0.6zM57.5 207.2h0.6v0.6h-0.6zM46.0 211.9h0.6v0.6h-0.6zM55.7 205.6h0.6v0.6h-0.6zM54.0 211.5h0.6v0.6h-0.6zM44.1 213.8h0.6v0.6h-0.6zM41.5 213.8h0.6v0.6h-0.6zM58.2 210.2h0.6v0.6h-0.6zM44.7 205.9h0.6v0.6h-0.6zM30.9 209.0h0.6v0.6h-0.6zM51.0 211.4h0.6v0.6h-0.6zM62.1 209.9h0.6v0.6h-0.6zM49.0 213.1h0.6v0.6h-0.6zM52.2 209.0h0.6v0.6h-0.6zM41.0 213.4h0.6v0.6h-0.6zM44.0 207.2h0.6v0.6h-0.6zM53.1 206.3h0.6v0.6h-0.6zM38.2 204.5h0.6v0.6h-0.6zM44.4 208.2h0.6v0.6h-0.6zM61.7 211.8h0.6v0.6h-0.6zM55.3 212.4h0.6v0.6h-0.6zM31.3 206.6h0.6v0.6h-0.6zM47.0 204.9h0.6v0.6h-0.6zM56.9 206.5h0.6v0.6h-0.6zM41.7 212.7h0.6v0.6h-0.6zM46.0 208.1h0.6v0.6h-0.6zM37.8 212.8h0.6v0.6h-0.6zM52.7 214.9h0.6v0.6h-0.6zM73.4 211.8h0.6v0.6h-0.6zM48.8 205.9h0.6v0.6h-0.6zM68.0 208.3h0.6v0.6h-0.6zM58.3 210.1h0.6v0.6h-0.6zM53.8 209.9h0.6v0.6h-0.6zM51.0 210.1h0.6v0.6h-0.6zM42.6 211.6h0.6v0.6h-0.6zM47.4 209.8h0.6v0.6h-0.6zM68.0 210.0h0.6v0.6h-0.6zM42.4 210.6h0.6v0.6h-0.6zM38.4 209.8h0.6v0.6h-0.6zM65.7 204.8h0.6v0.6h-0.6zM50.8 205.6h0.6v0.6h-0.6zM53.9 210.4h0.6v0.6h-0.6zM53.9 208.0h0.6v0.6h-0.6zM34.1 205.5h0.6v0.6h-0.6zM48.1 212.4h0.6v0.6h-0.6zM33.2 213.5h0.6v0.6h-0.6zM45.1 202.4h0.6v0.6h-0.6zM66.1 210.5h0.6v0.6h-0.6zM43.3 210.2h0.6v0.6h-0.6zM58.0 203.3h0.6v0.6h-0.6zM64.5 205.7h0.6v0.6h-0.6zM60.0 206.8h0.6v0.6h-0.6zM37.2 206.7h0.6v0.6h-0.6zM47.3 209.6h0.6v0.6h-0.6zM36.3 205.1h0.6v0.6h-0.6zM55.2 207.6h0.6v0.6h-0.6zM47.2 210.9h0.6v0.6h-0.6zM45.1 210.6h0.6v0.6h-0.6zM50.6 213.1h0.6v0.6h-0.6zM48.0 206.0h0.6v0.6h-0.6zM54.5 211.5h0.6v0.6h-0.6zM59.3 214.6h0.6v0.6h-0.6zM64.3 213.2h0.6v0.6h-0.6zM48.7 209.6h0.6v0.6h-0.6zM65.4 212.8h0.6v0.6h-0.6zM42.0 207.9h0.6v0.6h-0.6zM43.7 213.7h0.6v0.6h-0.6zM48.8 209.2h0.6v0.6h-0.6zM45.7 207.0h0.6v0.6h-0.6zM58.5 205.1h0.6v0.6h-0.6zM52.7 207.1h0.6v0.6h-0.6zM48.7 204.0h0.6v0.6h-0.6zM63.1 202.6h0.6v0.6h-0.6zM40.6 207.4h0.6v0.6h-0.6zM52.8 206.0h0.6v0.6h-0.6zM36.8 207.1h0.6v0.6h-0.6zM42.7 206.3h0.6v0.6h-0.6zM67.1 200.9h0.6v0.6h-0.6zM51.8 210.5h0.6v0.6h-0.6zM48.1 207.6h0.6v0.6h-0.6zM62.0 208.2h0.6v0.6h-0.6zM35.8 207.5h0.6v0.6h-0.6zM55.4 207.5h0.6v0.6h-0.6zM46.6 209.7h0.6v0.6h-0.6zM47.3 209.5h0.6v0.6h-0.6zM58.0 206.5h0.6v0.6h-0.6zM37.3 214.2h0.6v0.6h-0.6zM55.6 205.9h0.6v0.6h-0.6zM38.7 209.0h0.6v0.6h-0.6zM53.9 210.9h0.6v0.6h-0.6zM55.3 207.2h0.6v0.6h-0.6zM48.1 203.0h0.6v0.6h-0.6zM45.0 207.1h0.6v0.6h-0.6zM61.9 203.8h0.6v0.6h-0.6zM69.3 212.5h0.6v0.6h-0.6zM47.1 206.6h0.6v0.6h-0.6zM54.0 210.5h0.6v0.6h-0.6zM58.6 202.2h0.6v0.6h-0.6zM48.7 211.0h0.6v0.6h-0.6zM60.3 210.7h0.6v0.6h-0.6zM51.1 210.2h0.6v0.6h-0.6zM60.4 210.5h0.6v0.6h-0.6zM46.7 208.8h0.6v0.6h-0.6zM55.4 209.3h0.6v0.6h-0.6zM61.1 204.5h0.6v0.6h-0.6zM58.4 207.0h0.6v0.6h-0.6zM36.0 203.7h0.6v0.6h-0.6zM46.1 212.0h0.6v0.6h-0.6zM48.3 201.3h0.6v0.6h-0.6zM55.6 211.6h0.6v0.6h-0.6zM63.5 209.4h0.6v0.6h-0.6zM62.3 206.7h0.6v0.6h-0.6zM60.2 213.7h0.6v0.6h-0.6zM49.5 207.6h0.6v0.6h-0.6zM63.3 206.1h0.6v0.6h-0.6zM43.7 209.2h0.6v0.6h-0.6zM57.4 212.6h0.6v0.6h-0.6zM47.6 211.1h0.6v0.6h-0.6zM44.0 204.5h0.6v0.6h-0.6zM74.7 206.2h0.6v0.6h-0.6zM38.0 210.3h0.6v0.6h-0.6zM45.2 211.9h0.6v0.6h-0.6zM28.8 204.6h0.6v0.6h-0.6zM61.7 210.1h0.6v0.6h-0.6zM43.6 214.9h0.6v0.6h-0.6zM61.7 207.7h0.6v0.6h-0.6zM62.6 211.5h0.6v0.6h-0.6zM40.4 206.0h0.6v0.6h-0.6zM53.7 204.8h0.6v0.6h-0.6zM37.4 207.0h0.6v0.6h-0.6zM58.6 209.5h0.6v0.6h-0.6zM42.5 199.3h0.6v0.6h-0.6zM58.9 207.9h0.6v0.6h-0.6zM59.2 208.5h0.6v0.6h-0.6zM46.9 209.7h0.6v0.6h-0.6zM44.8 206.7h0.6v0.6h-0.6zM43.0 200.2h0.6v0.6h-0.6zM61.2 213.0h0.6v0.6h-0.6zM46.2 207.2h0.6v0.6h-0.6zM72.8 211.0h0.6v0.6h-0.6zM47.7 204.0h0.6v0.6h-0.6zM67.4 213.9h0.6v0.6h-0.6zM43.9 211.5h0.6v0.6h-0.6zM42.8 207.6h0.6v0.6h-0.6zM61.7 207.8h0.6v0.6h-0.6zM45.2 203.1h0.6v0.6h-0.6zM57.0 208.0h0.6v0.6h-0.6zM45.2 206.7h0.6v0.6h-0.6zM55.3 207.7h0.6v0.6h-0.6zM51.9 210.4h0.6v0.6h-0.6zM47.0 205.1h0.6v0.6h-0.6zM48.8 212.9h0.6v0.6h-0.6zM51.7 215.0h0.6v0.6h-0.6zM52.5 205.3h0.6v0.6h-0.6zM53.8 208.2h0.6v0.6h-0.6zM47.2 208.1h0.6v0.6h-0.6zM60.5 212.3h0.6v0.6h-0.6zM55.0 209.8h0.6v0.6h-0.6zM57.8 211.8h0.6v0.6h-0.6zM55.6 206.3h0.6v0.6h-0.6zM63.1 213.5h0.6v0.6h-0.6zM64.3 197.4h0.6v0.6h-0.6zM57.2 209.7h0.6v0.6h-0.6zM33.9 207.1h0.6v0.6h-0.6zM53.6 213.2h0.6v0.6h-0.6zM49.5 206.5h0.6v0.6h-0.6zM35.4 208.0h0.6v0.6h-0.6zM57.6 203.6h0.6v0.6h-0.6zM66.2 197.9h0.6v0.6h-0.6zM46.6 207.2h0.6v0.6h-0.6zM52.5 210.3h0.6v0.6h-0.6zM62.2 206.6h0.6v0.6h-0.6zM37.4 204.4h0.6v0.6h-0.6zM48.7 205.5h0.6v0.6h-0.6zM48.8 208.2h0.6v0.6h-0.6zM51.8 212.5h0.6v0.6h-0.6zM55.7 203.6h0.6v0.6h-0.6zM44.8 206.7h0.6v0.6h-0.6zM46.7 212.0h0.6v0.6h-0.6zM60.1 210.1h0.6v0.6h-0.6zM65.9 205.2h0.6v0.6h-0.6zM52.1 213.5h0.6v0.6h-0.6zM51.8 206.5h0.6v0.6h-0.6zM44.6 213.0h0.6v0.6h-0.6zM70.4 209.9h0.6v0.6h-0.6zM47.6 205.7h0.6v0.6h-0.6zM50.5 206.5h0.6v0.6h-0.6zM50.4 210.5h0.6v0.6h-0.6zM45.5 206.1h0.6v0.6h-0.6zM46.2 214.4h0.6v0.6h-0.6zM51.9 211.1h0.6v0.6h-0.6zM57.4 201.4h0.6v0.6h-0.6zM56.1 204.5h0.6v0.6h-0.6zM48.3 201.6h0.6v0.6h-0.6zM59.4 209.8h0.6v0.6h-0.6zM43.0 213.9h0.6v0.6h-0.6zM44.1 214.5h0.6v0.6h-0.6zM41.0 211.0h0.6v0.6h-0.6zM40.4 203.9h0.6v0.6h-0.6zM46.3 208.0h0.6v0.6h-0.6zM41.2 210.8h0.6v0.6h-0.6zM67.2 212.1h0.6v0.6h-0.6zM50.4 205.3h0.6v0.6h-0.6zM51.9 208.9h0.6v0.6h-0.6zM62.3 211.6h0.6v0.6h-0.6zM48.7 212.6h0.6v0.6h-0.6zM49.2 204.9h0.6v0.6h-0.6zM40.7 204.9h0.6v0.6h-0.6zM54.2 207.5h0.6v0.6h-0.6zM59.0 203.5h0.6v0.6h-0.6zM52.5 210.6h0.6v0.6h-0.6zM53.4 210.5h0.6v0.6h-0.6zM44.8 209.3h0.6v0.6h-0.6zM45.6 208.2h0.6v0.6h-0.6zM59.9 206.9h0.6v0.6h-0.6zM62.7 208.6h0.6v0.6h-0.6zM51.9 211.4h0.6v0.6h-0.6zM68.4 209.7h0.6v0.6h-0.6zM45.2 214.4h0.6v0.6h-0.6zM57.0 205.8h0.6v0.6h-0.6zM37.6 208.6h0.6v0.6h-0.6zM46.7 206.2h0.6v0.6h-0.6zM54.4 212.0h0.6v0.6h-0.6zM64.7 209.7h0.6v0.6h-0.6zM42.2 203.9h0.6v0.6h-0.6zM38.4 211.3h0.6v0.6h-0.6zM35.6 206.3h0.6v0.6h-0.6zM39.2 207.2h0.6v0.6h-0.6zM47.1 207.5h0.6v0.6h-0.6zM66.7 212.3h0.6v0.6h-0.6zM48.2 204.8h0.6v0.6h-0.6zM56.9 207.8h0.6v0.6h-0.6zM50.8 204.5h0.6v0.6h-0.6zM55.7 210.2h0.6v0.6h-0.6zM57.8 209.4h0.6v0.6h-0.6zM53.7 204.7h0.6v0.6h-0.6zM62.0 210.3h0.6v0.6h-0.6zM67.6 207.9h0.6v0.6h-0.6zM48.7 213.1h0.6v0.6h-0.6z" fill="#555"/>
<path d="M38.6 205.2h0.6v0.6h-0.6zM46.6 204.8h0.6v0.6h-0.6zM38.9 201.8h0.6v0.6h-0.6zM47.7 206.0h0.6v0.6h-0.6zM41.0 203.6h0.6v0.6h-0.6zM32.0 206.8h0.6v0.6h-0.6zM39.7 206.4h0.6v0.6h-0.6zM51.7 205.5h0.6v0.6h-0.6zM43.6 209.4h0.6v0.6h-0.6zM43.4 207.0h0.6v0.6h-0.6zM38.6 203.9h0.6v0.6h-0.6zM36.3 209.6h0.6v0.6h-0.6zM50.7 205.3h0.6v0.6h-0.6zM44.0 205.6h0.6v0.6h-0.6zM58.1 209.9h0.6v0.6h-0.6zM44.3 209.0h0.6v0.6h-0.6zM51.6 204.0h0.6v0.6h-0.6zM48.2 208.8h0.6v0.6h-0.6zM45.2 209.4h0.6v0.6h-0.6zM51.1 207.1h0.6v0.6h-0.6zM43.3 209.8h0.6v0.6h-0.6zM46.0 208.3h0.6v0.6h-0.6zM54.9 208.3h0.6v0.6h-0.6zM44.9 203.2h0.6v0.6h-0.6zM47.0 208.2h0.6v0.6h-0.6zM48.2 208.8h0.6v0.6h-0.6zM48.8 207.9h0.6v0.6h-0.6zM46.0 208.9h0.6v0.6h-0.6zM41.9 204.3h0.6v0.6h-0.6zM40.4 207.5h0.6v0.6h-0.6zM36.5 205.7h0.6v0.6h-0.6zM44.3 208.1h0.6v0.6h-0.6zM40.2 207.3h0.6v0.6h-0.6zM45.5 205.6h0.6v0.6h-0.6zM45.6 206.6h0.6v0.6h-0.6zM39.8 206.1h0.6v0.6h-0.6zM40.8 212.8h0.6v0.6h-0.6zM44.1 205.3h0.6v0.6h-0.6zM38.1 207.1h0.6v0.6h-0.6zM47.1 207.3h0.6v0.6h-0.6zM38.5 204.1h0.6v0.6h-0.6zM39.9 207.7h0.6v0.6h-0.6zM41.1 206.9h0.6v0.6h-0.6zM54.1 201.6h0.6v0.6h-0.6zM44.0 207.1h0.6v0.6h-0.6zM37.8 210.3h0.6v0.6h-0.6zM43.9 208.3h0.6v0.6h-0.6zM48.1 211.3h0.6v0.6h-0.6zM42.0 205.3h0.6v0.6h-0.6zM39.0 203.4h0.6v0.6h-0.6zM54.2 205.8h0.6v0.6h-0.6zM36.7 209.2h0.6v0.6h-0.6zM54.0 204.3h0.6v0.6h-0.6zM45.0 203.0h0.6v0.6h-0.6zM35.3 206.6h0.6v0.6h-0.6zM39.4 203.6h0.6v0.6h-0.6zM45.3 208.3h0.6v0.6h-0.6zM44.2 210.9h0.6v0.6h-0.6zM42.0 206.1h0.6v0.6h-0.6zM49.6 213.8h0.6v0.6h-0.6zM55.3 210.0h0.6v0.6h-0.6zM45.9 203.1h0.6v0.6h-0.6zM52.5 206.9h0.6v0.6h-0.6zM56.8 207.3h0.6v0.6h-0.6zM35.5 210.5h0.6v0.6h-0.6zM46.1 205.5h0.6v0.6h-0.6zM46.0 207.2h0.6v0.6h-0.6zM46.7 201.8h0.6v0.6h-0.6zM45.3 208.5h0.6v0.6h-0.6zM39.0 211.0h0.6v0.6h-0.6zM44.4 201.0h0.6v0.6h-0.6zM53.2 206.0h0.6v0.6h-0.6zM45.5 206.5h0.6v0.6h-0.6zM55.0 207.2h0.6v0.6h-0.6zM41.7 205.2h0.6v0.6h-0.6zM48.1 208.9h0.6v0.6h-0.6zM41.9 210.0h0.6v0.6h-0.6zM41.8 207.6h0.6v0.6h-0.6zM47.9 208.0h0.6v0.6h-0.6zM46.6 208.0h0.6v0.6h-0.6zM42.7 207.8h0.6v0.6h-0.6zM46.9 203.4h0.6v0.6h-0.6zM38.1 208.1h0.6v0.6h-0.6zM45.1 207.7h0.6v0.6h-0.6zM49.0 208.3h0.6v0.6h-0.6zM42.5 208.8h0.6v0.6h-0.6zM41.7 212.3h0.6v0.6h-0.6zM50.5 207.2h0.6v0.6h-0.6zM42.0 208.6h0.6v0.6h-0.6zM44.4 204.9h0.6v0.6h-0.6zM47.8 207.5h0.6v0.6h-0.6zM49.6 206.6h0.6v0.6h-0.6zM54.9 212.4h0.6v0.6h-0.6zM37.3 201.1h0.6v0.6h-0.6zM40.5 211.8h0.6v0.6h-0.6zM48.6 207.6h0.6v0.6h-0.6zM46.7 203.5h0.6v0.6h-0.6zM46.2 204.1h0.6v0.6h-0.6zM46.4 206.2h0.6v0.6h-0.6zM42.7 205.6h0.6v0.6h-0.6zM48.2 212.9h0.6v0.6h-0.6zM36.7 209.3h0.6v0.6h-0.6zM43.3 211.7h0.6v0.6h-0.6zM50.9 204.7h0.6v0.6h-0.6zM45.7 211.4h0.6v0.6h-0.6zM53.6 205.4h0.6v0.6h-0.6zM40.3 208.0h0.6v0.6h-0.6zM52.0 210.0h0.6v0.6h-0.6zM46.9 208.8h0.6v0.6h-0.6zM47.9 207.4h0.6v0.6h-0.6zM40.8 209.3h0.6v0.6h-0.6zM47.4 209.8h0.6v0.6h-0.6zM45.1 205.6h0.6v0.6h-0.6zM49.0 209.7h0.6v0.6h-0.6zM54.2 203.2h0.6v0.6h-0.6zM43.0 206.4h0.6v0.6h-0.6zM56.0 200.3h0.6v0.6h-0.6zM50.0 204.8h0.6v0.6h-0.6zM40.1 209.7h0.6v0.6h-0.6zM49.0 197.7h0.6v0.6h-0.6z" fill="#333"/>
<path d="M34.5 201.8h0.6v0.6h-0.6zM29.2 206.1h0.6v0.6h-0.6zM35.9 202.8h0.6v0.6h-0.6zM34.7 198.5h0.6v0.6h-0.6zM39.8 199.2h0.6v0.6h-0.6zM31.9 201.1h0.6v0.6h-0.6zM32.1 199.7h0.6v0.6h-0.6zM38.5 201.2h0.6v0.6h-0.6zM36.2 197.0h0.6v0.6h-0.6zM34.6 200.5h0.6v0.6h-0.6zM33.8 201.6h0.6v0.6h-0.6zM33.9 200.8h0.6v0.6h-0.6zM32.4 201.4h0.6v0.6h-0.6zM33.1 201.2h0.6v0.6h-0.6zM30.6 202.2h0.6v0.6h-0.6zM28.6 206.3h0.6v0.6h-0.6zM35.6 205.0h0.6v0.6h-0.6zM31.6 197.8h0.6v0.6h-0.6zM29.5 200.1h0.6v0.6h-0.6zM30.6 202.6h0.6v0.6h-0.6zM30.6 201.4h0.6v0.6h-0.6zM33.2 201.5h0.6v0.6h-0.6zM31.3 200.3h0.6v0.6h-0.6zM30.7 203.3h0.6v0.6h-0.6zM32.4 201.6h0.6v0.6h-0.6zM41.8 201.3h0.6v0.6h-0.6zM28.3 195.3h0.6v0.6h-0.6zM35.6 198.4h0.6v0.6h-0.6zM32.6 203.4h0.6v0.6h-0.6zM31.6 199.4h0.6v0.6h-0.6zM34.8 198.6h0.6v0.6h-0.6zM30.7 199.9h0.6v0.6h-0.6zM32.0 201.1h0.6v0.6h-0.6zM41.7 202.1h0.6v0.6h-0.6zM32.7 198.9h0.6v0.6h-0.6zM40.9 199.8h0.6v0.6h-0.6zM30.4 201.3h0.6v0.6h-0.6zM31.0 202.4h0.6v0.6h-0.6zM30.9 201.8h0.6v0.6h-0.6zM29.4 194.2h0.6v0.6h-0.6zM33.7 205.2h0.6v0.6h-0.6zM28.0 199.5h0.6v0.6h-0.6zM35.3 199.7h0.6v0.6h-0.6zM32.5 200.4h0.6v0.6h-0.6zM34.5 200.7h0.6v0.6h-0.6zM40.3 201.1h0.6v0.6h-0.6zM30.9 197.3h0.6v0.6h-0.6zM32.4 198.6h0.6v0.6h-0.6zM34.6 202.4h0.6v0.6h-0.6zM42.8 199.0h0.6v0.6h-0.6zM32.5 203.7h0.6v0.6h-0.6zM39.5 201.2h0.6v0.6h-0.6zM31.9 204.2h0.6v0.6h-0.6zM33.2 201.8h0.6v0.6h-0.6zM35.5 199.0h0.6v0.6h-0.6zM39.9 200.1h0.6v0.6h-0.6zM32.0 200.0h0.6v0.6h-0.6zM30.5 201.0h0.6v0.6h-0.6zM36.7 207.8h0.6v0.6h-0.6zM35.0 200.7h0.6v0.6h-0.6zM29.4 204.6h0.6v0.6h-0.6zM29.4 200.9h0.6v0.6h-0.6zM37.5 200.7h0.6v0.6h-0.6zM31.4 201.4h0.6v0.6h-0.6zM32.7 202.0h0.6v0.6h-0.6zM30.5 195.4h0.6v0.6h-0.6zM28.8 203.0h0.6v0.6h-0.6zM28.8 198.7h0.6v0.6h-0.6zM34.2 202.4h0.6v0.6h-0.6zM32.7 202.6h0.6v0.6h-0.6zM35.4 202.3h0.6v0.6h-0.6zM33.5 205.8h0.6v0.6h-0.6zM33.2 199.2h0.6v0.6h-0.6zM35.0 203.7h0.6v0.6h-0.6zM35.5 203.2h0.6v0.6h-0.6zM32.3 198.3h0.6v0.6h-0.6zM31.7 206.6h0.6v0.6h-0.6zM28.3 208.8h0.6v0.6h-0.6zM31.9 200.8h0.6v0.6h-0.6zM29.8 201.5h0.6v0.6h-0.6zM32.9 198.5h0.6v0.6h-0.6zM40.5 204.2h0.6v0.6h-0.6zM33.7 197.7h0.6v0.6h-0.6zM30.6 200.6h0.6v0.6h-0.6zM35.4 200.8h0.6v0.6h-0.6zM31.2 201.1h0.6v0.6h-0.6zM35.6 199.2h0.6v0.6h-0.6zM36.1 197.9h0.6v0.6h-0.6zM35.1 199.7h0.6v0.6h-0.6zM34.9 202.4h0.6v0.6h-0.6zM31.4 197.5h0.6v0.6h-0.6zM31.4 200.8h0.6v0.6h-0.6zM28.9 200.4h0.6v0.6h-0.6zM36.9 202.5h0.6v0.6h-0.6zM33.8 199.3h0.6v0.6h-0.6zM29.3 197.9h0.6v0.6h-0.6zM28.6 196.4h0.6v0.6h-0.6zM31.5 200.0h0.6v0.6h-0.6zM29.3 199.4h0.6v0.6h-0.6zM34.6 204.1h0.6v0.6h-0.6zM33.5 200.6h0.6v0.6h-0.6z" fill="#666"/>
<path d="M32.7 205.2h0.6v0.6h-0.6zM39.0 199.8h0.6v0.6h-0.6zM37.8 203.8h0.6v0.6h-0.6zM38.5 204.8h0.6v0.6h-0.6zM35.6 207.5h0.6v0.6h-0.6zM34.6 205.9h0.6v0.6h-0.6zM35.5 210.8h0.6v0.6h-0.6zM36.7 200.2h0.6v0.6h-0.6zM36.8 206.6h0.6v0.6h-0.6zM35.9 210.4h0.6v0.6h-0.6zM38.4 200.7h0.6v0.6h-0.6zM39.0 204.1h0.6v0.6h-0.6zM34.6 203.8h0.6v0.6h-0.6zM35.3 208.2h0.6v0.6h-0.6zM32.7 204.9h0.6v0.6h-0.6zM33.8 204.5h0.6v0.6h-0.6zM34.3 207.2h0.6v0.6h-0.6zM37.3 201.8h0.6v0.6h-0.6zM36.0 199.6h0.6v0.6h-0.6zM35.8 207.7h0.6v0.6h-0.6zM34.9 213.5h0.6v0.6h-0.6zM36.7 202.6h0.6v0.6h-0.6zM36.4 202.8h0.6v0.6h-0.6zM36.7 204.9h0.6v0.6h-0.6zM35.6 196.2h0.6v0.6h-0.6zM33.6 207.9h0.6v0.6h-0.6zM37.4 208.1h0.6v0.6h-0.6zM36.2 208.9h0.6v0.6h-0.6zM37.9 207.2h0.6v0.6h-0.6zM38.4 208.6h0.6v0.6h-0.6zM34.5 207.4h0.6v0.6h-0.6zM38.0 204.9h0.6v0.6h-0.6zM30.8 204.5h0.6v0.6h-0.6zM36.3 196.9h0.6v0.6h-0.6zM32.1 201.5h0.6v0.6h-0.6zM39.7 208.3h0.6v0.6h-0.6zM34.9 208.6h0.6v0.6h-0.6zM36.5 200.3h0.6v0.6h-0.6zM34.7 208.8h0.6v0.6h-0.6zM35.0 214.0h0.6v0.6h-0.6zM34.5 204.2h0.6v0.6h-0.6zM35.2 205.8h0.6v0.6h-0.6zM35.6 210.1h0.6v0.6h-0.6zM40.9 204.8h0.6v0.6h-0.6zM31.9 204.3h0.6v0.6h-0.6zM36.0 211.4h0.6v0.6h-0.6zM37.4 206.0h0.6v0.6h-0.6zM42.6 201.8h0.6v0.6h-0.6zM32.9 210.7h0.6v0.6h-0.6zM37.4 205.9h0.6v0.6h-0.6zM32.7 207.0h0.6v0.6h-0.6zM36.5 203.4h0.6v0.6h-0.6zM36.0 200.5h0.6v0.6h-0.6zM38.6 201.6h0.6v0.6h-0.6zM38.2 202.3h0.6v0.6h-0.6zM33.3 205.0h0.6v0.6h-0.6zM33.7 208.2h0.6v0.6h-0.6zM33.5 206.1h0.6v0.6h-0.6zM37.5 208.8h0.6v0.6h-0.6zM38.0 205.0h0.6v0.6h-0.6zM40.7 205.3h0.6v0.6h-0.6zM34.3 206.7h0.6v0.6h-0.6zM40.5 200.0h0.6v0.6h-0.6zM34.6 210.8h0.6v0.6h-0.6zM36.1 201.1h0.6v0.6h-0.6zM37.3 207.8h0.6v0.6h-0.6zM35.4 201.1h0.6v0.6h-0.6zM35.0 203.5h0.6v0.6h-0.6zM39.2 201.8h0.6v0.6h-0.6zM31.1 206.6h0.6v0.6h-0.6zM35.0 210.1h0.6v0.6h-0.6zM29.5 204.8h0.6v0.6h-0.6zM38.1 204.8h0.6v0.6h-0.6zM36.4 203.1h0.6v0.6h-0.6zM39.9 201.1h0.6v0.6h-0.6zM35.7 205.1h0.6v0.6h-0.6zM35.5 208.0h0.6v0.6h-0.6zM35.3 206.0h0.6v0.6h-0.6zM37.1 206.6h0.6v0.6h-0.6zM38.2 202.4h0.6v0.6h-0.6zM40.0 199.8h0.6v0.6h-0.6zM31.6 203.2h0.6v0.6h-0.6zM32.9 207.9h0.6v0.6h-0.6zM37.4 209.3h0.6v0.6h-0.6zM38.3 208.2h0.6v0.6h-0.6zM43.6 203.5h0.6v0.6h-0.6zM36.0 204.9h0.6v0.6h-0.6zM39.1 205.7h0.6v0.6h-0.6zM34.8 202.8h0.6v0.6h-0.6zM36.3 203.0h0.6v0.6h-0.6zM38.1 208.5h0.6v0.6h-0.6zM36.7 208.3h0.6v0.6h-0.6zM37.3 211.2h0.6v0.6h-0.6zM35.3 203.8h0.6v0.6h-0.6zM35.8 205.2h0.6v0.6h-0.6zM37.7 205.1h0.6v0.6h-0.6zM33.6 205.8h0.6v0.6h-0.6zM37.6 203.0h0.6v0.6h-0.6zM38.5 212.0h0.6v0.6h-0.6zM34.3 204.6h0.6v0.6h-0.6zM34.8 198.8h0.6v0.6h-0.6zM35.8 199.8h0.6v0.6h-0.6zM34.9 208.0h0.6v0.6h-0.6zM41.0 208.5h0.6v0.6h-0.6zM36.3 209.3h0.6v0.6h-0.6zM36.4 204.4h0.6v0.6h-0.6zM38.9 204.1h0.6v0.6h-0.6zM38.2 211.6h0.6v0.6h-0.6zM35.6 204.9h0.6v0.6h-0.6zM32.1 206.4h0.6v0.6h-0.6zM35.7 209.1h0.6v0.6h-0.6zM36.9 204.5h0.6v0.6h-0.6zM36.0 207.8h0.6v0.6h-0.6zM33.3 206.3h0.6v0.6h-0.6zM35.8 207.5h0.6v0.6h-0.6zM39.0 210.1h0.6v0.6h-0.6zM32.1 202.9h0.6v0.6h-0.6zM40.7 211.6h0.6v0.6h-0.6zM34.8 201.7h0.6v0.6h-0.6zM36.5 204.8h0.6v0.6h-0.6zM34.4 204.1h0.6v0.6h-0.6zM40.1 207.1h0.6v0.6h-0.6zM40.0 207.1h0.6v0.6h-0.6zM35.2 212.7h0.6v0.6h-0.6zM38.7 207.5h0.6v0.6h-0.6zM39.1 205.5h0.6v0.6h-0.6zM33.8 203.1h0.6v0.6h-0.6zM33.9 204.1h0.6v0.6h-0.6zM35.8 208.9h0.6v0.6h-0.6zM37.2 203.4h0.6v0.6h-0.6zM34.1 198.2h0.6v0.6h-0.6zM40.4 203.1h0.6v0.6h-0.6zM38.9 203.0h0.6v0.6h-0.6zM34.9 205.6h0.6v0.6h-0.6zM37.9 207.3h0.6v0.6h-0.6zM33.1 206.4h0.6v0.6h-0.6zM39.3 206.4h0.6v0.6h-0.6zM34.5 208.8h0.6v0.6h-0.6zM39.7 209.2h0.6v0.6h-0.6zM37.3 200.5h0.6v0.6h-0.6zM36.4 206.5h0.6v0.6h-0.6zM39.3 204.7h0.6v0.6h-0.6zM38.4 204.8h0.6v0.6h-0.6zM36.4 204.3h0.6v0.6h-0.6zM39.3 208.6h0.6v0.6h-0.6zM34.9 203.1h0.6v0.6h-0.6zM32.6 204.9h0.6v0.6h-0.6zM36.0 206.3h0.6v0.6h-0.6zM34.1 206.6h0.6v0.6h-0.6zM37.6 205.5h0.6v0.6h-0.6zM34.3 205.5h0.6v0.6h-0.6zM34.5 207.1h0.6v0.6h-0.6zM36.7 211.7h0.6v0.6h-0.6zM35.9 200.8h0.6v0.6h-0.6zM42.3 205.8h0.6v0.6h-0.6zM30.9 204.9h0.6v0.6h-0.6zM34.1 200.5h0.6v0.6h-0.6zM36.1 214.2h0.6v0.6h-0.6zM35.6 204.3h0.6v0.6h-0.6zM38.4 206.0h0.6v0.6h-0.6zM34.7 203.4h0.6v0.6h-0.6zM33.0 210.1h0.6v0.6h-0.6zM36.0 207.0h0.6v0.6h-0.6zM33.9 207.5h0.6v0.6h-0.6zM35.3 204.7h0.6v0.6h-0.6zM40.3 197.9h0.6v0.6h-0.6zM36.0 201.8h0.6v0.6h-0.6zM36.2 207.1h0.6v0.6h-0.6zM33.3 198.5h0.6v0.6h-0.6zM34.3 212.1h0.6v0.6h-0.6zM40.5 204.5h0.6v0.6h-0.6zM32.1 205.3h0.6v0.6h-0.6zM34.7 209.6h0.6v0.6h-0.6zM37.0 212.1h0.6v0.6h-0.6zM35.9 212.7h0.6v0.6h-0.6zM35.8 203.5h0.6v0.6h-0.6zM39.1 208.9h0.6v0.6h-0.6zM34.0 210.0h0.6v0.6h-0.6zM37.4 203.9h0.6v0.6h-0.6zM38.0 209.7h0.6v0.6h-0.6zM35.0 201.8h0.6v0.6h-0.6zM38.7 206.5h0.6v0.6h-0.6zM32.1 200.4h0.6v0.6h-0.6zM35.6 209.1h0.6v0.6h-0.6zM33.3 210.2h0.6v0.6h-0.6zM34.9 211.9h0.6v0.6h-0.6zM32.7 204.5h0.6v0.6h-0.6zM40.1 210.2h0.6v0.6h-0.6zM33.3 206.7h0.6v0.6h-0.6zM31.6 211.1h0.6v0.6h-0.6zM40.0 203.5h0.6v0.6h-0.6zM38.3 205.5h0.6v0.6h-0.6zM40.1 205.4h0.6v0.6h-0.6zM36.7 198.8h0.6v0.6h-0.6zM36.3 206.8h0.6v0.6h-0.6zM39.8 212.4h0.6v0.6h-0.6zM35.9 206.0h0.6v0.6h-0.6zM33.5 200.7h0.6v0.6h-0.6zM36.3 210.1h0.6v0.6h-0.6zM36.0 210.2h0.6v0.6h-0.6zM35.4 209.0h0.6v0.6h-0.6zM33.2 201.9h0.6v0.6h-0.6zM37.9 206.0h0.6v0.6h-0.6zM38.3 205.6h0.6v0.6h-0.6zM33.6 207.6h0.6v0.6h-0.6zM34.9 209.8h0.6v0.6h-0.6zM38.4 199.1h0.6v0.6h-0.6zM38.5 205.3h0.6v0.6h-0.6zM35.4 208.0h0.6v0.6h-0.6zM34.1 204.3h0.6v0.6h-0.6zM37.9 207.3h0.6v0.6h-0.6zM37.1 200.8h0.6v0.6h-0.6zM34.4 204.0h0.6v0.6h-0.6zM37.5 202.7h0.6v0.6h-0.6zM35.2 208.5h0.6v0.6h-0.6zM34.0 208.3h0.6v0.6h-0.6zM34.7 209.3h0.6v0.6h-0.6zM33.7 207.0h0.6v0.6h-0.6zM36.6 208.6h0.6v0.6h-0.6zM29.0 210.3h0.6v0.6h-0.6z" fill="#111"/>
<path d="M27 203.5 C30 202 35.5 202 37.5 204 C38.5 207 38.5 212 38.2 215.5 L27 215.5 Z" fill="#2a2a2a" filter="url(#b1)"/>
<path d="M27 204.2 C30 203 35 203 36.8 204.8 C37.6 207.5 37.6 212 37.3 215.5 L27 215.5 Z" fill="#141414"/>
<path d="M29.3 207.2 C30.2 205.7 33.9 205.6 34.9 207.2 C35.5 209.5 35.4 212 35 214.2 L29.3 214.2 Z" fill="#f2f2f2"/>
</g>
<clipPath id="c_sp2"><rect x="114.3" y="151.1" width="63.6" height="64.4"/></clipPath><g clip-path="url(#c_sp2)">
<path d="M122.8 183.0h0.6v0.6h-0.6zM132.7 191.5h0.6v0.6h-0.6zM117.9 175.7h0.6v0.6h-0.6zM120.4 178.1h0.6v0.6h-0.6zM125.1 172.2h0.6v0.6h-0.6zM127.7 171.3h0.6v0.6h-0.6zM129.4 174.5h0.6v0.6h-0.6zM127.9 182.8h0.6v0.6h-0.6zM125.4 176.4h0.6v0.6h-0.6zM121.3 173.1h0.6v0.6h-0.6zM135.8 183.8h0.6v0.6h-0.6zM137.8 182.5h0.6v0.6h-0.6zM128.3 176.5h0.6v0.6h-0.6zM124.6 170.4h0.6v0.6h-0.6zM132.3 186.3h0.6v0.6h-0.6zM135.5 189.3h0.6v0.6h-0.6zM119.7 164.4h0.6v0.6h-0.6zM131.0 181.7h0.6v0.6h-0.6zM120.0 174.4h0.6v0.6h-0.6zM131.2 191.4h0.6v0.6h-0.6zM128.9 175.8h0.6v0.6h-0.6zM131.4 187.1h0.6v0.6h-0.6zM118.6 184.9h0.6v0.6h-0.6zM120.0 180.3h0.6v0.6h-0.6zM129.2 180.4h0.6v0.6h-0.6zM116.6 182.5h0.6v0.6h-0.6zM117.2 184.5h0.6v0.6h-0.6zM123.0 175.6h0.6v0.6h-0.6zM127.4 181.7h0.6v0.6h-0.6zM137.6 182.9h0.6v0.6h-0.6zM133.1 172.9h0.6v0.6h-0.6zM132.8 185.6h0.6v0.6h-0.6zM134.7 189.0h0.6v0.6h-0.6zM120.4 171.7h0.6v0.6h-0.6zM121.2 176.0h0.6v0.6h-0.6zM134.9 167.5h0.6v0.6h-0.6zM126.3 186.4h0.6v0.6h-0.6zM125.1 171.0h0.6v0.6h-0.6zM120.4 183.5h0.6v0.6h-0.6zM130.7 179.0h0.6v0.6h-0.6zM128.2 188.9h0.6v0.6h-0.6zM123.8 192.6h0.6v0.6h-0.6zM119.7 192.1h0.6v0.6h-0.6zM116.9 188.6h0.6v0.6h-0.6zM126.1 170.3h0.6v0.6h-0.6zM126.8 183.5h0.6v0.6h-0.6zM129.7 180.7h0.6v0.6h-0.6zM124.9 178.1h0.6v0.6h-0.6zM126.6 187.7h0.6v0.6h-0.6zM129.0 184.4h0.6v0.6h-0.6zM127.2 188.9h0.6v0.6h-0.6zM141.3 194.1h0.6v0.6h-0.6zM118.3 174.5h0.6v0.6h-0.6zM119.3 177.7h0.6v0.6h-0.6zM138.5 177.7h0.6v0.6h-0.6zM126.6 178.7h0.6v0.6h-0.6zM121.4 174.5h0.6v0.6h-0.6zM123.8 177.0h0.6v0.6h-0.6z" fill="#aaa"/>
<path d="M121.1 206.1h0.6v0.6h-0.6zM121.3 210.5h0.6v0.6h-0.6zM121.2 199.5h0.6v0.6h-0.6zM124.0 205.7h0.6v0.6h-0.6zM120.7 207.6h0.6v0.6h-0.6zM123.4 212.8h0.6v0.6h-0.6zM125.9 207.6h0.6v0.6h-0.6zM117.6 201.9h0.6v0.6h-0.6zM123.5 213.6h0.6v0.6h-0.6zM122.2 206.5h0.6v0.6h-0.6zM125.2 199.7h0.6v0.6h-0.6zM120.1 209.5h0.6v0.6h-0.6zM127.2 205.8h0.6v0.6h-0.6zM124.3 208.2h0.6v0.6h-0.6zM126.7 201.4h0.6v0.6h-0.6zM125.4 199.4h0.6v0.6h-0.6zM116.5 211.4h0.6v0.6h-0.6zM126.0 200.9h0.6v0.6h-0.6zM127.1 202.0h0.6v0.6h-0.6zM121.5 205.5h0.6v0.6h-0.6zM122.7 211.1h0.6v0.6h-0.6zM125.8 208.7h0.6v0.6h-0.6zM125.9 209.4h0.6v0.6h-0.6zM118.2 203.4h0.6v0.6h-0.6zM119.2 209.5h0.6v0.6h-0.6zM117.1 201.5h0.6v0.6h-0.6zM126.6 214.1h0.6v0.6h-0.6zM125.0 211.2h0.6v0.6h-0.6zM130.6 206.5h0.6v0.6h-0.6zM127.7 199.8h0.6v0.6h-0.6zM122.2 208.3h0.6v0.6h-0.6zM120.1 210.6h0.6v0.6h-0.6zM125.7 204.0h0.6v0.6h-0.6zM118.6 202.8h0.6v0.6h-0.6zM127.7 204.2h0.6v0.6h-0.6zM121.6 210.7h0.6v0.6h-0.6zM117.7 205.5h0.6v0.6h-0.6zM118.6 209.1h0.6v0.6h-0.6zM129.2 206.9h0.6v0.6h-0.6zM123.6 207.8h0.6v0.6h-0.6zM128.5 211.5h0.6v0.6h-0.6zM123.6 201.9h0.6v0.6h-0.6zM127.4 208.9h0.6v0.6h-0.6zM129.4 206.9h0.6v0.6h-0.6zM133.7 205.2h0.6v0.6h-0.6zM131.6 207.6h0.6v0.6h-0.6zM118.9 201.4h0.6v0.6h-0.6zM121.1 214.1h0.6v0.6h-0.6zM126.9 210.4h0.6v0.6h-0.6zM125.3 204.3h0.6v0.6h-0.6zM118.2 207.0h0.6v0.6h-0.6zM132.3 201.7h0.6v0.6h-0.6zM119.4 213.8h0.6v0.6h-0.6zM119.3 205.2h0.6v0.6h-0.6zM122.6 200.8h0.6v0.6h-0.6zM123.3 201.0h0.6v0.6h-0.6zM127.3 207.0h0.6v0.6h-0.6zM135.7 208.4h0.6v0.6h-0.6zM130.2 200.5h0.6v0.6h-0.6zM121.3 208.6h0.6v0.6h-0.6zM132.5 198.6h0.6v0.6h-0.6zM127.9 210.0h0.6v0.6h-0.6zM131.2 210.6h0.6v0.6h-0.6zM122.3 204.4h0.6v0.6h-0.6zM114.5 208.0h0.6v0.6h-0.6zM118.3 208.6h0.6v0.6h-0.6zM123.6 211.1h0.6v0.6h-0.6zM130.7 206.8h0.6v0.6h-0.6zM115.3 209.3h0.6v0.6h-0.6zM125.1 209.5h0.6v0.6h-0.6zM117.8 212.7h0.6v0.6h-0.6zM122.5 210.5h0.6v0.6h-0.6zM129.6 210.0h0.6v0.6h-0.6zM123.5 205.5h0.6v0.6h-0.6zM122.7 214.4h0.6v0.6h-0.6zM122.7 209.6h0.6v0.6h-0.6zM129.2 204.4h0.6v0.6h-0.6zM123.4 204.0h0.6v0.6h-0.6zM127.2 210.0h0.6v0.6h-0.6zM116.0 209.6h0.6v0.6h-0.6z" fill="#888"/>
<path d="M114.2 191.8 C115.5 193 116.4 194.6 117 197 C117.5 199 118.5 200.3 120 200.2 C123 199.6 126 199.3 128 200 C130 201.5 131 205 132 208 C133 211 134.5 213 135.3 215.3" fill="none" stroke="#777" stroke-width="0.6"/>
<path d="M115.5 207 C117 206 120 205 122.8 204.6 C124.5 204.8 125.6 206 126 209.6 L126 215.3" fill="none" stroke="#666" stroke-width="0.6"/>
<path d="M116.5 210.5 C118 209.2 120 208.8 122 209.2 C123.2 210.5 123.3 213 123.3 215.3" fill="none" stroke="#666" stroke-width="0.5"/>
<path d="M117.5 213.5 C118.5 212.3 120 212 121 212.5 L121 215.3" fill="none" stroke="#555" stroke-width="0.5"/>
<path d="M117 207.5 C119 206 121.5 206 123 207.5 C124.2 210 124.2 213 123.8 215.5 L116 215.5 Z" fill="#bdbdbd" filter="url(#b1)"/>
<ellipse cx="117.5" cy="213.5" rx="1.5" ry="1.6" fill="#333" filter="url(#b1)"/>
<path d="M114.2 192 L115.2 192.5 L115.9 210 L116.6 214.4 L127 214.7 L127 215.6 L114.2 215.6 Z" fill="#111"/>
</g>
<clipPath id="c_th1"><rect x="28" y="248.7" width="62.6" height="64.2"/></clipPath><g clip-path="url(#c_th1)">
<path d="M36.3 305.0h0.6v0.6h-0.6zM41.9 309.4h0.6v0.6h-0.6zM36.9 305.9h0.6v0.6h-0.6zM41.4 287.1h0.6v0.6h-0.6zM45.5 288.4h0.6v0.6h-0.6zM31.1 286.6h0.6v0.6h-0.6zM42.1 291.8h0.6v0.6h-0.6zM47.7 289.8h0.6v0.6h-0.6zM40.6 293.5h0.6v0.6h-0.6zM39.6 305.7h0.6v0.6h-0.6zM28.9 306.3h0.6v0.6h-0.6zM45.1 283.7h0.6v0.6h-0.6zM39.5 309.4h0.6v0.6h-0.6zM47.1 290.2h0.6v0.6h-0.6zM41.1 273.9h0.6v0.6h-0.6zM32.9 288.3h0.6v0.6h-0.6zM42.7 290.9h0.6v0.6h-0.6zM42.4 293.2h0.6v0.6h-0.6zM32.5 295.8h0.6v0.6h-0.6zM38.8 290.7h0.6v0.6h-0.6zM42.2 284.1h0.6v0.6h-0.6zM38.5 301.3h0.6v0.6h-0.6zM33.1 293.7h0.6v0.6h-0.6zM36.7 276.1h0.6v0.6h-0.6zM47.2 289.7h0.6v0.6h-0.6zM40.6 255.6h0.6v0.6h-0.6zM43.8 285.4h0.6v0.6h-0.6zM28.9 288.7h0.6v0.6h-0.6zM41.3 268.9h0.6v0.6h-0.6zM41.6 273.6h0.6v0.6h-0.6zM42.2 294.0h0.6v0.6h-0.6zM42.8 299.6h0.6v0.6h-0.6zM29.3 285.2h0.6v0.6h-0.6zM38.7 285.9h0.6v0.6h-0.6zM34.9 277.5h0.6v0.6h-0.6zM42.3 296.1h0.6v0.6h-0.6zM28.1 288.7h0.6v0.6h-0.6zM43.5 290.4h0.6v0.6h-0.6zM39.8 286.0h0.6v0.6h-0.6zM32.6 292.7h0.6v0.6h-0.6zM32.0 283.1h0.6v0.6h-0.6zM36.6 286.8h0.6v0.6h-0.6zM44.8 293.1h0.6v0.6h-0.6zM31.8 276.1h0.6v0.6h-0.6zM29.4 287.4h0.6v0.6h-0.6zM40.7 289.7h0.6v0.6h-0.6zM33.4 276.3h0.6v0.6h-0.6zM35.1 279.6h0.6v0.6h-0.6zM46.3 294.0h0.6v0.6h-0.6zM34.1 310.9h0.6v0.6h-0.6zM46.4 290.5h0.6v0.6h-0.6zM32.0 298.3h0.6v0.6h-0.6zM28.1 285.1h0.6v0.6h-0.6zM33.0 279.2h0.6v0.6h-0.6zM32.3 305.4h0.6v0.6h-0.6zM39.2 292.2h0.6v0.6h-0.6zM38.8 286.3h0.6v0.6h-0.6zM34.3 293.9h0.6v0.6h-0.6zM36.5 282.2h0.6v0.6h-0.6zM40.6 294.7h0.6v0.6h-0.6zM45.1 284.2h0.6v0.6h-0.6zM50.9 292.5h0.6v0.6h-0.6zM42.2 297.6h0.6v0.6h-0.6zM43.1 307.9h0.6v0.6h-0.6zM34.5 309.8h0.6v0.6h-0.6zM43.2 285.5h0.6v0.6h-0.6zM44.9 292.2h0.6v0.6h-0.6zM36.6 286.9h0.6v0.6h-0.6zM28.2 285.5h0.6v0.6h-0.6zM43.4 285.2h0.6v0.6h-0.6zM28.3 279.6h0.6v0.6h-0.6zM42.4 310.4h0.6v0.6h-0.6zM28.6 284.4h0.6v0.6h-0.6zM40.1 303.1h0.6v0.6h-0.6zM32.6 296.0h0.6v0.6h-0.6zM46.8 284.3h0.6v0.6h-0.6zM33.7 293.1h0.6v0.6h-0.6zM39.0 291.4h0.6v0.6h-0.6zM28.3 291.4h0.6v0.6h-0.6zM41.4 279.3h0.6v0.6h-0.6zM30.3 284.0h0.6v0.6h-0.6zM47.0 289.2h0.6v0.6h-0.6zM29.4 307.4h0.6v0.6h-0.6zM42.6 287.9h0.6v0.6h-0.6zM37.9 294.1h0.6v0.6h-0.6zM40.0 290.5h0.6v0.6h-0.6zM37.3 285.2h0.6v0.6h-0.6zM36.6 298.4h0.6v0.6h-0.6zM37.1 287.6h0.6v0.6h-0.6zM35.2 291.7h0.6v0.6h-0.6zM47.3 294.2h0.6v0.6h-0.6zM35.2 296.4h0.6v0.6h-0.6zM34.9 297.6h0.6v0.6h-0.6zM38.7 303.5h0.6v0.6h-0.6zM36.5 287.5h0.6v0.6h-0.6zM36.6 275.4h0.6v0.6h-0.6zM30.5 288.2h0.6v0.6h-0.6zM43.0 294.6h0.6v0.6h-0.6zM28.3 300.7h0.6v0.6h-0.6zM39.3 294.5h0.6v0.6h-0.6zM42.9 293.5h0.6v0.6h-0.6zM42.9 296.9h0.6v0.6h-0.6zM31.0 295.8h0.6v0.6h-0.6zM33.2 292.6h0.6v0.6h-0.6zM40.8 277.9h0.6v0.6h-0.6zM42.0 293.8h0.6v0.6h-0.6zM32.4 291.6h0.6v0.6h-0.6zM36.2 273.4h0.6v0.6h-0.6zM35.9 282.7h0.6v0.6h-0.6zM30.6 283.6h0.6v0.6h-0.6zM36.2 286.4h0.6v0.6h-0.6zM40.3 307.6h0.6v0.6h-0.6zM35.3 284.2h0.6v0.6h-0.6zM37.2 273.1h0.6v0.6h-0.6zM32.0 282.3h0.6v0.6h-0.6zM40.1 294.8h0.6v0.6h-0.6zM37.4 266.6h0.6v0.6h-0.6zM36.8 294.6h0.6v0.6h-0.6zM38.4 271.4h0.6v0.6h-0.6zM45.0 291.1h0.6v0.6h-0.6zM38.1 303.1h0.6v0.6h-0.6zM28.9 301.8h0.6v0.6h-0.6zM30.1 306.2h0.6v0.6h-0.6zM40.2 293.5h0.6v0.6h-0.6zM36.6 298.6h0.6v0.6h-0.6zM36.0 269.5h0.6v0.6h-0.6zM41.7 299.0h0.6v0.6h-0.6zM40.5 292.4h0.6v0.6h-0.6zM41.7 305.3h0.6v0.6h-0.6zM41.9 273.9h0.6v0.6h-0.6zM35.0 303.2h0.6v0.6h-0.6zM37.1 308.1h0.6v0.6h-0.6zM37.4 310.6h0.6v0.6h-0.6zM28.5 294.6h0.6v0.6h-0.6zM45.4 274.0h0.6v0.6h-0.6zM34.9 309.6h0.6v0.6h-0.6zM35.9 293.6h0.6v0.6h-0.6zM38.3 286.2h0.6v0.6h-0.6zM34.1 309.2h0.6v0.6h-0.6zM39.5 283.2h0.6v0.6h-0.6zM34.7 281.2h0.6v0.6h-0.6zM43.6 293.6h0.6v0.6h-0.6zM37.9 298.7h0.6v0.6h-0.6zM28.8 300.6h0.6v0.6h-0.6zM36.8 299.6h0.6v0.6h-0.6zM31.7 288.2h0.6v0.6h-0.6zM37.7 291.4h0.6v0.6h-0.6zM38.6 294.1h0.6v0.6h-0.6zM30.9 292.5h0.6v0.6h-0.6zM34.0 260.2h0.6v0.6h-0.6z" fill="#999"/>
<path d="M54.6 265.8h0.6v0.6h-0.6zM47.5 259.7h0.6v0.6h-0.6zM63.4 264.0h0.6v0.6h-0.6zM57.2 264.4h0.6v0.6h-0.6zM64.4 265.8h0.6v0.6h-0.6zM55.3 270.6h0.6v0.6h-0.6zM47.5 264.9h0.6v0.6h-0.6zM48.4 266.5h0.6v0.6h-0.6zM57.8 267.4h0.6v0.6h-0.6zM51.4 270.4h0.6v0.6h-0.6zM52.6 260.4h0.6v0.6h-0.6zM68.7 256.8h0.6v0.6h-0.6zM76.9 257.8h0.6v0.6h-0.6zM31.4 262.2h0.6v0.6h-0.6zM62.9 261.3h0.6v0.6h-0.6zM60.6 271.2h0.6v0.6h-0.6zM41.3 265.3h0.6v0.6h-0.6zM57.5 267.9h0.6v0.6h-0.6zM41.7 256.5h0.6v0.6h-0.6zM41.8 261.2h0.6v0.6h-0.6zM51.3 266.1h0.6v0.6h-0.6zM40.3 260.4h0.6v0.6h-0.6zM41.7 266.9h0.6v0.6h-0.6zM56.3 268.4h0.6v0.6h-0.6zM63.1 271.4h0.6v0.6h-0.6zM43.7 272.6h0.6v0.6h-0.6zM34.1 269.0h0.6v0.6h-0.6zM49.1 256.4h0.6v0.6h-0.6zM70.9 277.3h0.6v0.6h-0.6zM65.6 257.9h0.6v0.6h-0.6zM54.0 262.2h0.6v0.6h-0.6zM39.5 256.1h0.6v0.6h-0.6zM50.5 254.2h0.6v0.6h-0.6zM29.5 264.5h0.6v0.6h-0.6zM68.4 269.7h0.6v0.6h-0.6zM63.6 273.0h0.6v0.6h-0.6zM61.0 262.9h0.6v0.6h-0.6zM53.8 266.7h0.6v0.6h-0.6zM41.9 265.7h0.6v0.6h-0.6zM48.7 258.5h0.6v0.6h-0.6zM29.1 266.0h0.6v0.6h-0.6zM59.0 270.9h0.6v0.6h-0.6zM66.9 268.0h0.6v0.6h-0.6zM52.2 262.9h0.6v0.6h-0.6zM33.1 249.7h0.6v0.6h-0.6zM45.7 269.4h0.6v0.6h-0.6zM49.6 276.4h0.6v0.6h-0.6zM71.2 270.6h0.6v0.6h-0.6zM48.3 275.2h0.6v0.6h-0.6zM70.6 259.1h0.6v0.6h-0.6zM56.3 272.5h0.6v0.6h-0.6zM38.4 276.2h0.6v0.6h-0.6zM47.6 269.2h0.6v0.6h-0.6zM45.1 267.3h0.6v0.6h-0.6zM53.7 274.4h0.6v0.6h-0.6zM45.8 269.1h0.6v0.6h-0.6zM60.0 264.3h0.6v0.6h-0.6zM56.0 258.0h0.6v0.6h-0.6zM31.0 263.2h0.6v0.6h-0.6zM46.2 261.9h0.6v0.6h-0.6zM40.7 260.6h0.6v0.6h-0.6zM56.2 264.7h0.6v0.6h-0.6zM70.6 269.7h0.6v0.6h-0.6zM65.5 261.6h0.6v0.6h-0.6zM72.7 269.3h0.6v0.6h-0.6zM48.6 272.6h0.6v0.6h-0.6zM55.0 261.6h0.6v0.6h-0.6zM50.3 268.7h0.6v0.6h-0.6zM46.4 268.1h0.6v0.6h-0.6zM41.0 256.3h0.6v0.6h-0.6zM66.1 268.3h0.6v0.6h-0.6zM56.4 256.8h0.6v0.6h-0.6zM48.4 272.7h0.6v0.6h-0.6zM43.0 259.9h0.6v0.6h-0.6zM80.8 265.9h0.6v0.6h-0.6zM57.1 265.4h0.6v0.6h-0.6zM68.5 267.1h0.6v0.6h-0.6zM40.3 263.9h0.6v0.6h-0.6zM51.0 275.7h0.6v0.6h-0.6zM50.7 265.1h0.6v0.6h-0.6zM66.0 272.1h0.6v0.6h-0.6zM42.8 267.5h0.6v0.6h-0.6zM61.9 264.5h0.6v0.6h-0.6zM62.7 268.6h0.6v0.6h-0.6zM33.2 270.4h0.6v0.6h-0.6zM50.6 263.7h0.6v0.6h-0.6zM70.5 260.2h0.6v0.6h-0.6zM46.1 263.8h0.6v0.6h-0.6zM61.8 265.5h0.6v0.6h-0.6zM44.3 272.1h0.6v0.6h-0.6zM54.5 258.3h0.6v0.6h-0.6zM46.9 273.7h0.6v0.6h-0.6zM46.2 275.6h0.6v0.6h-0.6zM48.0 262.6h0.6v0.6h-0.6zM64.9 263.6h0.6v0.6h-0.6zM38.2 267.8h0.6v0.6h-0.6zM30.9 272.4h0.6v0.6h-0.6zM63.9 263.1h0.6v0.6h-0.6zM34.6 264.8h0.6v0.6h-0.6zM71.1 274.0h0.6v0.6h-0.6zM47.1 266.6h0.6v0.6h-0.6zM51.2 270.6h0.6v0.6h-0.6zM52.0 262.6h0.6v0.6h-0.6zM66.7 275.9h0.6v0.6h-0.6zM39.0 278.0h0.6v0.6h-0.6zM56.0 266.2h0.6v0.6h-0.6zM53.4 271.3h0.6v0.6h-0.6zM37.9 264.8h0.6v0.6h-0.6zM82.8 263.0h0.6v0.6h-0.6zM74.6 254.6h0.6v0.6h-0.6zM44.3 264.7h0.6v0.6h-0.6zM46.0 265.3h0.6v0.6h-0.6zM33.2 271.1h0.6v0.6h-0.6zM71.0 263.4h0.6v0.6h-0.6zM37.6 270.4h0.6v0.6h-0.6zM67.5 272.7h0.6v0.6h-0.6zM42.6 262.1h0.6v0.6h-0.6zM59.4 267.2h0.6v0.6h-0.6zM32.8 259.0h0.6v0.6h-0.6zM30.9 264.0h0.6v0.6h-0.6zM68.2 266.5h0.6v0.6h-0.6zM44.9 265.3h0.6v0.6h-0.6zM39.5 265.2h0.6v0.6h-0.6zM36.0 274.0h0.6v0.6h-0.6zM51.1 265.3h0.6v0.6h-0.6zM67.0 270.0h0.6v0.6h-0.6zM67.6 262.4h0.6v0.6h-0.6zM37.5 273.6h0.6v0.6h-0.6zM54.4 264.9h0.6v0.6h-0.6zM64.6 267.3h0.6v0.6h-0.6zM46.1 259.5h0.6v0.6h-0.6zM41.9 266.5h0.6v0.6h-0.6zM52.1 267.4h0.6v0.6h-0.6zM39.3 266.9h0.6v0.6h-0.6zM36.2 263.0h0.6v0.6h-0.6zM39.8 274.4h0.6v0.6h-0.6zM41.9 271.2h0.6v0.6h-0.6zM29.1 268.3h0.6v0.6h-0.6zM72.8 264.9h0.6v0.6h-0.6zM73.4 266.0h0.6v0.6h-0.6zM30.2 264.8h0.6v0.6h-0.6zM52.4 266.2h0.6v0.6h-0.6zM57.0 266.3h0.6v0.6h-0.6zM66.6 271.7h0.6v0.6h-0.6zM51.3 260.4h0.6v0.6h-0.6zM53.2 271.8h0.6v0.6h-0.6zM57.9 268.7h0.6v0.6h-0.6zM49.0 263.3h0.6v0.6h-0.6zM61.6 251.4h0.6v0.6h-0.6zM56.5 263.8h0.6v0.6h-0.6zM49.6 273.2h0.6v0.6h-0.6zM57.2 260.5h0.6v0.6h-0.6zM42.1 264.0h0.6v0.6h-0.6zM54.5 262.3h0.6v0.6h-0.6zM46.0 263.4h0.6v0.6h-0.6zM46.1 256.1h0.6v0.6h-0.6zM61.0 269.6h0.6v0.6h-0.6zM59.2 271.7h0.6v0.6h-0.6zM53.1 278.8h0.6v0.6h-0.6zM52.5 264.3h0.6v0.6h-0.6zM50.4 270.3h0.6v0.6h-0.6zM61.5 271.3h0.6v0.6h-0.6zM47.1 259.7h0.6v0.6h-0.6zM41.5 265.8h0.6v0.6h-0.6zM58.8 267.9h0.6v0.6h-0.6zM33.7 265.1h0.6v0.6h-0.6zM58.0 274.7h0.6v0.6h-0.6zM66.0 265.4h0.6v0.6h-0.6zM83.0 265.1h0.6v0.6h-0.6zM50.0 261.4h0.6v0.6h-0.6zM59.1 260.9h0.6v0.6h-0.6zM50.3 270.2h0.6v0.6h-0.6zM30.5 272.1h0.6v0.6h-0.6zM35.6 269.5h0.6v0.6h-0.6zM54.9 271.6h0.6v0.6h-0.6zM52.4 267.4h0.6v0.6h-0.6zM54.5 272.6h0.6v0.6h-0.6zM36.6 258.5h0.6v0.6h-0.6zM33.4 271.1h0.6v0.6h-0.6zM53.6 265.3h0.6v0.6h-0.6zM40.5 264.7h0.6v0.6h-0.6zM57.6 265.2h0.6v0.6h-0.6zM43.9 270.6h0.6v0.6h-0.6zM50.7 257.7h0.6v0.6h-0.6zM65.2 267.9h0.6v0.6h-0.6zM45.4 268.5h0.6v0.6h-0.6zM65.6 267.1h0.6v0.6h-0.6zM52.1 270.5h0.6v0.6h-0.6zM37.7 260.6h0.6v0.6h-0.6zM44.3 268.3h0.6v0.6h-0.6zM56.7 261.3h0.6v0.6h-0.6zM45.7 272.4h0.6v0.6h-0.6zM63.6 269.4h0.6v0.6h-0.6zM59.5 269.2h0.6v0.6h-0.6zM35.0 259.3h0.6v0.6h-0.6zM71.1 264.8h0.6v0.6h-0.6zM66.4 270.3h0.6v0.6h-0.6zM48.5 269.9h0.6v0.6h-0.6zM43.2 261.8h0.6v0.6h-0.6zM62.9 261.6h0.6v0.6h-0.6zM53.8 268.5h0.6v0.6h-0.6zM80.8 269.8h0.6v0.6h-0.6zM63.9 263.2h0.6v0.6h-0.6zM69.5 261.5h0.6v0.6h-0.6zM46.8 258.1h0.6v0.6h-0.6zM49.6 263.8h0.6v0.6h-0.6zM40.3 261.2h0.6v0.6h-0.6zM42.8 268.3h0.6v0.6h-0.6zM34.6 258.6h0.6v0.6h-0.6zM47.6 264.3h0.6v0.6h-0.6zM69.4 268.5h0.6v0.6h-0.6zM46.6 264.1h0.6v0.6h-0.6zM77.6 269.2h0.6v0.6h-0.6zM78.7 265.4h0.6v0.6h-0.6zM46.1 264.7h0.6v0.6h-0.6zM45.5 270.2h0.6v0.6h-0.6zM57.8 264.6h0.6v0.6h-0.6zM67.3 265.8h0.6v0.6h-0.6zM57.1 274.0h0.6v0.6h-0.6zM69.5 271.1h0.6v0.6h-0.6zM67.6 257.2h0.6v0.6h-0.6zM50.1 262.4h0.6v0.6h-0.6zM39.8 265.5h0.6v0.6h-0.6zM74.9 268.6h0.6v0.6h-0.6zM67.3 269.0h0.6v0.6h-0.6zM42.9 273.0h0.6v0.6h-0.6zM38.9 272.6h0.6v0.6h-0.6zM56.6 264.9h0.6v0.6h-0.6zM43.9 259.9h0.6v0.6h-0.6zM60.6 263.7h0.6v0.6h-0.6zM67.8 263.6h0.6v0.6h-0.6zM58.1 266.5h0.6v0.6h-0.6zM31.3 264.9h0.6v0.6h-0.6zM64.0 262.6h0.6v0.6h-0.6zM61.7 260.5h0.6v0.6h-0.6zM42.9 263.4h0.6v0.6h-0.6zM44.0 267.5h0.6v0.6h-0.6zM67.2 255.2h0.6v0.6h-0.6zM66.8 265.4h0.6v0.6h-0.6zM49.6 274.2h0.6v0.6h-0.6zM30.3 273.8h0.6v0.6h-0.6zM32.8 267.9h0.6v0.6h-0.6zM48.2 259.6h0.6v0.6h-0.6zM58.7 266.7h0.6v0.6h-0.6zM40.5 258.6h0.6v0.6h-0.6zM41.1 270.0h0.6v0.6h-0.6zM53.8 261.9h0.6v0.6h-0.6zM55.1 269.0h0.6v0.6h-0.6zM36.2 263.1h0.6v0.6h-0.6zM72.8 267.8h0.6v0.6h-0.6zM45.9 270.9h0.6v0.6h-0.6zM51.0 270.6h0.6v0.6h-0.6zM56.3 266.6h0.6v0.6h-0.6zM69.0 268.9h0.6v0.6h-0.6zM47.9 271.5h0.6v0.6h-0.6zM53.1 273.4h0.6v0.6h-0.6zM46.5 270.4h0.6v0.6h-0.6zM59.7 270.9h0.6v0.6h-0.6zM50.8 262.0h0.6v0.6h-0.6zM40.5 264.3h0.6v0.6h-0.6zM39.7 267.3h0.6v0.6h-0.6zM51.5 263.4h0.6v0.6h-0.6zM50.7 264.4h0.6v0.6h-0.6zM44.5 262.1h0.6v0.6h-0.6zM42.6 268.2h0.6v0.6h-0.6zM35.8 271.4h0.6v0.6h-0.6zM36.1 260.1h0.6v0.6h-0.6zM53.4 272.5h0.6v0.6h-0.6zM60.1 261.2h0.6v0.6h-0.6zM63.3 257.7h0.6v0.6h-0.6zM64.4 269.8h0.6v0.6h-0.6zM33.9 272.0h0.6v0.6h-0.6zM71.2 268.3h0.6v0.6h-0.6zM77.1 263.3h0.6v0.6h-0.6zM57.6 265.6h0.6v0.6h-0.6zM39.8 268.8h0.6v0.6h-0.6zM48.0 263.4h0.6v0.6h-0.6z" fill="#666"/>
<path d="M62.5 256.4h0.6v0.6h-0.6zM62.7 259.1h0.6v0.6h-0.6zM71.9 257.8h0.6v0.6h-0.6zM67.4 256.1h0.6v0.6h-0.6zM68.6 258.2h0.6v0.6h-0.6zM73.8 263.0h0.6v0.6h-0.6zM67.9 257.3h0.6v0.6h-0.6zM67.9 257.6h0.6v0.6h-0.6zM65.6 259.7h0.6v0.6h-0.6zM68.3 259.3h0.6v0.6h-0.6zM63.0 258.4h0.6v0.6h-0.6zM65.9 260.5h0.6v0.6h-0.6zM69.2 258.4h0.6v0.6h-0.6zM67.7 259.1h0.6v0.6h-0.6zM66.4 257.1h0.6v0.6h-0.6zM65.6 258.9h0.6v0.6h-0.6zM69.0 256.0h0.6v0.6h-0.6zM61.8 259.4h0.6v0.6h-0.6zM68.4 259.9h0.6v0.6h-0.6zM70.4 258.2h0.6v0.6h-0.6zM68.6 258.8h0.6v0.6h-0.6zM65.0 256.0h0.6v0.6h-0.6zM71.8 259.0h0.6v0.6h-0.6zM65.5 259.3h0.6v0.6h-0.6zM68.3 260.0h0.6v0.6h-0.6zM73.0 261.1h0.6v0.6h-0.6zM69.4 260.3h0.6v0.6h-0.6zM64.8 256.8h0.6v0.6h-0.6zM63.8 258.8h0.6v0.6h-0.6zM70.0 258.1h0.6v0.6h-0.6zM68.9 259.7h0.6v0.6h-0.6zM67.8 256.9h0.6v0.6h-0.6zM66.9 258.9h0.6v0.6h-0.6zM71.6 260.1h0.6v0.6h-0.6zM68.5 260.2h0.6v0.6h-0.6zM68.2 259.8h0.6v0.6h-0.6zM70.8 261.6h0.6v0.6h-0.6zM65.1 257.3h0.6v0.6h-0.6zM68.9 261.3h0.6v0.6h-0.6zM66.3 258.2h0.6v0.6h-0.6zM71.6 261.8h0.6v0.6h-0.6zM66.4 259.9h0.6v0.6h-0.6zM73.9 260.2h0.6v0.6h-0.6zM68.1 260.4h0.6v0.6h-0.6zM67.3 256.7h0.6v0.6h-0.6zM66.1 259.3h0.6v0.6h-0.6zM67.1 257.4h0.6v0.6h-0.6zM61.4 256.0h0.6v0.6h-0.6zM72.6 257.5h0.6v0.6h-0.6zM66.3 258.0h0.6v0.6h-0.6zM71.0 255.5h0.6v0.6h-0.6zM67.3 258.9h0.6v0.6h-0.6zM64.4 258.2h0.6v0.6h-0.6zM71.4 256.5h0.6v0.6h-0.6zM64.1 259.3h0.6v0.6h-0.6zM62.9 258.8h0.6v0.6h-0.6zM64.7 256.8h0.6v0.6h-0.6zM69.3 261.2h0.6v0.6h-0.6zM70.6 258.9h0.6v0.6h-0.6zM67.3 258.4h0.6v0.6h-0.6zM65.5 257.7h0.6v0.6h-0.6zM67.3 259.0h0.6v0.6h-0.6zM64.7 259.8h0.6v0.6h-0.6zM74.3 259.4h0.6v0.6h-0.6zM72.2 258.3h0.6v0.6h-0.6zM61.9 257.6h0.6v0.6h-0.6zM65.0 256.7h0.6v0.6h-0.6zM63.8 258.8h0.6v0.6h-0.6zM66.9 259.0h0.6v0.6h-0.6zM68.9 256.3h0.6v0.6h-0.6zM74.1 258.6h0.6v0.6h-0.6zM71.6 258.4h0.6v0.6h-0.6zM70.1 258.0h0.6v0.6h-0.6zM63.8 256.5h0.6v0.6h-0.6zM65.6 259.2h0.6v0.6h-0.6zM70.9 259.9h0.6v0.6h-0.6zM66.6 260.1h0.6v0.6h-0.6zM66.1 257.8h0.6v0.6h-0.6zM67.2 258.7h0.6v0.6h-0.6zM65.1 256.4h0.6v0.6h-0.6z" fill="#444"/>
<path d="M27.6 259.6 C40 258.8 55 258.2 66 257.5 C69.5 257 72.5 257.4 73.6 258.2 C70 262 66 268.5 60 272.4 C48 273.8 38 273.6 27.6 273 Z" fill="#5a5a5a" filter="url(#b1)"/>
<path d="M28.6 261.4 C40 260.6 55 260 66 259.3 C68.5 259 70.2 259.1 71 259.6 C68 263 64.8 267.5 59.6 270.2 C48 271.2 38 271.1 28.6 270.8 Z" fill="#e6e6e6" stroke="#141414" stroke-width="1.9"/>
<path d="M30.8 263 C40 262.5 52 262 61 261.7 C62.6 261.8 62.8 262.6 62.2 263.6 C61 265.5 59.8 266.8 57.6 267.7 C48 268.4 38 268.5 30.8 268.3 Z" fill="#d8d8d8" stroke="#333" stroke-width="0.7"/>
<path d="M32 264.6 C41 264.2 51 263.9 59 263.8 C59.5 264.1 59.2 264.8 58.3 265.6 C57 266.3 55.5 266.6 53.8 266.7 C46 267 38 267 32 266.9 Z" fill="#eee" stroke="#555" stroke-width="0.6"/>
<path d="M33 265.8 C42 265.6 50 265.4 56 265.3" fill="none" stroke="#222" stroke-width="0.6"/>
</g>
<clipPath id="c_th2"><rect x="114.7" y="248.7" width="63.2" height="64.2"/></clipPath><g clip-path="url(#c_th2)">
<path d="M133.5 298.4h0.6v0.6h-0.6zM139.1 291.5h0.6v0.6h-0.6zM135.7 309.1h0.6v0.6h-0.6zM134.7 298.7h0.6v0.6h-0.6zM135.4 302.0h0.6v0.6h-0.6zM140.4 307.8h0.6v0.6h-0.6zM142.2 290.4h0.6v0.6h-0.6zM135.9 292.6h0.6v0.6h-0.6zM136.2 299.8h0.6v0.6h-0.6zM137.6 291.4h0.6v0.6h-0.6zM133.6 288.9h0.6v0.6h-0.6zM136.5 294.4h0.6v0.6h-0.6zM137.4 292.0h0.6v0.6h-0.6zM136.5 300.3h0.6v0.6h-0.6zM141.1 300.7h0.6v0.6h-0.6zM141.4 298.7h0.6v0.6h-0.6zM145.4 274.7h0.6v0.6h-0.6zM136.5 299.8h0.6v0.6h-0.6zM137.3 300.4h0.6v0.6h-0.6zM139.0 308.9h0.6v0.6h-0.6zM137.3 296.6h0.6v0.6h-0.6zM134.3 298.7h0.6v0.6h-0.6zM136.5 300.6h0.6v0.6h-0.6zM136.7 300.3h0.6v0.6h-0.6zM136.0 287.3h0.6v0.6h-0.6zM135.5 292.1h0.6v0.6h-0.6zM141.2 295.9h0.6v0.6h-0.6zM139.0 305.4h0.6v0.6h-0.6zM139.8 295.6h0.6v0.6h-0.6zM138.7 279.2h0.6v0.6h-0.6zM140.3 290.8h0.6v0.6h-0.6zM131.3 303.0h0.6v0.6h-0.6zM136.4 283.9h0.6v0.6h-0.6zM140.1 307.9h0.6v0.6h-0.6zM137.8 292.1h0.6v0.6h-0.6zM134.7 294.6h0.6v0.6h-0.6zM135.3 298.5h0.6v0.6h-0.6zM138.0 301.8h0.6v0.6h-0.6zM136.4 300.6h0.6v0.6h-0.6zM145.0 285.9h0.6v0.6h-0.6zM136.7 296.1h0.6v0.6h-0.6zM136.3 295.3h0.6v0.6h-0.6zM136.7 301.0h0.6v0.6h-0.6zM136.6 298.1h0.6v0.6h-0.6zM137.5 303.7h0.6v0.6h-0.6zM130.1 301.9h0.6v0.6h-0.6zM132.6 291.4h0.6v0.6h-0.6zM137.3 288.3h0.6v0.6h-0.6zM139.1 299.1h0.6v0.6h-0.6zM140.8 305.2h0.6v0.6h-0.6zM138.6 302.0h0.6v0.6h-0.6zM135.0 289.5h0.6v0.6h-0.6zM141.0 300.4h0.6v0.6h-0.6zM131.9 303.1h0.6v0.6h-0.6zM139.3 282.0h0.6v0.6h-0.6zM130.0 293.8h0.6v0.6h-0.6zM135.2 299.2h0.6v0.6h-0.6zM142.2 309.6h0.6v0.6h-0.6zM135.2 289.0h0.6v0.6h-0.6zM142.9 296.5h0.6v0.6h-0.6zM136.0 309.5h0.6v0.6h-0.6zM140.0 295.7h0.6v0.6h-0.6zM141.4 295.1h0.6v0.6h-0.6zM141.2 304.2h0.6v0.6h-0.6zM138.8 288.9h0.6v0.6h-0.6zM137.3 311.6h0.6v0.6h-0.6zM142.2 305.1h0.6v0.6h-0.6zM134.9 306.4h0.6v0.6h-0.6zM135.2 297.7h0.6v0.6h-0.6zM139.8 312.2h0.6v0.6h-0.6zM135.2 299.7h0.6v0.6h-0.6zM133.0 290.5h0.6v0.6h-0.6zM141.3 302.7h0.6v0.6h-0.6zM141.4 309.2h0.6v0.6h-0.6zM144.3 302.3h0.6v0.6h-0.6zM134.1 294.5h0.6v0.6h-0.6zM135.2 296.5h0.6v0.6h-0.6zM136.0 299.4h0.6v0.6h-0.6zM135.1 306.4h0.6v0.6h-0.6zM135.6 293.4h0.6v0.6h-0.6zM133.4 288.7h0.6v0.6h-0.6zM138.0 297.4h0.6v0.6h-0.6zM135.9 298.0h0.6v0.6h-0.6zM140.0 288.4h0.6v0.6h-0.6zM133.5 301.9h0.6v0.6h-0.6zM135.6 297.6h0.6v0.6h-0.6zM139.0 296.6h0.6v0.6h-0.6zM140.8 299.5h0.6v0.6h-0.6zM140.1 304.0h0.6v0.6h-0.6zM135.4 292.7h0.6v0.6h-0.6zM141.1 296.7h0.6v0.6h-0.6zM147.1 289.7h0.6v0.6h-0.6zM131.9 293.7h0.6v0.6h-0.6zM145.2 306.5h0.6v0.6h-0.6zM135.0 300.6h0.6v0.6h-0.6zM141.1 294.2h0.6v0.6h-0.6zM138.7 299.0h0.6v0.6h-0.6zM138.7 293.2h0.6v0.6h-0.6zM137.0 295.4h0.6v0.6h-0.6zM141.6 278.6h0.6v0.6h-0.6zM133.8 308.5h0.6v0.6h-0.6zM140.0 294.5h0.6v0.6h-0.6zM125.8 302.6h0.6v0.6h-0.6zM142.3 295.0h0.6v0.6h-0.6zM137.3 297.5h0.6v0.6h-0.6zM142.1 281.1h0.6v0.6h-0.6zM135.7 295.7h0.6v0.6h-0.6zM141.5 306.1h0.6v0.6h-0.6zM136.4 287.9h0.6v0.6h-0.6zM138.5 296.2h0.6v0.6h-0.6zM139.6 298.1h0.6v0.6h-0.6zM137.6 300.4h0.6v0.6h-0.6zM138.1 303.4h0.6v0.6h-0.6zM139.6 289.0h0.6v0.6h-0.6zM139.3 307.0h0.6v0.6h-0.6zM140.2 301.2h0.6v0.6h-0.6zM131.3 290.6h0.6v0.6h-0.6zM136.9 294.4h0.6v0.6h-0.6zM133.6 289.7h0.6v0.6h-0.6zM142.6 293.3h0.6v0.6h-0.6zM135.7 282.0h0.6v0.6h-0.6zM135.5 298.7h0.6v0.6h-0.6zM138.0 301.7h0.6v0.6h-0.6zM139.6 295.3h0.6v0.6h-0.6zM136.2 293.5h0.6v0.6h-0.6zM138.0 305.5h0.6v0.6h-0.6zM138.7 295.6h0.6v0.6h-0.6zM135.6 302.5h0.6v0.6h-0.6zM133.1 299.0h0.6v0.6h-0.6zM141.3 289.5h0.6v0.6h-0.6zM142.4 284.8h0.6v0.6h-0.6zM138.3 296.3h0.6v0.6h-0.6zM141.9 301.8h0.6v0.6h-0.6zM139.1 305.2h0.6v0.6h-0.6zM133.8 296.2h0.6v0.6h-0.6zM138.6 284.3h0.6v0.6h-0.6zM138.9 308.2h0.6v0.6h-0.6zM134.3 299.5h0.6v0.6h-0.6zM137.2 285.5h0.6v0.6h-0.6zM137.1 290.4h0.6v0.6h-0.6zM142.0 303.3h0.6v0.6h-0.6zM137.9 304.9h0.6v0.6h-0.6zM139.1 299.9h0.6v0.6h-0.6zM129.6 305.0h0.6v0.6h-0.6zM136.0 294.0h0.6v0.6h-0.6zM140.2 296.4h0.6v0.6h-0.6zM137.4 295.3h0.6v0.6h-0.6zM145.4 293.3h0.6v0.6h-0.6zM139.8 291.3h0.6v0.6h-0.6zM134.1 300.8h0.6v0.6h-0.6zM142.1 293.1h0.6v0.6h-0.6zM133.0 304.1h0.6v0.6h-0.6zM143.6 293.1h0.6v0.6h-0.6zM142.6 308.4h0.6v0.6h-0.6zM126.5 306.2h0.6v0.6h-0.6zM136.4 301.5h0.6v0.6h-0.6zM137.5 298.6h0.6v0.6h-0.6zM129.2 297.8h0.6v0.6h-0.6zM140.4 297.9h0.6v0.6h-0.6zM138.5 302.3h0.6v0.6h-0.6zM138.1 298.2h0.6v0.6h-0.6zM139.3 312.1h0.6v0.6h-0.6zM134.7 301.3h0.6v0.6h-0.6zM136.6 295.0h0.6v0.6h-0.6zM138.4 292.0h0.6v0.6h-0.6zM135.6 297.3h0.6v0.6h-0.6zM137.9 302.5h0.6v0.6h-0.6zM135.1 303.3h0.6v0.6h-0.6zM143.4 306.8h0.6v0.6h-0.6zM135.4 308.3h0.6v0.6h-0.6zM138.4 300.2h0.6v0.6h-0.6zM140.6 297.2h0.6v0.6h-0.6zM146.0 299.4h0.6v0.6h-0.6zM137.6 298.4h0.6v0.6h-0.6zM136.0 292.4h0.6v0.6h-0.6zM144.3 295.1h0.6v0.6h-0.6zM135.1 287.4h0.6v0.6h-0.6zM140.4 295.5h0.6v0.6h-0.6zM139.2 298.9h0.6v0.6h-0.6zM133.2 296.2h0.6v0.6h-0.6zM140.6 281.6h0.6v0.6h-0.6zM135.2 303.8h0.6v0.6h-0.6zM131.9 308.4h0.6v0.6h-0.6zM138.4 302.1h0.6v0.6h-0.6zM138.0 305.7h0.6v0.6h-0.6zM139.8 300.2h0.6v0.6h-0.6zM136.6 289.4h0.6v0.6h-0.6zM135.0 303.6h0.6v0.6h-0.6zM139.6 295.2h0.6v0.6h-0.6zM135.8 296.1h0.6v0.6h-0.6zM134.5 298.1h0.6v0.6h-0.6zM135.4 301.6h0.6v0.6h-0.6zM140.3 298.4h0.6v0.6h-0.6zM137.6 290.1h0.6v0.6h-0.6zM139.2 300.7h0.6v0.6h-0.6zM137.6 292.9h0.6v0.6h-0.6zM142.0 294.5h0.6v0.6h-0.6zM140.8 300.7h0.6v0.6h-0.6zM130.6 281.7h0.6v0.6h-0.6zM140.2 295.1h0.6v0.6h-0.6zM134.5 291.3h0.6v0.6h-0.6zM139.6 294.6h0.6v0.6h-0.6zM133.4 296.9h0.6v0.6h-0.6zM134.1 298.8h0.6v0.6h-0.6zM140.2 298.6h0.6v0.6h-0.6zM140.9 296.0h0.6v0.6h-0.6zM138.5 297.7h0.6v0.6h-0.6zM144.9 298.5h0.6v0.6h-0.6zM142.8 298.0h0.6v0.6h-0.6zM139.4 292.5h0.6v0.6h-0.6zM141.5 287.9h0.6v0.6h-0.6zM139.7 291.3h0.6v0.6h-0.6zM139.3 305.3h0.6v0.6h-0.6zM136.9 303.3h0.6v0.6h-0.6zM139.7 294.9h0.6v0.6h-0.6zM135.4 291.4h0.6v0.6h-0.6zM134.0 299.7h0.6v0.6h-0.6zM129.5 298.6h0.6v0.6h-0.6zM135.1 285.2h0.6v0.6h-0.6zM138.0 307.6h0.6v0.6h-0.6zM137.0 285.9h0.6v0.6h-0.6zM138.4 296.1h0.6v0.6h-0.6zM143.2 306.4h0.6v0.6h-0.6zM136.1 301.5h0.6v0.6h-0.6zM136.0 299.8h0.6v0.6h-0.6zM137.7 289.8h0.6v0.6h-0.6zM139.8 290.0h0.6v0.6h-0.6zM138.9 297.9h0.6v0.6h-0.6zM139.0 295.2h0.6v0.6h-0.6zM135.4 298.4h0.6v0.6h-0.6zM131.9 307.5h0.6v0.6h-0.6zM138.5 306.0h0.6v0.6h-0.6zM136.4 297.3h0.6v0.6h-0.6zM135.0 297.2h0.6v0.6h-0.6zM145.6 295.7h0.6v0.6h-0.6zM129.9 295.8h0.6v0.6h-0.6zM138.6 298.8h0.6v0.6h-0.6zM131.7 307.3h0.6v0.6h-0.6zM146.3 284.8h0.6v0.6h-0.6zM139.3 290.5h0.6v0.6h-0.6zM138.7 284.7h0.6v0.6h-0.6zM131.5 298.6h0.6v0.6h-0.6zM137.8 292.9h0.6v0.6h-0.6zM140.3 300.0h0.6v0.6h-0.6zM138.9 290.0h0.6v0.6h-0.6zM135.7 310.0h0.6v0.6h-0.6zM139.1 303.5h0.6v0.6h-0.6zM143.2 310.7h0.6v0.6h-0.6zM138.1 305.9h0.6v0.6h-0.6zM135.9 296.3h0.6v0.6h-0.6zM143.0 289.3h0.6v0.6h-0.6zM139.7 300.8h0.6v0.6h-0.6zM139.3 293.4h0.6v0.6h-0.6zM133.0 308.5h0.6v0.6h-0.6zM136.7 307.5h0.6v0.6h-0.6zM133.1 303.9h0.6v0.6h-0.6zM138.0 283.6h0.6v0.6h-0.6zM138.9 309.0h0.6v0.6h-0.6zM137.1 307.8h0.6v0.6h-0.6zM138.2 308.3h0.6v0.6h-0.6zM137.6 300.5h0.6v0.6h-0.6zM143.5 298.9h0.6v0.6h-0.6zM138.2 302.4h0.6v0.6h-0.6zM136.3 283.7h0.6v0.6h-0.6zM137.7 308.3h0.6v0.6h-0.6zM143.6 288.7h0.6v0.6h-0.6zM132.8 300.5h0.6v0.6h-0.6zM133.2 289.9h0.6v0.6h-0.6zM140.2 295.9h0.6v0.6h-0.6zM131.4 310.5h0.6v0.6h-0.6zM137.6 304.6h0.6v0.6h-0.6zM139.4 291.8h0.6v0.6h-0.6zM136.9 296.3h0.6v0.6h-0.6zM142.7 297.0h0.6v0.6h-0.6zM139.7 300.0h0.6v0.6h-0.6zM141.6 303.8h0.6v0.6h-0.6zM136.7 287.8h0.6v0.6h-0.6zM138.2 282.2h0.6v0.6h-0.6zM133.8 297.5h0.6v0.6h-0.6zM134.7 288.1h0.6v0.6h-0.6zM141.5 290.2h0.6v0.6h-0.6zM133.8 304.4h0.6v0.6h-0.6zM139.5 287.8h0.6v0.6h-0.6zM136.3 306.7h0.6v0.6h-0.6zM135.7 296.9h0.6v0.6h-0.6zM138.9 296.1h0.6v0.6h-0.6zM139.8 293.7h0.6v0.6h-0.6zM133.7 302.5h0.6v0.6h-0.6zM141.8 300.9h0.6v0.6h-0.6zM134.1 293.7h0.6v0.6h-0.6zM137.4 300.1h0.6v0.6h-0.6zM139.7 299.5h0.6v0.6h-0.6zM138.0 289.9h0.6v0.6h-0.6zM142.8 290.5h0.6v0.6h-0.6zM133.0 298.8h0.6v0.6h-0.6zM137.0 282.1h0.6v0.6h-0.6zM141.3 302.1h0.6v0.6h-0.6zM142.7 305.6h0.6v0.6h-0.6zM131.6 300.4h0.6v0.6h-0.6zM143.4 307.3h0.6v0.6h-0.6zM139.0 300.1h0.6v0.6h-0.6zM137.6 304.8h0.6v0.6h-0.6zM143.8 305.8h0.6v0.6h-0.6zM142.9 295.7h0.6v0.6h-0.6zM134.5 298.1h0.6v0.6h-0.6zM137.2 306.8h0.6v0.6h-0.6zM132.3 296.2h0.6v0.6h-0.6zM135.6 303.8h0.6v0.6h-0.6zM140.9 287.3h0.6v0.6h-0.6zM141.5 302.4h0.6v0.6h-0.6zM136.6 303.2h0.6v0.6h-0.6zM135.5 296.7h0.6v0.6h-0.6zM135.9 297.1h0.6v0.6h-0.6zM137.7 303.2h0.6v0.6h-0.6zM136.8 293.2h0.6v0.6h-0.6zM139.3 293.0h0.6v0.6h-0.6zM139.2 300.2h0.6v0.6h-0.6zM140.3 289.1h0.6v0.6h-0.6zM136.6 299.4h0.6v0.6h-0.6zM137.2 292.9h0.6v0.6h-0.6zM142.0 289.7h0.6v0.6h-0.6zM135.4 293.5h0.6v0.6h-0.6zM139.9 289.1h0.6v0.6h-0.6z" fill="#666"/>
<path d="M132.8 291.6h0.6v0.6h-0.6zM131.4 294.8h0.6v0.6h-0.6zM145.8 291.9h0.6v0.6h-0.6zM135.5 285.8h0.6v0.6h-0.6zM137.7 289.1h0.6v0.6h-0.6zM138.8 287.0h0.6v0.6h-0.6zM140.6 295.8h0.6v0.6h-0.6zM132.5 292.8h0.6v0.6h-0.6zM140.9 293.3h0.6v0.6h-0.6zM138.1 291.0h0.6v0.6h-0.6zM137.7 291.6h0.6v0.6h-0.6zM135.2 289.9h0.6v0.6h-0.6zM138.8 296.2h0.6v0.6h-0.6zM137.4 288.0h0.6v0.6h-0.6zM138.1 295.8h0.6v0.6h-0.6zM134.3 290.1h0.6v0.6h-0.6zM136.0 293.7h0.6v0.6h-0.6zM135.1 291.2h0.6v0.6h-0.6zM140.4 291.0h0.6v0.6h-0.6zM137.2 292.0h0.6v0.6h-0.6zM136.1 295.4h0.6v0.6h-0.6zM137.4 290.4h0.6v0.6h-0.6zM137.9 288.6h0.6v0.6h-0.6zM140.9 286.1h0.6v0.6h-0.6zM135.7 295.1h0.6v0.6h-0.6zM135.0 290.1h0.6v0.6h-0.6zM141.3 290.0h0.6v0.6h-0.6zM138.6 290.5h0.6v0.6h-0.6zM136.7 297.8h0.6v0.6h-0.6zM136.1 293.8h0.6v0.6h-0.6zM136.2 296.6h0.6v0.6h-0.6zM136.5 292.5h0.6v0.6h-0.6zM142.2 295.3h0.6v0.6h-0.6zM138.7 291.6h0.6v0.6h-0.6zM135.1 294.3h0.6v0.6h-0.6zM141.0 284.1h0.6v0.6h-0.6zM132.6 291.8h0.6v0.6h-0.6zM135.5 294.3h0.6v0.6h-0.6zM141.8 292.2h0.6v0.6h-0.6zM132.6 290.0h0.6v0.6h-0.6zM140.1 286.3h0.6v0.6h-0.6zM141.8 290.4h0.6v0.6h-0.6zM139.1 292.7h0.6v0.6h-0.6zM135.9 289.9h0.6v0.6h-0.6zM134.7 292.9h0.6v0.6h-0.6zM139.0 293.4h0.6v0.6h-0.6zM134.0 284.8h0.6v0.6h-0.6zM134.8 287.5h0.6v0.6h-0.6zM141.1 298.6h0.6v0.6h-0.6zM137.5 286.4h0.6v0.6h-0.6zM133.2 291.6h0.6v0.6h-0.6zM139.2 292.3h0.6v0.6h-0.6zM145.9 292.4h0.6v0.6h-0.6zM134.2 294.3h0.6v0.6h-0.6zM137.1 287.6h0.6v0.6h-0.6zM145.4 289.9h0.6v0.6h-0.6zM136.1 291.1h0.6v0.6h-0.6zM137.7 287.5h0.6v0.6h-0.6zM141.8 291.7h0.6v0.6h-0.6zM130.5 285.9h0.6v0.6h-0.6zM134.5 289.2h0.6v0.6h-0.6zM138.3 292.2h0.6v0.6h-0.6zM136.5 285.3h0.6v0.6h-0.6zM134.7 294.1h0.6v0.6h-0.6zM137.0 291.2h0.6v0.6h-0.6zM137.3 292.7h0.6v0.6h-0.6zM137.6 289.9h0.6v0.6h-0.6zM137.9 294.0h0.6v0.6h-0.6zM139.1 289.7h0.6v0.6h-0.6zM135.1 295.7h0.6v0.6h-0.6zM130.5 292.2h0.6v0.6h-0.6zM134.6 290.8h0.6v0.6h-0.6zM140.3 288.5h0.6v0.6h-0.6zM131.6 292.5h0.6v0.6h-0.6zM136.0 292.8h0.6v0.6h-0.6zM137.6 293.2h0.6v0.6h-0.6zM138.5 285.7h0.6v0.6h-0.6zM137.4 291.7h0.6v0.6h-0.6zM137.2 291.4h0.6v0.6h-0.6zM134.7 289.5h0.6v0.6h-0.6zM135.8 289.6h0.6v0.6h-0.6zM134.2 286.8h0.6v0.6h-0.6zM135.0 298.8h0.6v0.6h-0.6zM135.2 300.5h0.6v0.6h-0.6zM143.5 290.3h0.6v0.6h-0.6zM132.2 293.6h0.6v0.6h-0.6zM139.6 289.8h0.6v0.6h-0.6zM137.3 288.2h0.6v0.6h-0.6zM137.0 297.3h0.6v0.6h-0.6zM135.9 286.1h0.6v0.6h-0.6zM139.8 292.4h0.6v0.6h-0.6zM140.5 291.8h0.6v0.6h-0.6zM134.2 290.0h0.6v0.6h-0.6zM133.8 291.7h0.6v0.6h-0.6zM139.9 291.5h0.6v0.6h-0.6zM136.7 287.4h0.6v0.6h-0.6zM139.0 291.1h0.6v0.6h-0.6zM137.2 291.6h0.6v0.6h-0.6zM135.3 292.4h0.6v0.6h-0.6zM132.4 292.8h0.6v0.6h-0.6zM140.7 290.3h0.6v0.6h-0.6zM141.0 296.1h0.6v0.6h-0.6zM141.6 288.6h0.6v0.6h-0.6zM137.4 294.6h0.6v0.6h-0.6zM137.1 295.4h0.6v0.6h-0.6zM140.9 288.4h0.6v0.6h-0.6zM132.3 290.6h0.6v0.6h-0.6zM138.6 293.8h0.6v0.6h-0.6zM138.0 291.4h0.6v0.6h-0.6zM140.0 292.2h0.6v0.6h-0.6zM136.0 296.3h0.6v0.6h-0.6zM138.4 294.2h0.6v0.6h-0.6zM134.4 290.5h0.6v0.6h-0.6zM135.9 293.6h0.6v0.6h-0.6zM132.6 286.7h0.6v0.6h-0.6zM128.8 293.5h0.6v0.6h-0.6zM140.4 294.6h0.6v0.6h-0.6zM133.1 288.1h0.6v0.6h-0.6zM138.3 291.7h0.6v0.6h-0.6zM138.9 291.0h0.6v0.6h-0.6zM130.4 287.5h0.6v0.6h-0.6zM131.9 291.3h0.6v0.6h-0.6zM137.7 291.1h0.6v0.6h-0.6zM133.6 294.6h0.6v0.6h-0.6zM140.2 294.3h0.6v0.6h-0.6zM141.2 290.1h0.6v0.6h-0.6zM138.2 287.9h0.6v0.6h-0.6zM142.8 288.6h0.6v0.6h-0.6zM139.5 288.9h0.6v0.6h-0.6zM134.9 289.0h0.6v0.6h-0.6zM138.4 297.7h0.6v0.6h-0.6zM135.3 291.8h0.6v0.6h-0.6zM142.0 293.5h0.6v0.6h-0.6zM136.4 291.5h0.6v0.6h-0.6zM134.0 290.4h0.6v0.6h-0.6zM134.3 291.3h0.6v0.6h-0.6zM133.5 291.6h0.6v0.6h-0.6zM135.5 292.1h0.6v0.6h-0.6zM140.6 292.0h0.6v0.6h-0.6zM136.0 291.3h0.6v0.6h-0.6zM139.6 291.4h0.6v0.6h-0.6zM138.4 292.5h0.6v0.6h-0.6zM132.7 291.7h0.6v0.6h-0.6zM141.0 292.5h0.6v0.6h-0.6zM135.5 289.2h0.6v0.6h-0.6zM128.8 291.6h0.6v0.6h-0.6zM141.5 290.3h0.6v0.6h-0.6zM134.2 292.3h0.6v0.6h-0.6zM132.9 282.9h0.6v0.6h-0.6zM132.7 291.9h0.6v0.6h-0.6z" fill="#444"/>
<path d="M127.5 275.6h0.6v0.6h-0.6zM128.3 276.1h0.6v0.6h-0.6zM115.6 278.0h0.6v0.6h-0.6zM121.7 279.5h0.6v0.6h-0.6zM131.1 283.4h0.6v0.6h-0.6zM127.8 276.3h0.6v0.6h-0.6zM128.6 279.0h0.6v0.6h-0.6zM117.3 275.9h0.6v0.6h-0.6zM121.7 280.1h0.6v0.6h-0.6zM126.7 278.4h0.6v0.6h-0.6zM130.0 278.4h0.6v0.6h-0.6zM119.2 274.8h0.6v0.6h-0.6zM128.5 275.4h0.6v0.6h-0.6zM122.2 279.5h0.6v0.6h-0.6zM128.6 275.6h0.6v0.6h-0.6zM123.8 279.8h0.6v0.6h-0.6zM123.7 274.1h0.6v0.6h-0.6zM128.4 281.1h0.6v0.6h-0.6zM119.7 274.6h0.6v0.6h-0.6zM128.4 276.7h0.6v0.6h-0.6zM128.4 278.3h0.6v0.6h-0.6zM136.2 271.1h0.6v0.6h-0.6zM127.5 274.0h0.6v0.6h-0.6zM116.2 273.8h0.6v0.6h-0.6zM122.5 279.2h0.6v0.6h-0.6zM124.1 273.6h0.6v0.6h-0.6zM120.8 277.0h0.6v0.6h-0.6zM127.4 273.0h0.6v0.6h-0.6zM125.7 276.8h0.6v0.6h-0.6zM123.6 275.3h0.6v0.6h-0.6zM123.4 274.5h0.6v0.6h-0.6zM121.0 275.9h0.6v0.6h-0.6zM123.6 275.1h0.6v0.6h-0.6zM119.5 279.0h0.6v0.6h-0.6zM124.2 286.3h0.6v0.6h-0.6zM136.8 276.0h0.6v0.6h-0.6zM134.7 273.3h0.6v0.6h-0.6zM117.3 273.9h0.6v0.6h-0.6zM123.6 277.2h0.6v0.6h-0.6zM134.0 273.3h0.6v0.6h-0.6zM124.8 279.6h0.6v0.6h-0.6zM125.7 281.5h0.6v0.6h-0.6zM129.0 281.6h0.6v0.6h-0.6zM129.4 277.3h0.6v0.6h-0.6zM126.0 272.9h0.6v0.6h-0.6zM125.7 277.1h0.6v0.6h-0.6zM124.2 275.3h0.6v0.6h-0.6zM123.8 280.8h0.6v0.6h-0.6zM124.6 277.3h0.6v0.6h-0.6zM127.0 271.6h0.6v0.6h-0.6zM123.4 275.5h0.6v0.6h-0.6zM121.6 276.3h0.6v0.6h-0.6zM128.8 275.4h0.6v0.6h-0.6zM122.3 276.2h0.6v0.6h-0.6zM129.4 272.8h0.6v0.6h-0.6zM119.9 275.8h0.6v0.6h-0.6zM122.3 279.5h0.6v0.6h-0.6zM124.1 276.5h0.6v0.6h-0.6zM123.3 271.3h0.6v0.6h-0.6zM127.4 276.8h0.6v0.6h-0.6zM124.0 273.6h0.6v0.6h-0.6zM129.4 280.3h0.6v0.6h-0.6zM129.2 276.2h0.6v0.6h-0.6zM120.2 274.3h0.6v0.6h-0.6zM119.3 275.0h0.6v0.6h-0.6zM132.7 273.2h0.6v0.6h-0.6zM130.2 273.3h0.6v0.6h-0.6zM125.6 271.1h0.6v0.6h-0.6zM124.6 271.6h0.6v0.6h-0.6zM125.1 275.4h0.6v0.6h-0.6zM128.2 280.6h0.6v0.6h-0.6zM122.1 277.6h0.6v0.6h-0.6zM123.2 274.8h0.6v0.6h-0.6zM125.2 273.7h0.6v0.6h-0.6zM128.4 275.1h0.6v0.6h-0.6zM128.9 275.9h0.6v0.6h-0.6zM125.5 274.8h0.6v0.6h-0.6zM120.8 276.4h0.6v0.6h-0.6zM129.6 272.6h0.6v0.6h-0.6zM123.0 275.8h0.6v0.6h-0.6zM121.7 276.2h0.6v0.6h-0.6zM130.6 279.5h0.6v0.6h-0.6zM125.7 275.7h0.6v0.6h-0.6zM130.2 275.1h0.6v0.6h-0.6zM128.9 276.3h0.6v0.6h-0.6zM118.2 277.5h0.6v0.6h-0.6zM124.8 279.8h0.6v0.6h-0.6zM122.9 279.0h0.6v0.6h-0.6zM119.9 275.5h0.6v0.6h-0.6zM127.5 274.9h0.6v0.6h-0.6zM125.2 279.1h0.6v0.6h-0.6zM129.0 276.6h0.6v0.6h-0.6zM123.8 277.7h0.6v0.6h-0.6zM123.1 276.3h0.6v0.6h-0.6zM128.0 269.2h0.6v0.6h-0.6zM122.7 275.2h0.6v0.6h-0.6zM125.9 277.4h0.6v0.6h-0.6zM128.5 282.2h0.6v0.6h-0.6zM125.8 270.2h0.6v0.6h-0.6zM121.2 279.5h0.6v0.6h-0.6zM123.5 271.9h0.6v0.6h-0.6zM124.3 275.9h0.6v0.6h-0.6zM130.9 276.4h0.6v0.6h-0.6zM124.2 279.3h0.6v0.6h-0.6zM125.7 269.2h0.6v0.6h-0.6zM128.0 277.0h0.6v0.6h-0.6zM131.2 277.9h0.6v0.6h-0.6zM120.0 273.8h0.6v0.6h-0.6zM126.7 279.6h0.6v0.6h-0.6zM127.9 274.6h0.6v0.6h-0.6zM125.9 278.6h0.6v0.6h-0.6zM126.0 274.3h0.6v0.6h-0.6zM123.4 272.3h0.6v0.6h-0.6zM125.7 275.5h0.6v0.6h-0.6zM121.5 284.1h0.6v0.6h-0.6zM123.1 276.5h0.6v0.6h-0.6zM127.2 277.8h0.6v0.6h-0.6zM122.9 274.1h0.6v0.6h-0.6zM127.9 277.9h0.6v0.6h-0.6zM127.2 271.6h0.6v0.6h-0.6zM121.5 276.8h0.6v0.6h-0.6zM126.8 277.4h0.6v0.6h-0.6zM129.6 273.5h0.6v0.6h-0.6zM132.8 276.9h0.6v0.6h-0.6zM129.3 275.4h0.6v0.6h-0.6zM128.1 274.7h0.6v0.6h-0.6zM122.4 279.2h0.6v0.6h-0.6zM120.6 276.3h0.6v0.6h-0.6zM125.2 277.8h0.6v0.6h-0.6zM123.3 280.5h0.6v0.6h-0.6zM129.6 272.8h0.6v0.6h-0.6zM120.4 276.3h0.6v0.6h-0.6zM128.7 280.6h0.6v0.6h-0.6zM126.2 273.6h0.6v0.6h-0.6zM125.0 270.4h0.6v0.6h-0.6zM124.7 276.8h0.6v0.6h-0.6zM127.7 273.2h0.6v0.6h-0.6zM130.5 278.5h0.6v0.6h-0.6zM120.7 273.3h0.6v0.6h-0.6zM121.7 273.2h0.6v0.6h-0.6zM134.2 278.3h0.6v0.6h-0.6zM120.2 271.1h0.6v0.6h-0.6zM118.2 276.0h0.6v0.6h-0.6zM117.6 277.4h0.6v0.6h-0.6zM128.4 278.0h0.6v0.6h-0.6zM125.6 273.5h0.6v0.6h-0.6zM120.9 276.0h0.6v0.6h-0.6zM125.3 274.9h0.6v0.6h-0.6zM124.5 277.6h0.6v0.6h-0.6zM129.1 277.9h0.6v0.6h-0.6zM127.5 275.8h0.6v0.6h-0.6zM119.5 273.0h0.6v0.6h-0.6zM124.7 275.6h0.6v0.6h-0.6zM132.2 277.3h0.6v0.6h-0.6zM126.2 282.0h0.6v0.6h-0.6zM118.1 269.5h0.6v0.6h-0.6zM118.7 280.1h0.6v0.6h-0.6zM127.0 278.6h0.6v0.6h-0.6zM121.9 278.6h0.6v0.6h-0.6zM121.5 275.8h0.6v0.6h-0.6zM128.7 279.0h0.6v0.6h-0.6zM116.7 276.8h0.6v0.6h-0.6zM120.5 274.9h0.6v0.6h-0.6zM126.3 281.6h0.6v0.6h-0.6zM126.2 275.7h0.6v0.6h-0.6zM123.5 281.7h0.6v0.6h-0.6zM125.0 277.7h0.6v0.6h-0.6zM126.3 285.4h0.6v0.6h-0.6zM126.3 277.7h0.6v0.6h-0.6zM123.9 274.8h0.6v0.6h-0.6zM126.5 274.2h0.6v0.6h-0.6zM119.8 277.1h0.6v0.6h-0.6zM133.4 272.1h0.6v0.6h-0.6zM125.8 279.1h0.6v0.6h-0.6zM127.2 277.5h0.6v0.6h-0.6zM127.1 274.6h0.6v0.6h-0.6zM119.4 275.8h0.6v0.6h-0.6zM124.6 277.6h0.6v0.6h-0.6zM128.4 276.6h0.6v0.6h-0.6zM127.2 274.8h0.6v0.6h-0.6zM122.8 283.9h0.6v0.6h-0.6zM126.5 275.8h0.6v0.6h-0.6zM125.4 273.1h0.6v0.6h-0.6zM117.3 278.9h0.6v0.6h-0.6zM130.5 276.7h0.6v0.6h-0.6zM133.3 270.7h0.6v0.6h-0.6zM126.4 272.9h0.6v0.6h-0.6zM122.9 284.6h0.6v0.6h-0.6zM127.2 276.5h0.6v0.6h-0.6zM122.4 284.7h0.6v0.6h-0.6zM117.7 280.5h0.6v0.6h-0.6zM128.2 277.7h0.6v0.6h-0.6zM124.9 276.9h0.6v0.6h-0.6zM126.4 271.0h0.6v0.6h-0.6zM122.1 274.5h0.6v0.6h-0.6zM120.8 272.3h0.6v0.6h-0.6zM123.6 279.8h0.6v0.6h-0.6zM135.0 276.7h0.6v0.6h-0.6zM127.8 276.9h0.6v0.6h-0.6zM126.0 275.9h0.6v0.6h-0.6zM127.0 279.6h0.6v0.6h-0.6zM134.4 276.5h0.6v0.6h-0.6zM126.6 281.1h0.6v0.6h-0.6zM125.4 279.7h0.6v0.6h-0.6zM127.0 274.9h0.6v0.6h-0.6zM124.5 283.4h0.6v0.6h-0.6zM125.4 277.8h0.6v0.6h-0.6zM121.0 276.0h0.6v0.6h-0.6zM122.9 278.3h0.6v0.6h-0.6zM120.6 268.9h0.6v0.6h-0.6zM126.2 278.3h0.6v0.6h-0.6zM130.1 278.3h0.6v0.6h-0.6zM127.4 277.4h0.6v0.6h-0.6zM128.0 270.1h0.6v0.6h-0.6zM115.0 276.5h0.6v0.6h-0.6zM125.2 281.3h0.6v0.6h-0.6zM123.7 272.2h0.6v0.6h-0.6zM123.5 278.1h0.6v0.6h-0.6zM128.4 281.5h0.6v0.6h-0.6zM123.4 272.6h0.6v0.6h-0.6zM125.2 275.4h0.6v0.6h-0.6zM128.0 272.4h0.6v0.6h-0.6zM123.8 274.5h0.6v0.6h-0.6zM128.5 275.5h0.6v0.6h-0.6zM115.9 286.6h0.6v0.6h-0.6zM118.2 275.1h0.6v0.6h-0.6zM128.1 270.7h0.6v0.6h-0.6zM122.2 276.5h0.6v0.6h-0.6zM122.2 275.8h0.6v0.6h-0.6zM122.7 276.4h0.6v0.6h-0.6zM129.6 276.3h0.6v0.6h-0.6zM124.1 272.0h0.6v0.6h-0.6zM121.4 278.2h0.6v0.6h-0.6zM133.9 276.7h0.6v0.6h-0.6zM127.9 277.3h0.6v0.6h-0.6zM121.6 276.3h0.6v0.6h-0.6zM123.7 270.1h0.6v0.6h-0.6zM127.0 281.0h0.6v0.6h-0.6zM126.7 276.5h0.6v0.6h-0.6zM123.0 272.2h0.6v0.6h-0.6zM126.2 272.0h0.6v0.6h-0.6zM127.4 274.4h0.6v0.6h-0.6zM124.2 276.2h0.6v0.6h-0.6zM132.4 277.1h0.6v0.6h-0.6zM121.2 280.8h0.6v0.6h-0.6zM129.7 279.6h0.6v0.6h-0.6zM135.3 275.8h0.6v0.6h-0.6zM124.3 275.9h0.6v0.6h-0.6zM118.4 277.6h0.6v0.6h-0.6zM117.2 276.1h0.6v0.6h-0.6zM119.6 280.6h0.6v0.6h-0.6zM124.4 271.8h0.6v0.6h-0.6zM122.2 280.0h0.6v0.6h-0.6zM122.6 276.1h0.6v0.6h-0.6zM126.7 281.2h0.6v0.6h-0.6zM125.9 285.2h0.6v0.6h-0.6zM127.3 277.2h0.6v0.6h-0.6zM124.8 277.5h0.6v0.6h-0.6zM127.4 278.5h0.6v0.6h-0.6zM129.1 275.5h0.6v0.6h-0.6zM123.1 276.2h0.6v0.6h-0.6zM118.6 281.7h0.6v0.6h-0.6zM129.0 274.3h0.6v0.6h-0.6zM125.7 270.4h0.6v0.6h-0.6zM122.0 278.4h0.6v0.6h-0.6zM127.8 275.1h0.6v0.6h-0.6zM125.8 274.0h0.6v0.6h-0.6zM137.5 276.0h0.6v0.6h-0.6zM123.8 277.7h0.6v0.6h-0.6zM131.1 276.4h0.6v0.6h-0.6zM127.6 274.1h0.6v0.6h-0.6zM123.2 275.0h0.6v0.6h-0.6zM126.0 282.0h0.6v0.6h-0.6zM126.0 278.8h0.6v0.6h-0.6zM124.1 274.3h0.6v0.6h-0.6zM134.6 272.6h0.6v0.6h-0.6zM118.7 272.6h0.6v0.6h-0.6zM126.4 275.3h0.6v0.6h-0.6zM121.3 279.0h0.6v0.6h-0.6zM126.1 275.2h0.6v0.6h-0.6zM128.7 274.2h0.6v0.6h-0.6zM125.9 274.2h0.6v0.6h-0.6zM125.4 278.5h0.6v0.6h-0.6zM128.4 281.7h0.6v0.6h-0.6zM125.9 278.8h0.6v0.6h-0.6zM123.6 277.0h0.6v0.6h-0.6zM119.3 278.4h0.6v0.6h-0.6zM120.9 272.3h0.6v0.6h-0.6zM126.9 277.7h0.6v0.6h-0.6zM121.8 278.5h0.6v0.6h-0.6zM127.0 275.0h0.6v0.6h-0.6zM123.0 276.4h0.6v0.6h-0.6zM120.4 274.5h0.6v0.6h-0.6zM121.6 275.3h0.6v0.6h-0.6zM128.3 273.1h0.6v0.6h-0.6zM126.7 273.4h0.6v0.6h-0.6zM122.8 273.9h0.6v0.6h-0.6zM129.3 279.0h0.6v0.6h-0.6zM130.6 278.6h0.6v0.6h-0.6zM133.0 277.5h0.6v0.6h-0.6zM122.5 274.8h0.6v0.6h-0.6zM115.3 281.3h0.6v0.6h-0.6zM119.2 274.1h0.6v0.6h-0.6zM126.7 274.3h0.6v0.6h-0.6zM126.8 279.2h0.6v0.6h-0.6zM119.8 276.8h0.6v0.6h-0.6zM123.8 273.9h0.6v0.6h-0.6zM123.9 280.9h0.6v0.6h-0.6zM126.3 283.9h0.6v0.6h-0.6zM123.5 278.5h0.6v0.6h-0.6zM123.1 272.6h0.6v0.6h-0.6zM131.9 273.4h0.6v0.6h-0.6zM125.7 271.0h0.6v0.6h-0.6zM126.3 274.1h0.6v0.6h-0.6zM125.4 276.7h0.6v0.6h-0.6zM122.5 283.8h0.6v0.6h-0.6zM129.6 271.6h0.6v0.6h-0.6zM125.5 278.4h0.6v0.6h-0.6zM124.3 277.6h0.6v0.6h-0.6zM131.5 279.9h0.6v0.6h-0.6zM119.7 276.4h0.6v0.6h-0.6zM123.9 277.3h0.6v0.6h-0.6zM131.0 281.3h0.6v0.6h-0.6zM124.8 274.2h0.6v0.6h-0.6zM132.5 273.7h0.6v0.6h-0.6zM121.0 279.3h0.6v0.6h-0.6zM123.5 278.7h0.6v0.6h-0.6zM122.6 277.2h0.6v0.6h-0.6zM130.0 280.8h0.6v0.6h-0.6zM125.1 272.9h0.6v0.6h-0.6zM123.5 276.4h0.6v0.6h-0.6zM126.0 277.1h0.6v0.6h-0.6zM131.5 277.2h0.6v0.6h-0.6zM126.3 283.4h0.6v0.6h-0.6zM126.4 275.0h0.6v0.6h-0.6zM117.1 274.5h0.6v0.6h-0.6zM126.6 277.6h0.6v0.6h-0.6zM130.5 272.2h0.6v0.6h-0.6zM127.2 280.6h0.6v0.6h-0.6zM116.6 282.6h0.6v0.6h-0.6zM120.6 273.3h0.6v0.6h-0.6zM129.1 277.9h0.6v0.6h-0.6zM131.4 273.8h0.6v0.6h-0.6zM125.5 273.8h0.6v0.6h-0.6zM129.9 274.3h0.6v0.6h-0.6zM123.7 279.9h0.6v0.6h-0.6zM119.6 278.8h0.6v0.6h-0.6zM126.3 281.1h0.6v0.6h-0.6zM124.3 279.7h0.6v0.6h-0.6zM125.7 278.9h0.6v0.6h-0.6zM130.2 274.4h0.6v0.6h-0.6zM129.9 273.3h0.6v0.6h-0.6zM127.1 277.9h0.6v0.6h-0.6zM124.5 278.9h0.6v0.6h-0.6zM121.6 274.6h0.6v0.6h-0.6zM122.9 277.6h0.6v0.6h-0.6zM121.3 281.0h0.6v0.6h-0.6zM127.2 275.1h0.6v0.6h-0.6zM133.0 282.8h0.6v0.6h-0.6zM124.8 276.2h0.6v0.6h-0.6zM122.1 276.9h0.6v0.6h-0.6zM133.5 274.1h0.6v0.6h-0.6zM127.7 274.9h0.6v0.6h-0.6zM125.8 278.1h0.6v0.6h-0.6zM123.9 274.3h0.6v0.6h-0.6zM126.0 278.3h0.6v0.6h-0.6zM123.4 276.1h0.6v0.6h-0.6zM128.3 277.7h0.6v0.6h-0.6zM127.9 276.2h0.6v0.6h-0.6zM128.7 272.8h0.6v0.6h-0.6zM135.0 278.9h0.6v0.6h-0.6zM121.6 283.7h0.6v0.6h-0.6zM125.8 276.9h0.6v0.6h-0.6zM122.7 282.5h0.6v0.6h-0.6z" fill="#333"/>
<path d="M116.5 302.8h0.6v0.6h-0.6zM128.8 293.8h0.6v0.6h-0.6zM132.0 308.7h0.6v0.6h-0.6zM126.2 303.1h0.6v0.6h-0.6zM130.8 306.3h0.6v0.6h-0.6zM127.3 288.5h0.6v0.6h-0.6zM126.3 293.6h0.6v0.6h-0.6zM137.2 296.2h0.6v0.6h-0.6zM129.9 288.9h0.6v0.6h-0.6zM117.3 300.5h0.6v0.6h-0.6zM123.5 298.4h0.6v0.6h-0.6zM118.6 307.5h0.6v0.6h-0.6zM125.4 299.0h0.6v0.6h-0.6zM116.1 306.6h0.6v0.6h-0.6zM117.4 307.0h0.6v0.6h-0.6zM120.4 303.2h0.6v0.6h-0.6zM133.3 298.5h0.6v0.6h-0.6zM118.2 288.9h0.6v0.6h-0.6zM123.5 306.8h0.6v0.6h-0.6zM134.8 296.2h0.6v0.6h-0.6zM124.0 299.2h0.6v0.6h-0.6zM117.3 307.6h0.6v0.6h-0.6zM117.3 310.5h0.6v0.6h-0.6zM121.0 304.9h0.6v0.6h-0.6zM127.0 292.3h0.6v0.6h-0.6zM123.2 295.0h0.6v0.6h-0.6zM119.1 310.9h0.6v0.6h-0.6zM129.0 302.4h0.6v0.6h-0.6zM125.0 309.1h0.6v0.6h-0.6zM116.7 299.6h0.6v0.6h-0.6zM115.3 293.9h0.6v0.6h-0.6zM121.0 299.2h0.6v0.6h-0.6zM115.2 297.4h0.6v0.6h-0.6zM127.7 312.3h0.6v0.6h-0.6zM117.6 300.7h0.6v0.6h-0.6zM127.0 288.7h0.6v0.6h-0.6zM120.1 301.7h0.6v0.6h-0.6zM115.2 296.9h0.6v0.6h-0.6zM123.6 288.5h0.6v0.6h-0.6zM117.1 307.5h0.6v0.6h-0.6zM124.3 290.5h0.6v0.6h-0.6zM122.7 301.3h0.6v0.6h-0.6zM117.9 295.7h0.6v0.6h-0.6zM126.4 291.6h0.6v0.6h-0.6zM124.7 299.0h0.6v0.6h-0.6zM123.8 295.7h0.6v0.6h-0.6zM122.3 310.3h0.6v0.6h-0.6zM120.5 310.7h0.6v0.6h-0.6zM131.4 302.6h0.6v0.6h-0.6zM114.9 309.5h0.6v0.6h-0.6zM122.6 304.1h0.6v0.6h-0.6zM120.4 286.0h0.6v0.6h-0.6zM124.6 308.4h0.6v0.6h-0.6zM118.0 303.4h0.6v0.6h-0.6zM115.1 296.3h0.6v0.6h-0.6zM124.2 307.2h0.6v0.6h-0.6zM117.2 288.4h0.6v0.6h-0.6zM120.9 292.2h0.6v0.6h-0.6zM122.5 303.0h0.6v0.6h-0.6zM120.1 307.2h0.6v0.6h-0.6zM121.6 290.9h0.6v0.6h-0.6zM122.7 295.1h0.6v0.6h-0.6z" fill="#aaa"/>
<path d="M127 276 C131 272 138 269.5 147 266.8 C151 265.8 152.5 268 151.5 271.5 L148 283 C146.5 287.5 142 289 137.5 288.5 C132 287 128.5 284 127 280.5 Z" fill="#3a3a3a" filter="url(#b2)"/>
<path d="M129 276.8 C132 273 139 270.2 147.4 267.6 C150 267 151 268.6 150.6 270.6 L147 282.6 C145.6 286.3 141.6 287.3 138.3 286.6 C134 285.5 131 283.5 129.7 280.8 C129 279.4 128.8 278 129 276.8 Z" fill="#1a1a1a" filter="url(#b1)"/>
<path d="M131 277.3 C133 274 140 271 147.2 268.6 C149 268 149.6 269 149.3 270.5 L145.8 281.5 C144.5 284.5 141.5 285.5 138.5 284.8 C135 283.5 133 282 131.8 279.8 C131.2 278.8 130.9 278 131 277.3 Z" fill="#f4f4f4" stroke="#0e0e0e" stroke-width="1.1"/>
<path d="M134 277.4 C136 275.3 141 273.5 145.8 271.6 C147 271.3 147.3 272 147 273 L144.4 280.6 C143.5 282.8 141.5 283.2 139.5 282.7 C137 281.8 135.3 280.6 134.4 279.2 C134 278.5 133.9 277.9 134 277.4 Z" fill="none" stroke="#aaa" stroke-width="0.5"/>
<ellipse cx="140.6" cy="277.2" rx="3.6" ry="4" fill="#cfcfcf" stroke="#888" stroke-width="0.5"/>
<ellipse cx="140.4" cy="277.4" rx="2.1" ry="2.5" fill="none" stroke="#222" stroke-width="1.1"/>
<ellipse cx="140.9" cy="277" rx="0.7" ry="0.9" fill="#999"/>
</g>
<line x1="28.3" y1="53.5" x2="91.6" y2="53.5" stroke="#8a8a8a" stroke-width="0.9"/>
<line x1="91.6" y1="53.5" x2="91.6" y2="118" stroke="#8a8a8a" stroke-width="0.9"/>
<line x1="28.3" y1="53.05" x2="28.3" y2="118.45" stroke="#4a4a4a" stroke-width="1"/>
<line x1="27.85" y1="118" x2="92.05" y2="118" stroke="#4a4a4a" stroke-width="1"/>
<text x="24.6" y="119.4" font-size="3.6" stroke="#555" stroke-width="0.1" text-anchor="end" fill="#555">10</text>
<text x="26.7" y="117.7" font-size="2.4" stroke="#555" stroke-width="0.08" text-anchor="end" fill="#555">0</text>
<text x="28.1" y="122.7" font-size="3.6" stroke="#555" stroke-width="0.1" text-anchor="middle" fill="#555">10</text>
<text x="30.6" y="121.1" font-size="2.4" stroke="#555" stroke-width="0.08" text-anchor="middle" fill="#555">0</text>
<text x="24.6" y="103.28" font-size="3.6" stroke="#555" stroke-width="0.1" text-anchor="end" fill="#555">10</text>
<text x="26.7" y="101.58" font-size="2.4" stroke="#555" stroke-width="0.08" text-anchor="end" fill="#555">1</text>
<text x="43.92" y="122.7" font-size="3.6" stroke="#555" stroke-width="0.1" text-anchor="middle" fill="#555">10</text>
<text x="46.42" y="121.1" font-size="2.4" stroke="#555" stroke-width="0.08" text-anchor="middle" fill="#555">1</text>
<text x="24.6" y="87.15" font-size="3.6" stroke="#555" stroke-width="0.1" text-anchor="end" fill="#555">10</text>
<text x="26.7" y="85.45" font-size="2.4" stroke="#555" stroke-width="0.08" text-anchor="end" fill="#555">2</text>
<text x="59.75" y="122.7" font-size="3.6" stroke="#555" stroke-width="0.1" text-anchor="middle" fill="#555">10</text>
<text x="62.25" y="121.1" font-size="2.4" stroke="#555" stroke-width="0.08" text-anchor="middle" fill="#555">2</text>
<text x="24.6" y="71.03" font-size="3.6" stroke="#555" stroke-width="0.1" text-anchor="end" fill="#555">10</text>
<text x="26.7" y="69.33" font-size="2.4" stroke="#555" stroke-width="0.08" text-anchor="end" fill="#555">3</text>
<text x="75.57" y="122.7" font-size="3.6" stroke="#555" stroke-width="0.1" text-anchor="middle" fill="#555">10</text>
<text x="78.07" y="121.1" font-size="2.4" stroke="#555" stroke-width="0.08" text-anchor="middle" fill="#555">3</text>
<text x="24.6" y="54.9" font-size="3.6" stroke="#555" stroke-width="0.1" text-anchor="end" fill="#555">10</text>
<text x="26.7" y="53.2" font-size="2.4" stroke="#555" stroke-width="0.08" text-anchor="end" fill="#555">4</text>
<text x="91.4" y="122.7" font-size="3.6" stroke="#555" stroke-width="0.1" text-anchor="middle" fill="#555">10</text>
<text x="93.9" y="121.1" font-size="2.4" stroke="#555" stroke-width="0.08" text-anchor="middle" fill="#555">4</text>
<text x="19.9" y="97.4" font-size="8.2" stroke="#231f20" stroke-width="0.15" textLength="20.4" lengthAdjust="spacingAndGlyphs" fill="#231f20" transform="rotate(-90 19.9 97.4)">hCD45</text>
<text x="48.65" y="131.5" font-size="7.6" stroke="#231f20" stroke-width="0.12" textLength="22.6" lengthAdjust="spacingAndGlyphs" fill="#231f20">mCD45</text>
<line x1="114.3" y1="53.5" x2="178" y2="53.5" stroke="#8a8a8a" stroke-width="0.9"/>
<line x1="178" y1="53.5" x2="178" y2="118" stroke="#8a8a8a" stroke-width="0.9"/>
<line x1="114.3" y1="53.05" x2="114.3" y2="118.45" stroke="#4a4a4a" stroke-width="1"/>
<line x1="113.85" y1="118" x2="178.45" y2="118" stroke="#4a4a4a" stroke-width="1"/>
<text x="110.6" y="119.4" font-size="3.6" stroke="#555" stroke-width="0.1" text-anchor="end" fill="#555">10</text>
<text x="112.7" y="117.7" font-size="2.4" stroke="#555" stroke-width="0.08" text-anchor="end" fill="#555">0</text>
<text x="114.1" y="122.7" font-size="3.6" stroke="#555" stroke-width="0.1" text-anchor="middle" fill="#555">10</text>
<text x="116.6" y="121.1" font-size="2.4" stroke="#555" stroke-width="0.08" text-anchor="middle" fill="#555">0</text>
<text x="110.6" y="103.28" font-size="3.6" stroke="#555" stroke-width="0.1" text-anchor="end" fill="#555">10</text>
<text x="112.7" y="101.58" font-size="2.4" stroke="#555" stroke-width="0.08" text-anchor="end" fill="#555">1</text>
<text x="130.03" y="122.7" font-size="3.6" stroke="#555" stroke-width="0.1" text-anchor="middle" fill="#555">10</text>
<text x="132.53" y="121.1" font-size="2.4" stroke="#555" stroke-width="0.08" text-anchor="middle" fill="#555">1</text>
<text x="110.6" y="87.15" font-size="3.6" stroke="#555" stroke-width="0.1" text-anchor="end" fill="#555">10</text>
<text x="112.7" y="85.45" font-size="2.4" stroke="#555" stroke-width="0.08" text-anchor="end" fill="#555">2</text>
<text x="145.95" y="122.7" font-size="3.6" stroke="#555" stroke-width="0.1" text-anchor="middle" fill="#555">10</text>
<text x="148.45" y="121.1" font-size="2.4" stroke="#555" stroke-width="0.08" text-anchor="middle" fill="#555">2</text>
<text x="110.6" y="71.03" font-size="3.6" stroke="#555" stroke-width="0.1" text-anchor="end" fill="#555">10</text>
<text x="112.7" y="69.33" font-size="2.4" stroke="#555" stroke-width="0.08" text-anchor="end" fill="#555">3</text>
<text x="161.88" y="122.7" font-size="3.6" stroke="#555" stroke-width="0.1" text-anchor="middle" fill="#555">10</text>
<text x="164.38" y="121.1" font-size="2.4" stroke="#555" stroke-width="0.08" text-anchor="middle" fill="#555">3</text>
<text x="110.6" y="54.9" font-size="3.6" stroke="#555" stroke-width="0.1" text-anchor="end" fill="#555">10</text>
<text x="112.7" y="53.2" font-size="2.4" stroke="#555" stroke-width="0.08" text-anchor="end" fill="#555">4</text>
<text x="177.8" y="122.7" font-size="3.6" stroke="#555" stroke-width="0.1" text-anchor="middle" fill="#555">10</text>
<text x="180.3" y="121.1" font-size="2.4" stroke="#555" stroke-width="0.08" text-anchor="middle" fill="#555">4</text>
<text x="106.3" y="97.45" font-size="8.2" stroke="#231f20" stroke-width="0.15" textLength="21.5" lengthAdjust="spacingAndGlyphs" fill="#231f20" transform="rotate(-90 106.3 97.45)">hCD33</text>
<text x="135.4" y="131.5" font-size="7.6" stroke="#231f20" stroke-width="0.12" textLength="21.5" lengthAdjust="spacingAndGlyphs" fill="#231f20">hCD19</text>
<line x1="200" y1="54.3" x2="263.6" y2="54.3" stroke="#8a8a8a" stroke-width="0.9"/>
<line x1="263.6" y1="54.3" x2="263.6" y2="118.6" stroke="#8a8a8a" stroke-width="0.9"/>
<line x1="200" y1="53.85" x2="200" y2="119.05" stroke="#4a4a4a" stroke-width="1"/>
<line x1="199.55" y1="118.6" x2="264.05" y2="118.6" stroke="#4a4a4a" stroke-width="1"/>
<text x="196.3" y="120" font-size="3.6" stroke="#555" stroke-width="0.1" text-anchor="end" fill="#555">10</text>
<text x="198.4" y="118.3" font-size="2.4" stroke="#555" stroke-width="0.08" text-anchor="end" fill="#555">0</text>
<text x="199.8" y="123.3" font-size="3.6" stroke="#555" stroke-width="0.1" text-anchor="middle" fill="#555">10</text>
<text x="202.3" y="121.7" font-size="2.4" stroke="#555" stroke-width="0.08" text-anchor="middle" fill="#555">0</text>
<text x="196.3" y="103.92" font-size="3.6" stroke="#555" stroke-width="0.1" text-anchor="end" fill="#555">10</text>
<text x="198.4" y="102.22" font-size="2.4" stroke="#555" stroke-width="0.08" text-anchor="end" fill="#555">1</text>
<text x="215.7" y="123.3" font-size="3.6" stroke="#555" stroke-width="0.1" text-anchor="middle" fill="#555">10</text>
<text x="218.2" y="121.7" font-size="2.4" stroke="#555" stroke-width="0.08" text-anchor="middle" fill="#555">1</text>
<text x="196.3" y="87.85" font-size="3.6" stroke="#555" stroke-width="0.1" text-anchor="end" fill="#555">10</text>
<text x="198.4" y="86.15" font-size="2.4" stroke="#555" stroke-width="0.08" text-anchor="end" fill="#555">2</text>
<text x="231.6" y="123.3" font-size="3.6" stroke="#555" stroke-width="0.1" text-anchor="middle" fill="#555">10</text>
<text x="234.1" y="121.7" font-size="2.4" stroke="#555" stroke-width="0.08" text-anchor="middle" fill="#555">2</text>
<text x="196.3" y="71.78" font-size="3.6" stroke="#555" stroke-width="0.1" text-anchor="end" fill="#555">10</text>
<text x="198.4" y="70.08" font-size="2.4" stroke="#555" stroke-width="0.08" text-anchor="end" fill="#555">3</text>
<text x="247.5" y="123.3" font-size="3.6" stroke="#555" stroke-width="0.1" text-anchor="middle" fill="#555">10</text>
<text x="250" y="121.7" font-size="2.4" stroke="#555" stroke-width="0.08" text-anchor="middle" fill="#555">3</text>
<text x="196.3" y="55.7" font-size="3.6" stroke="#555" stroke-width="0.1" text-anchor="end" fill="#555">10</text>
<text x="198.4" y="54" font-size="2.4" stroke="#555" stroke-width="0.08" text-anchor="end" fill="#555">4</text>
<text x="263.4" y="123.3" font-size="3.6" stroke="#555" stroke-width="0.1" text-anchor="middle" fill="#555">10</text>
<text x="265.9" y="121.7" font-size="2.4" stroke="#555" stroke-width="0.08" text-anchor="middle" fill="#555">4</text>
<text x="191.3" y="97.75" font-size="8.2" stroke="#231f20" stroke-width="0.15" textLength="21.5" lengthAdjust="spacingAndGlyphs" fill="#231f20" transform="rotate(-90 191.3 97.75)">hCD34</text>
<text x="221.05" y="131.5" font-size="7.6" stroke="#231f20" stroke-width="0.12" textLength="21.5" lengthAdjust="spacingAndGlyphs" fill="#231f20">hCD38</text>
<line x1="27.3" y1="150.7" x2="90.9" y2="150.7" stroke="#8a8a8a" stroke-width="0.9"/>
<line x1="90.9" y1="150.7" x2="90.9" y2="215.9" stroke="#8a8a8a" stroke-width="0.9"/>
<line x1="27.3" y1="150.25" x2="27.3" y2="216.35" stroke="#4a4a4a" stroke-width="1"/>
<line x1="26.85" y1="215.9" x2="91.35" y2="215.9" stroke="#4a4a4a" stroke-width="1"/>
<text x="23.6" y="217.3" font-size="3.6" stroke="#555" stroke-width="0.1" text-anchor="end" fill="#555">10</text>
<text x="25.7" y="215.6" font-size="2.4" stroke="#555" stroke-width="0.08" text-anchor="end" fill="#555">0</text>
<text x="27.1" y="220.6" font-size="3.6" stroke="#555" stroke-width="0.1" text-anchor="middle" fill="#555">10</text>
<text x="29.6" y="219" font-size="2.4" stroke="#555" stroke-width="0.08" text-anchor="middle" fill="#555">0</text>
<text x="23.6" y="201" font-size="3.6" stroke="#555" stroke-width="0.1" text-anchor="end" fill="#555">10</text>
<text x="25.7" y="199.3" font-size="2.4" stroke="#555" stroke-width="0.08" text-anchor="end" fill="#555">1</text>
<text x="43" y="220.6" font-size="3.6" stroke="#555" stroke-width="0.1" text-anchor="middle" fill="#555">10</text>
<text x="45.5" y="219" font-size="2.4" stroke="#555" stroke-width="0.08" text-anchor="middle" fill="#555">1</text>
<text x="23.6" y="184.7" font-size="3.6" stroke="#555" stroke-width="0.1" text-anchor="end" fill="#555">10</text>
<text x="25.7" y="183" font-size="2.4" stroke="#555" stroke-width="0.08" text-anchor="end" fill="#555">2</text>
<text x="58.9" y="220.6" font-size="3.6" stroke="#555" stroke-width="0.1" text-anchor="middle" fill="#555">10</text>
<text x="61.4" y="219" font-size="2.4" stroke="#555" stroke-width="0.08" text-anchor="middle" fill="#555">2</text>
<text x="23.6" y="168.4" font-size="3.6" stroke="#555" stroke-width="0.1" text-anchor="end" fill="#555">10</text>
<text x="25.7" y="166.7" font-size="2.4" stroke="#555" stroke-width="0.08" text-anchor="end" fill="#555">3</text>
<text x="74.8" y="220.6" font-size="3.6" stroke="#555" stroke-width="0.1" text-anchor="middle" fill="#555">10</text>
<text x="77.3" y="219" font-size="2.4" stroke="#555" stroke-width="0.08" text-anchor="middle" fill="#555">3</text>
<text x="23.6" y="152.1" font-size="3.6" stroke="#555" stroke-width="0.1" text-anchor="end" fill="#555">10</text>
<text x="25.7" y="150.4" font-size="2.4" stroke="#555" stroke-width="0.08" text-anchor="end" fill="#555">4</text>
<text x="90.7" y="220.6" font-size="3.6" stroke="#555" stroke-width="0.1" text-anchor="middle" fill="#555">10</text>
<text x="93.2" y="219" font-size="2.4" stroke="#555" stroke-width="0.08" text-anchor="middle" fill="#555">4</text>
<text x="19.6" y="190.9" font-size="8.2" stroke="#231f20" stroke-width="0.15" textLength="17.8" lengthAdjust="spacingAndGlyphs" fill="#231f20" transform="rotate(-90 19.6 190.9)">hCD3</text>
<text x="46.85" y="229.6" font-size="7.6" stroke="#231f20" stroke-width="0.12" textLength="24.5" lengthAdjust="spacingAndGlyphs" fill="#231f20">hNKp46</text>
<line x1="113.9" y1="150.7" x2="178.3" y2="150.7" stroke="#8a8a8a" stroke-width="0.9"/>
<line x1="178.3" y1="150.7" x2="178.3" y2="215.9" stroke="#8a8a8a" stroke-width="0.9"/>
<line x1="113.9" y1="150.25" x2="113.9" y2="216.35" stroke="#4a4a4a" stroke-width="1"/>
<line x1="113.45" y1="215.9" x2="178.75" y2="215.9" stroke="#4a4a4a" stroke-width="1"/>
<text x="110.2" y="217.3" font-size="3.6" stroke="#555" stroke-width="0.1" text-anchor="end" fill="#555">10</text>
<text x="112.3" y="215.6" font-size="2.4" stroke="#555" stroke-width="0.08" text-anchor="end" fill="#555">0</text>
<text x="113.7" y="220.6" font-size="3.6" stroke="#555" stroke-width="0.1" text-anchor="middle" fill="#555">10</text>
<text x="116.2" y="219" font-size="2.4" stroke="#555" stroke-width="0.08" text-anchor="middle" fill="#555">0</text>
<text x="110.2" y="201" font-size="3.6" stroke="#555" stroke-width="0.1" text-anchor="end" fill="#555">10</text>
<text x="112.3" y="199.3" font-size="2.4" stroke="#555" stroke-width="0.08" text-anchor="end" fill="#555">1</text>
<text x="129.8" y="220.6" font-size="3.6" stroke="#555" stroke-width="0.1" text-anchor="middle" fill="#555">10</text>
<text x="132.3" y="219" font-size="2.4" stroke="#555" stroke-width="0.08" text-anchor="middle" fill="#555">1</text>
<text x="110.2" y="184.7" font-size="3.6" stroke="#555" stroke-width="0.1" text-anchor="end" fill="#555">10</text>
<text x="112.3" y="183" font-size="2.4" stroke="#555" stroke-width="0.08" text-anchor="end" fill="#555">2</text>
<text x="145.9" y="220.6" font-size="3.6" stroke="#555" stroke-width="0.1" text-anchor="middle" fill="#555">10</text>
<text x="148.4" y="219" font-size="2.4" stroke="#555" stroke-width="0.08" text-anchor="middle" fill="#555">2</text>
<text x="110.2" y="168.4" font-size="3.6" stroke="#555" stroke-width="0.1" text-anchor="end" fill="#555">10</text>
<text x="112.3" y="166.7" font-size="2.4" stroke="#555" stroke-width="0.08" text-anchor="end" fill="#555">3</text>
<text x="162" y="220.6" font-size="3.6" stroke="#555" stroke-width="0.1" text-anchor="middle" fill="#555">10</text>
<text x="164.5" y="219" font-size="2.4" stroke="#555" stroke-width="0.08" text-anchor="middle" fill="#555">3</text>
<text x="110.2" y="152.1" font-size="3.6" stroke="#555" stroke-width="0.1" text-anchor="end" fill="#555">10</text>
<text x="112.3" y="150.4" font-size="2.4" stroke="#555" stroke-width="0.08" text-anchor="end" fill="#555">4</text>
<text x="178.1" y="220.6" font-size="3.6" stroke="#555" stroke-width="0.1" text-anchor="middle" fill="#555">10</text>
<text x="180.6" y="219" font-size="2.4" stroke="#555" stroke-width="0.08" text-anchor="middle" fill="#555">4</text>
<text x="106.8" y="194.3" font-size="8.2" stroke="#231f20" stroke-width="0.15" textLength="21.6" lengthAdjust="spacingAndGlyphs" fill="#231f20" transform="rotate(-90 106.8 194.3)">hCD41</text>
<text x="133.35" y="229.6" font-size="7.6" stroke="#231f20" stroke-width="0.12" textLength="25.5" lengthAdjust="spacingAndGlyphs" fill="#231f20">hCD235a</text>
<line x1="27.6" y1="248.3" x2="91" y2="248.3" stroke="#8a8a8a" stroke-width="0.9"/>
<line x1="91" y1="248.3" x2="91" y2="313.3" stroke="#8a8a8a" stroke-width="0.9"/>
<line x1="27.6" y1="247.85" x2="27.6" y2="313.75" stroke="#4a4a4a" stroke-width="1"/>
<line x1="27.15" y1="313.3" x2="91.45" y2="313.3" stroke="#4a4a4a" stroke-width="1"/>
<text x="23.9" y="314.7" font-size="3.6" stroke="#555" stroke-width="0.1" text-anchor="end" fill="#555">10</text>
<text x="26" y="313" font-size="2.4" stroke="#555" stroke-width="0.08" text-anchor="end" fill="#555">0</text>
<text x="27.4" y="318" font-size="3.6" stroke="#555" stroke-width="0.1" text-anchor="middle" fill="#555">10</text>
<text x="29.9" y="316.4" font-size="2.4" stroke="#555" stroke-width="0.08" text-anchor="middle" fill="#555">0</text>
<text x="23.9" y="298.45" font-size="3.6" stroke="#555" stroke-width="0.1" text-anchor="end" fill="#555">10</text>
<text x="26" y="296.75" font-size="2.4" stroke="#555" stroke-width="0.08" text-anchor="end" fill="#555">1</text>
<text x="43.25" y="318" font-size="3.6" stroke="#555" stroke-width="0.1" text-anchor="middle" fill="#555">10</text>
<text x="45.75" y="316.4" font-size="2.4" stroke="#555" stroke-width="0.08" text-anchor="middle" fill="#555">1</text>
<text x="23.9" y="282.2" font-size="3.6" stroke="#555" stroke-width="0.1" text-anchor="end" fill="#555">10</text>
<text x="26" y="280.5" font-size="2.4" stroke="#555" stroke-width="0.08" text-anchor="end" fill="#555">2</text>
<text x="59.1" y="318" font-size="3.6" stroke="#555" stroke-width="0.1" text-anchor="middle" fill="#555">10</text>
<text x="61.6" y="316.4" font-size="2.4" stroke="#555" stroke-width="0.08" text-anchor="middle" fill="#555">2</text>
<text x="23.9" y="265.95" font-size="3.6" stroke="#555" stroke-width="0.1" text-anchor="end" fill="#555">10</text>
<text x="26" y="264.25" font-size="2.4" stroke="#555" stroke-width="0.08" text-anchor="end" fill="#555">3</text>
<text x="74.95" y="318" font-size="3.6" stroke="#555" stroke-width="0.1" text-anchor="middle" fill="#555">10</text>
<text x="77.45" y="316.4" font-size="2.4" stroke="#555" stroke-width="0.08" text-anchor="middle" fill="#555">3</text>
<text x="23.9" y="249.7" font-size="3.6" stroke="#555" stroke-width="0.1" text-anchor="end" fill="#555">10</text>
<text x="26" y="248" font-size="2.4" stroke="#555" stroke-width="0.08" text-anchor="end" fill="#555">4</text>
<text x="90.8" y="318" font-size="3.6" stroke="#555" stroke-width="0.1" text-anchor="middle" fill="#555">10</text>
<text x="93.3" y="316.4" font-size="2.4" stroke="#555" stroke-width="0.08" text-anchor="middle" fill="#555">4</text>
<text x="19.9" y="294.5" font-size="8.2" stroke="#231f20" stroke-width="0.15" textLength="21" lengthAdjust="spacingAndGlyphs" fill="#231f20" transform="rotate(-90 19.9 294.5)">hCD45</text>
<text x="51.05" y="327.2" font-size="7.6" stroke="#231f20" stroke-width="0.12" textLength="16.5" lengthAdjust="spacingAndGlyphs" fill="#231f20">hCD3</text>
<line x1="114.3" y1="248.3" x2="178.3" y2="248.3" stroke="#8a8a8a" stroke-width="0.9"/>
<line x1="178.3" y1="248.3" x2="178.3" y2="313.3" stroke="#8a8a8a" stroke-width="0.9"/>
<line x1="114.3" y1="247.85" x2="114.3" y2="313.75" stroke="#4a4a4a" stroke-width="1"/>
<line x1="113.85" y1="313.3" x2="178.75" y2="313.3" stroke="#4a4a4a" stroke-width="1"/>
<text x="110.6" y="314.7" font-size="3.6" stroke="#555" stroke-width="0.1" text-anchor="end" fill="#555">10</text>
<text x="112.7" y="313" font-size="2.4" stroke="#555" stroke-width="0.08" text-anchor="end" fill="#555">0</text>
<text x="114.1" y="318" font-size="3.6" stroke="#555" stroke-width="0.1" text-anchor="middle" fill="#555">10</text>
<text x="116.6" y="316.4" font-size="2.4" stroke="#555" stroke-width="0.08" text-anchor="middle" fill="#555">0</text>
<text x="110.6" y="298.45" font-size="3.6" stroke="#555" stroke-width="0.1" text-anchor="end" fill="#555">10</text>
<text x="112.7" y="296.75" font-size="2.4" stroke="#555" stroke-width="0.08" text-anchor="end" fill="#555">1</text>
<text x="130.1" y="318" font-size="3.6" stroke="#555" stroke-width="0.1" text-anchor="middle" fill="#555">10</text>
<text x="132.6" y="316.4" font-size="2.4" stroke="#555" stroke-width="0.08" text-anchor="middle" fill="#555">1</text>
<text x="110.6" y="282.2" font-size="3.6" stroke="#555" stroke-width="0.1" text-anchor="end" fill="#555">10</text>
<text x="112.7" y="280.5" font-size="2.4" stroke="#555" stroke-width="0.08" text-anchor="end" fill="#555">2</text>
<text x="146.1" y="318" font-size="3.6" stroke="#555" stroke-width="0.1" text-anchor="middle" fill="#555">10</text>
<text x="148.6" y="316.4" font-size="2.4" stroke="#555" stroke-width="0.08" text-anchor="middle" fill="#555">2</text>
<text x="110.6" y="265.95" font-size="3.6" stroke="#555" stroke-width="0.1" text-anchor="end" fill="#555">10</text>
<text x="112.7" y="264.25" font-size="2.4" stroke="#555" stroke-width="0.08" text-anchor="end" fill="#555">3</text>
<text x="162.1" y="318" font-size="3.6" stroke="#555" stroke-width="0.1" text-anchor="middle" fill="#555">10</text>
<text x="164.6" y="316.4" font-size="2.4" stroke="#555" stroke-width="0.08" text-anchor="middle" fill="#555">3</text>
<text x="110.6" y="249.7" font-size="3.6" stroke="#555" stroke-width="0.1" text-anchor="end" fill="#555">10</text>
<text x="112.7" y="248" font-size="2.4" stroke="#555" stroke-width="0.08" text-anchor="end" fill="#555">4</text>
<text x="178.1" y="318" font-size="3.6" stroke="#555" stroke-width="0.1" text-anchor="middle" fill="#555">10</text>
<text x="180.6" y="316.4" font-size="2.4" stroke="#555" stroke-width="0.08" text-anchor="middle" fill="#555">4</text>
<text x="106.8" y="290.25" font-size="8.2" stroke="#231f20" stroke-width="0.15" textLength="18.5" lengthAdjust="spacingAndGlyphs" fill="#231f20" transform="rotate(-90 106.8 290.25)">hCD8</text>
<text x="138.05" y="327.2" font-size="7.6" stroke="#231f20" stroke-width="0.12" textLength="16.5" lengthAdjust="spacingAndGlyphs" fill="#231f20">hCD4</text>
<text x="40" y="58" font-size="5.2" stroke="#333" stroke-width="0.08" textLength="10.4" lengthAdjust="spacingAndGlyphs" fill="#333">94.9</text>
<text x="118" y="74.2" font-size="5.2" stroke="#333" stroke-width="0.08" textLength="8" lengthAdjust="spacingAndGlyphs" fill="#333">3.5</text>
<text x="143" y="100" font-size="5.2" stroke="#333" stroke-width="0.08" textLength="10.2" lengthAdjust="spacingAndGlyphs" fill="#333">85.7</text>
<text x="210" y="70.6" font-size="5.2" stroke="#333" stroke-width="0.08" textLength="8.4" lengthAdjust="spacingAndGlyphs" fill="#333">0.3</text>
<text x="28.8" y="176.8" font-size="5.2" stroke="#333" stroke-width="0.08" textLength="10.4" lengthAdjust="spacingAndGlyphs" fill="#333">0.03</text>
<text x="72.2" y="203.8" font-size="5.2" stroke="#333" stroke-width="0.08" textLength="7.2" lengthAdjust="spacingAndGlyphs" fill="#333">0.6</text>
<text x="126.7" y="169.6" font-size="5.2" stroke="#333" stroke-width="0.08" textLength="7.2" lengthAdjust="spacingAndGlyphs" fill="#333">0.2</text>
<text x="159.6" y="204.5" font-size="5.2" stroke="#333" stroke-width="0.08" textLength="10.5" lengthAdjust="spacingAndGlyphs" fill="#333">0.05</text>
<text x="55" y="254.2" font-size="5.2" stroke="#333" stroke-width="0.08" textLength="9.6" lengthAdjust="spacingAndGlyphs" fill="#333">49.2</text>
<text x="116" y="254.9" font-size="5.2" stroke="#333" stroke-width="0.08" textLength="7.2" lengthAdjust="spacingAndGlyphs" fill="#333">0.9</text>
<text x="166.4" y="254.9" font-size="5.2" stroke="#333" stroke-width="0.08" textLength="9.8" lengthAdjust="spacingAndGlyphs" fill="#333">98.2</text>
<text x="115.7" y="312.4" font-size="5.2" stroke="#333" stroke-width="0.08" textLength="11" lengthAdjust="spacingAndGlyphs" fill="#333">0.08</text>
<text x="169.7" y="312.4" font-size="5.2" stroke="#333" stroke-width="0.08" textLength="6.6" lengthAdjust="spacingAndGlyphs" fill="#333">0.7</text>
<rect x="200" y="71.5" width="26.6" height="15.7" fill="none" stroke="#a0a0a0" stroke-width="0.6"/>
<line x1="323.7" y1="32" x2="323.7" y2="165.1" stroke="#231f20" stroke-width="1.1"/>
<line x1="323.2" y1="164.6" x2="406.5" y2="164.6" stroke="#231f20" stroke-width="1.1"/>
<line x1="322.7" y1="164.6" x2="327.9" y2="164.6" stroke="#231f20" stroke-width="1"/>
<text x="322.7" y="166.7" font-size="6" stroke="#333" stroke-width="0.3" text-anchor="end" textLength="2.75" lengthAdjust="spacingAndGlyphs" fill="#333">0</text>
<line x1="322.7" y1="138.18" x2="327.9" y2="138.18" stroke="#231f20" stroke-width="1"/>
<text x="322.7" y="140.28" font-size="6" stroke="#333" stroke-width="0.3" text-anchor="end" textLength="5.5" lengthAdjust="spacingAndGlyphs" fill="#333">20</text>
<line x1="322.7" y1="111.76" x2="327.9" y2="111.76" stroke="#231f20" stroke-width="1"/>
<text x="322.7" y="113.86" font-size="6" stroke="#333" stroke-width="0.3" text-anchor="end" textLength="5.5" lengthAdjust="spacingAndGlyphs" fill="#333">40</text>
<line x1="322.7" y1="85.34" x2="327.9" y2="85.34" stroke="#231f20" stroke-width="1"/>
<text x="322.7" y="87.44" font-size="6" stroke="#333" stroke-width="0.3" text-anchor="end" textLength="5.5" lengthAdjust="spacingAndGlyphs" fill="#333">60</text>
<line x1="322.7" y1="58.92" x2="327.9" y2="58.92" stroke="#231f20" stroke-width="1"/>
<text x="322.7" y="61.02" font-size="6" stroke="#333" stroke-width="0.3" text-anchor="end" textLength="5.5" lengthAdjust="spacingAndGlyphs" fill="#333">80</text>
<line x1="322.7" y1="32.5" x2="327.9" y2="32.5" stroke="#231f20" stroke-width="1"/>
<text x="322.7" y="34.6" font-size="6" stroke="#333" stroke-width="0.3" text-anchor="end" textLength="8.25" lengthAdjust="spacingAndGlyphs" fill="#333">100</text>
<line x1="365.6" y1="161.5" x2="365.6" y2="164.6" stroke="#231f20" stroke-width="0.9"/>
<line x1="406.5" y1="161.5" x2="406.5" y2="164.6" stroke="#231f20" stroke-width="0.9"/>
<text x="346" y="172.9" font-size="6.5" stroke="#231f20" stroke-width="0.1" text-anchor="middle" textLength="16.2" lengthAdjust="spacingAndGlyphs" fill="#231f20">BRGS</text>
<text x="387" y="172.9" font-size="6.5" stroke="#231f20" stroke-width="0.1" text-anchor="middle" textLength="25.2" lengthAdjust="spacingAndGlyphs" fill="#231f20">NOD-RG</text>
<text x="311.6" y="148.5" fill="#231f20" stroke="#231f20" stroke-width="0.2" font-size="6.5" textLength="93" lengthAdjust="spacingAndGlyphs" transform="rotate(-90 311.6 148.5)">Frequency (% of total hCD45<tspan font-size="4" dy="-2">+</tspan><tspan dy="2">)</tspan></text>
<text x="353.3" y="20.6" font-size="8.4" stroke="#231f20" stroke-width="0.2" textLength="25.8" lengthAdjust="spacingAndGlyphs" fill="#231f20">hCD45</text>
<polyline points="344.5,32.6 344.5,30.4 386.5,30.4 386.5,32.6" fill="none" stroke="#333" stroke-width="0.8"/>
<text x="354" y="28.6" font-size="6.6" stroke="#333" stroke-width="0.3" textLength="25" lengthAdjust="spacingAndGlyphs" fill="#333">p=0.069</text>
<line x1="326" y1="124" x2="364.2" y2="124" stroke="#333" stroke-width="1.1"/>
<text x="353.3" y="122.6" font-size="5.4" stroke="#444" stroke-width="0.1" textLength="10.4" lengthAdjust="spacingAndGlyphs" fill="#444">31.0</text>
<line x1="368" y1="145" x2="406" y2="145" stroke="#333" stroke-width="1.1"/>
<text x="395.2" y="143.6" font-size="5.4" stroke="#444" stroke-width="0.1" textLength="10" lengthAdjust="spacingAndGlyphs" fill="#444">14.6</text>
<circle cx="345.2" cy="59.1" r="1.6" fill="#111"/>
<circle cx="340.9" cy="65.4" r="1.6" fill="#111"/>
<circle cx="345.2" cy="63.6" r="1.6" fill="#111"/>
<circle cx="345.2" cy="69.1" r="1.6" fill="#111"/>
<circle cx="345.2" cy="77.7" r="1.6" fill="#111"/>
<circle cx="345.2" cy="81.8" r="1.6" fill="#111"/>
<circle cx="345.2" cy="89.1" r="1.6" fill="#111"/>
<circle cx="345.2" cy="98.3" r="1.6" fill="#111"/>
<circle cx="345.2" cy="111.2" r="1.6" fill="#111"/>
<circle cx="345.2" cy="124.8" r="1.6" fill="#111"/>
<circle cx="345.2" cy="153.8" r="1.6" fill="#111"/>
<circle cx="341.3" cy="156.1" r="1.6" fill="#111"/>
<circle cx="345.2" cy="155.9" r="1.6" fill="#111"/>
<circle cx="349" cy="156" r="1.6" fill="#111"/>
<circle cx="349" cy="158.5" r="1.6" fill="#111"/>
<circle cx="337.4" cy="160.6" r="1.6" fill="#111"/>
<circle cx="345.2" cy="158.9" r="1.6" fill="#111"/>
<circle cx="345.2" cy="108.1" r="1.38" fill="#fff" stroke="#111" stroke-width="0.78"/>
<circle cx="345.2" cy="115.9" r="1.38" fill="#fff" stroke="#111" stroke-width="0.78"/>
<circle cx="349.3" cy="122.3" r="1.38" fill="#fff" stroke="#111" stroke-width="0.78"/>
<circle cx="345.2" cy="139.7" r="1.38" fill="#fff" stroke="#111" stroke-width="0.78"/>
<circle cx="345.2" cy="146.4" r="1.38" fill="#fff" stroke="#111" stroke-width="0.78"/>
<circle cx="341.3" cy="162.3" r="1.38" fill="#fff" stroke="#111" stroke-width="0.78"/>
<circle cx="345.2" cy="162.4" r="1.38" fill="#fff" stroke="#111" stroke-width="0.78"/>
<circle cx="349.1" cy="161.8" r="1.38" fill="#fff" stroke="#111" stroke-width="0.78"/>
<circle cx="353.3" cy="161.2" r="1.38" fill="#fff" stroke="#111" stroke-width="0.78"/>
<polygon points="386.1,83.06 387.9,86.3 384.3,86.3" fill="#111"/>
<polygon points="386.1,100.96 387.9,104.2 384.3,104.2" fill="#111"/>
<polygon points="386.1,130.26 387.9,133.5 384.3,133.5" fill="#111"/>
<polygon points="382.8,146.16 384.6,149.4 381,149.4" fill="#111"/>
<polygon points="386.3,148.76 388.1,152 384.5,152" fill="#111"/>
<polygon points="382.8,154.66 384.6,157.9 381,157.9" fill="#111"/>
<polygon points="386.3,154.26 388.1,157.5 384.5,157.5" fill="#111"/>
<polygon points="389.8,154.26 391.6,157.5 388,157.5" fill="#111"/>
<polygon points="392.9,154.46 394.7,157.7 391.1,157.7" fill="#111"/>
<polygon points="379.3,156.96 381.1,160.2 377.5,160.2" fill="#111"/>
<polygon points="382.8,156.96 384.6,160.2 381,160.2" fill="#111"/>
<polygon points="390,158.76 391.8,162 388.2,162" fill="#111"/>
<polygon points="386.3,161.06 388.1,164.3 384.5,164.3" fill="#111"/>
<polygon points="384.8,156.46 386.6,159.7 383,159.7" fill="#fff" stroke="#111" stroke-width="0.65"/>
<polygon points="387.9,156.46 389.7,159.7 386.1,159.7" fill="#fff" stroke="#111" stroke-width="0.65"/>
<polygon points="382.3,159.36 384.1,162.6 380.5,162.6" fill="#fff" stroke="#111" stroke-width="0.65"/>
<polygon points="385.2,159.36 387,162.6 383.4,162.6" fill="#fff" stroke="#111" stroke-width="0.65"/>
<line x1="434.5" y1="31.8" x2="434.5" y2="164.8" stroke="#231f20" stroke-width="1.1"/>
<line x1="434" y1="164.3" x2="517.8" y2="164.3" stroke="#231f20" stroke-width="1.1"/>
<line x1="433.5" y1="164.3" x2="438.7" y2="164.3" stroke="#231f20" stroke-width="1"/>
<text x="433.5" y="166.4" font-size="6" stroke="#333" stroke-width="0.3" text-anchor="end" textLength="2.75" lengthAdjust="spacingAndGlyphs" fill="#333">0</text>
<line x1="433.5" y1="137.9" x2="438.7" y2="137.9" stroke="#231f20" stroke-width="1"/>
<text x="433.5" y="140" font-size="6" stroke="#333" stroke-width="0.3" text-anchor="end" textLength="5.5" lengthAdjust="spacingAndGlyphs" fill="#333">20</text>
<line x1="433.5" y1="111.5" x2="438.7" y2="111.5" stroke="#231f20" stroke-width="1"/>
<text x="433.5" y="113.6" font-size="6" stroke="#333" stroke-width="0.3" text-anchor="end" textLength="5.5" lengthAdjust="spacingAndGlyphs" fill="#333">40</text>
<line x1="433.5" y1="85.1" x2="438.7" y2="85.1" stroke="#231f20" stroke-width="1"/>
<text x="433.5" y="87.2" font-size="6" stroke="#333" stroke-width="0.3" text-anchor="end" textLength="5.5" lengthAdjust="spacingAndGlyphs" fill="#333">60</text>
<line x1="433.5" y1="58.7" x2="438.7" y2="58.7" stroke="#231f20" stroke-width="1"/>
<text x="433.5" y="60.8" font-size="6" stroke="#333" stroke-width="0.3" text-anchor="end" textLength="5.5" lengthAdjust="spacingAndGlyphs" fill="#333">80</text>
<line x1="433.5" y1="32.3" x2="438.7" y2="32.3" stroke="#231f20" stroke-width="1"/>
<text x="433.5" y="34.4" font-size="6" stroke="#333" stroke-width="0.3" text-anchor="end" textLength="8.25" lengthAdjust="spacingAndGlyphs" fill="#333">100</text>
<line x1="476.2" y1="161.2" x2="476.2" y2="164.3" stroke="#231f20" stroke-width="0.9"/>
<line x1="517.8" y1="161.2" x2="517.8" y2="164.3" stroke="#231f20" stroke-width="0.9"/>
<text x="458.4" y="173.2" font-size="6.5" stroke="#231f20" stroke-width="0.1" text-anchor="middle" textLength="16.2" lengthAdjust="spacingAndGlyphs" fill="#231f20">BRGS</text>
<text x="498.1" y="173.2" font-size="6.5" stroke="#231f20" stroke-width="0.1" text-anchor="middle" textLength="25.2" lengthAdjust="spacingAndGlyphs" fill="#231f20">NOD-RG</text>
<text x="423.9" y="140.75" fill="#231f20" stroke="#231f20" stroke-width="0.2" font-size="6.5" textLength="77.5" lengthAdjust="spacingAndGlyphs" transform="rotate(-90 423.9 140.75)">Frequency (% of hCD45<tspan font-size="4" dy="-2">+</tspan><tspan dy="2">)</tspan></text>
<text x="464.4" y="20.5" font-size="8.4" stroke="#231f20" stroke-width="0.2" textLength="24.4" lengthAdjust="spacingAndGlyphs" fill="#231f20">hCD19</text>
<polyline points="454.2,32.5 454.2,30.3 497.5,30.3 497.5,32.5" fill="none" stroke="#333" stroke-width="0.8"/>
<text x="471.8" y="28.3" font-size="6.8" stroke="#333" stroke-width="0.3" textLength="10.2" lengthAdjust="spacingAndGlyphs" fill="#333">n.s.</text>
<line x1="437" y1="46.9" x2="474.6" y2="46.9" stroke="#333" stroke-width="1.1"/>
<text x="465.8" y="45.5" font-size="5.4" stroke="#444" stroke-width="0.1" textLength="9.4" lengthAdjust="spacingAndGlyphs" fill="#444">88.9</text>
<line x1="478.6" y1="48.3" x2="515.8" y2="48.3" stroke="#333" stroke-width="1.1"/>
<text x="507.5" y="46.9" font-size="5.4" stroke="#444" stroke-width="0.1" textLength="10.3" lengthAdjust="spacingAndGlyphs" fill="#444">88.5</text>
<circle cx="451.4" cy="35.8" r="1.6" fill="#111"/>
<circle cx="447" cy="38.9" r="1.6" fill="#111"/>
<circle cx="450.8" cy="38.9" r="1.6" fill="#111"/>
<circle cx="454.7" cy="38.9" r="1.6" fill="#111"/>
<circle cx="451.4" cy="42" r="1.6" fill="#111"/>
<circle cx="459.2" cy="42" r="1.6" fill="#111"/>
<circle cx="450.8" cy="44.5" r="1.6" fill="#111"/>
<circle cx="459.7" cy="44.5" r="1.6" fill="#111"/>
<circle cx="450.8" cy="59.4" r="1.6" fill="#111"/>
<circle cx="455.3" cy="83" r="1.6" fill="#111"/>
<circle cx="455.3" cy="35.6" r="1.38" fill="#fff" stroke="#111" stroke-width="0.78"/>
<circle cx="459.2" cy="35.6" r="1.38" fill="#fff" stroke="#111" stroke-width="0.78"/>
<circle cx="463" cy="36.2" r="1.38" fill="#fff" stroke="#111" stroke-width="0.78"/>
<circle cx="459.2" cy="38.9" r="1.38" fill="#fff" stroke="#111" stroke-width="0.78"/>
<circle cx="463.6" cy="38.9" r="1.38" fill="#fff" stroke="#111" stroke-width="0.78"/>
<circle cx="455.3" cy="42" r="1.38" fill="#fff" stroke="#111" stroke-width="0.78"/>
<circle cx="455.3" cy="44.3" r="1.38" fill="#fff" stroke="#111" stroke-width="0.78"/>
<circle cx="455.3" cy="47.8" r="1.38" fill="#fff" stroke="#111" stroke-width="0.78"/>
<circle cx="455.3" cy="53" r="1.38" fill="#fff" stroke="#111" stroke-width="0.78"/>
<circle cx="455.3" cy="59.4" r="1.38" fill="#fff" stroke="#111" stroke-width="0.78"/>
<circle cx="459.7" cy="57.9" r="1.38" fill="#fff" stroke="#111" stroke-width="0.78"/>
<circle cx="454.7" cy="76.8" r="1.38" fill="#fff" stroke="#111" stroke-width="0.78"/>
<polygon points="489.6,39.66 491.4,42.9 487.8,42.9" fill="#111"/>
<polygon points="493.4,41.86 495.2,45.1 491.6,45.1" fill="#111"/>
<polygon points="497.4,37.06 499.2,40.3 495.6,40.3" fill="#111"/>
<polygon points="500.9,39.66 502.7,42.9 499.1,42.9" fill="#111"/>
<polygon points="489.6,44.66 491.4,47.9 487.8,47.9" fill="#111"/>
<polygon points="493.2,45.76 495,49 491.4,49" fill="#111"/>
<polygon points="497,44.06 498.8,47.3 495.2,47.3" fill="#111"/>
<polygon points="500.7,44.66 502.5,47.9 498.9,47.9" fill="#111"/>
<polygon points="504.8,44.66 506.6,47.9 503,47.9" fill="#111"/>
<polygon points="497,47.96 498.8,51.2 495.2,51.2" fill="#111"/>
<polygon points="493.2,54.56 495,57.8 491.4,57.8" fill="#111"/>
<polygon points="497,57.66 498.8,60.9 495.2,60.9" fill="#111"/>
<polygon points="496.5,39.06 498.3,42.3 494.7,42.3" fill="#fff" stroke="#111" stroke-width="0.65"/>
<polygon points="498.9,39.66 500.7,42.9 497.1,42.9" fill="#fff" stroke="#111" stroke-width="0.65"/>
<polygon points="501.5,41.86 503.3,45.1 499.7,45.1" fill="#fff" stroke="#111" stroke-width="0.65"/>
<polygon points="500.9,54.36 502.7,57.6 499.1,57.6" fill="#fff" stroke="#111" stroke-width="0.65"/>
<line x1="323.3" y1="218.75" x2="323.3" y2="351.3" stroke="#231f20" stroke-width="1.1"/>
<line x1="322.8" y1="350.8" x2="405.5" y2="350.8" stroke="#231f20" stroke-width="1.1"/>
<line x1="322.3" y1="350.8" x2="327.5" y2="350.8" stroke="#231f20" stroke-width="1"/>
<text x="322.3" y="352.9" font-size="6" stroke="#333" stroke-width="0.3" text-anchor="end" textLength="2.75" lengthAdjust="spacingAndGlyphs" fill="#333">0</text>
<line x1="322.3" y1="324.49" x2="327.5" y2="324.49" stroke="#231f20" stroke-width="1"/>
<text x="322.3" y="326.59" font-size="6" stroke="#333" stroke-width="0.3" text-anchor="end" textLength="5.5" lengthAdjust="spacingAndGlyphs" fill="#333">20</text>
<line x1="322.3" y1="298.18" x2="327.5" y2="298.18" stroke="#231f20" stroke-width="1"/>
<text x="322.3" y="300.28" font-size="6" stroke="#333" stroke-width="0.3" text-anchor="end" textLength="5.5" lengthAdjust="spacingAndGlyphs" fill="#333">40</text>
<line x1="322.3" y1="271.87" x2="327.5" y2="271.87" stroke="#231f20" stroke-width="1"/>
<text x="322.3" y="273.97" font-size="6" stroke="#333" stroke-width="0.3" text-anchor="end" textLength="5.5" lengthAdjust="spacingAndGlyphs" fill="#333">60</text>
<line x1="322.3" y1="245.56" x2="327.5" y2="245.56" stroke="#231f20" stroke-width="1"/>
<text x="322.3" y="247.66" font-size="6" stroke="#333" stroke-width="0.3" text-anchor="end" textLength="5.5" lengthAdjust="spacingAndGlyphs" fill="#333">80</text>
<line x1="322.3" y1="219.25" x2="327.5" y2="219.25" stroke="#231f20" stroke-width="1"/>
<text x="322.3" y="221.35" font-size="6" stroke="#333" stroke-width="0.3" text-anchor="end" textLength="8.25" lengthAdjust="spacingAndGlyphs" fill="#333">100</text>
<line x1="366" y1="347.7" x2="366" y2="350.8" stroke="#231f20" stroke-width="0.9"/>
<line x1="405.5" y1="347.7" x2="405.5" y2="350.8" stroke="#231f20" stroke-width="0.9"/>
<text x="345.9" y="358.3" font-size="6.5" stroke="#231f20" stroke-width="0.1" text-anchor="middle" textLength="16.2" lengthAdjust="spacingAndGlyphs" fill="#231f20">BRGS</text>
<text x="387.2" y="358.3" font-size="6.5" stroke="#231f20" stroke-width="0.1" text-anchor="middle" textLength="25.2" lengthAdjust="spacingAndGlyphs" fill="#231f20">NOD-RG</text>
<text x="311.3" y="333.5" fill="#231f20" stroke="#231f20" stroke-width="0.2" font-size="6.5" textLength="93" lengthAdjust="spacingAndGlyphs" transform="rotate(-90 311.3 333.5)">Frequency (% of total hCD45<tspan font-size="4" dy="-2">+</tspan><tspan dy="2">)</tspan></text>
<text x="353.8" y="205" font-size="8.4" stroke="#231f20" stroke-width="0.2" textLength="25.4" lengthAdjust="spacingAndGlyphs" fill="#231f20">hCD45</text>
<polyline points="345.5,215.7 345.5,213.5 388,213.5 388,215.7" fill="none" stroke="#333" stroke-width="0.8"/>
<text x="362.8" y="212" font-size="6.8" stroke="#333" stroke-width="0.3" textLength="10" lengthAdjust="spacingAndGlyphs" fill="#333">n.s.</text>
<line x1="325" y1="277.6" x2="364.6" y2="277.6" stroke="#333" stroke-width="1.1"/>
<text x="353.9" y="276.2" font-size="5.4" stroke="#444" stroke-width="0.1" textLength="9.9" lengthAdjust="spacingAndGlyphs" fill="#444">55.4</text>
<line x1="368" y1="301.6" x2="405.5" y2="301.6" stroke="#333" stroke-width="1.1"/>
<text x="394.6" y="300.2" font-size="5.4" stroke="#444" stroke-width="0.1" textLength="10.6" lengthAdjust="spacingAndGlyphs" fill="#444">38.0</text>
<circle cx="338.8" cy="219.3" r="1.6" fill="#111"/>
<circle cx="342.5" cy="220" r="1.6" fill="#111"/>
<circle cx="345.5" cy="220.5" r="1.6" fill="#111"/>
<circle cx="349.5" cy="220" r="1.6" fill="#111"/>
<circle cx="352.5" cy="219.3" r="1.6" fill="#111"/>
<circle cx="349.5" cy="243.8" r="1.6" fill="#111"/>
<circle cx="346.3" cy="274.7" r="1.6" fill="#111"/>
<circle cx="345.6" cy="280.4" r="1.6" fill="#111"/>
<circle cx="346.3" cy="312.2" r="1.6" fill="#111"/>
<circle cx="345.8" cy="345.9" r="1.6" fill="#111"/>
<circle cx="341.9" cy="348.2" r="1.6" fill="#111"/>
<circle cx="348.8" cy="348.1" r="1.6" fill="#111"/>
<circle cx="345.8" cy="349.9" r="1.6" fill="#111"/>
<circle cx="345.5" cy="223.5" r="1.38" fill="#fff" stroke="#111" stroke-width="0.78"/>
<circle cx="345.5" cy="227.5" r="1.38" fill="#fff" stroke="#111" stroke-width="0.78"/>
<circle cx="345.5" cy="245.5" r="1.38" fill="#fff" stroke="#111" stroke-width="0.78"/>
<circle cx="348.9" cy="285.1" r="1.38" fill="#fff" stroke="#111" stroke-width="0.78"/>
<circle cx="345.6" cy="286.5" r="1.38" fill="#fff" stroke="#111" stroke-width="0.78"/>
<circle cx="345.6" cy="291.2" r="1.38" fill="#fff" stroke="#111" stroke-width="0.78"/>
<circle cx="348.9" cy="292.8" r="1.38" fill="#fff" stroke="#111" stroke-width="0.78"/>
<circle cx="345.6" cy="294.9" r="1.38" fill="#fff" stroke="#111" stroke-width="0.78"/>
<circle cx="345.6" cy="299.9" r="1.38" fill="#fff" stroke="#111" stroke-width="0.78"/>
<circle cx="342" cy="301.9" r="1.38" fill="#fff" stroke="#111" stroke-width="0.78"/>
<circle cx="349.1" cy="301.9" r="1.38" fill="#fff" stroke="#111" stroke-width="0.78"/>
<circle cx="345.6" cy="305.2" r="1.38" fill="#fff" stroke="#111" stroke-width="0.78"/>
<circle cx="346.3" cy="320.6" r="1.38" fill="#fff" stroke="#111" stroke-width="0.78"/>
<polygon points="387.5,217.56 389.3,220.8 385.7,220.8" fill="#111"/>
<polygon points="391.2,221.86 393,225.1 389.4,225.1" fill="#111"/>
<polygon points="387.5,228.06 389.3,231.3 385.7,231.3" fill="#111"/>
<polygon points="387.2,317.26 389,320.5 385.4,320.5" fill="#111"/>
<polygon points="383.8,327.16 385.6,330.4 382,330.4" fill="#111"/>
<polygon points="390.8,332.76 392.6,336 389,336" fill="#111"/>
<polygon points="383.8,337.06 385.6,340.3 382,340.3" fill="#111"/>
<polygon points="388,328.56 389.8,331.8 386.2,331.8" fill="#fff" stroke="#111" stroke-width="0.65"/>
<polygon points="388,337.56 389.8,340.8 386.2,340.8" fill="#fff" stroke="#111" stroke-width="0.65"/>
<polygon points="388,347.36 389.8,350.6 386.2,350.6" fill="#fff" stroke="#111" stroke-width="0.65"/>
<line x1="434.5" y1="218.75" x2="434.5" y2="351.3" stroke="#231f20" stroke-width="1.1"/>
<line x1="434" y1="350.8" x2="518" y2="350.8" stroke="#231f20" stroke-width="1.1"/>
<line x1="433.5" y1="350.8" x2="438.7" y2="350.8" stroke="#231f20" stroke-width="1"/>
<text x="433.5" y="352.9" font-size="6" stroke="#333" stroke-width="0.3" text-anchor="end" textLength="2.75" lengthAdjust="spacingAndGlyphs" fill="#333">0</text>
<line x1="433.5" y1="324.49" x2="438.7" y2="324.49" stroke="#231f20" stroke-width="1"/>
<text x="433.5" y="326.59" font-size="6" stroke="#333" stroke-width="0.3" text-anchor="end" textLength="5.5" lengthAdjust="spacingAndGlyphs" fill="#333">20</text>
<line x1="433.5" y1="298.18" x2="438.7" y2="298.18" stroke="#231f20" stroke-width="1"/>
<text x="433.5" y="300.28" font-size="6" stroke="#333" stroke-width="0.3" text-anchor="end" textLength="5.5" lengthAdjust="spacingAndGlyphs" fill="#333">40</text>
<line x1="433.5" y1="271.87" x2="438.7" y2="271.87" stroke="#231f20" stroke-width="1"/>
<text x="433.5" y="273.97" font-size="6" stroke="#333" stroke-width="0.3" text-anchor="end" textLength="5.5" lengthAdjust="spacingAndGlyphs" fill="#333">60</text>
<line x1="433.5" y1="245.56" x2="438.7" y2="245.56" stroke="#231f20" stroke-width="1"/>
<text x="433.5" y="247.66" font-size="6" stroke="#333" stroke-width="0.3" text-anchor="end" textLength="5.5" lengthAdjust="spacingAndGlyphs" fill="#333">80</text>
<line x1="433.5" y1="219.25" x2="438.7" y2="219.25" stroke="#231f20" stroke-width="1"/>
<text x="433.5" y="221.35" font-size="6" stroke="#333" stroke-width="0.3" text-anchor="end" textLength="8.25" lengthAdjust="spacingAndGlyphs" fill="#333">100</text>
<line x1="476.3" y1="347.7" x2="476.3" y2="350.8" stroke="#231f20" stroke-width="0.9"/>
<line x1="518" y1="347.7" x2="518" y2="350.8" stroke="#231f20" stroke-width="0.9"/>
<text x="459.1" y="359.2" font-size="6.5" stroke="#231f20" stroke-width="0.1" text-anchor="middle" textLength="16.2" lengthAdjust="spacingAndGlyphs" fill="#231f20">BRGS</text>
<text x="495.5" y="359.2" font-size="6.5" stroke="#231f20" stroke-width="0.1" text-anchor="middle" textLength="25.2" lengthAdjust="spacingAndGlyphs" fill="#231f20">NOD-RG</text>
<text x="423.9" y="325.75" fill="#231f20" stroke="#231f20" stroke-width="0.2" font-size="6.5" textLength="77.5" lengthAdjust="spacingAndGlyphs" transform="rotate(-90 423.9 325.75)">Frequency (% of hCD45<tspan font-size="4" dy="-2">+</tspan><tspan dy="2">)</tspan></text>
<text x="467.6" y="204.8" font-size="8.4" stroke="#231f20" stroke-width="0.2" textLength="19.9" lengthAdjust="spacingAndGlyphs" fill="#231f20">hCD3</text>
<polyline points="455.2,215.7 455.2,213.5 498.1,213.5 498.1,215.7" fill="none" stroke="#333" stroke-width="0.8"/>
<text x="472.4" y="212" font-size="6.8" stroke="#333" stroke-width="0.3" textLength="10.6" lengthAdjust="spacingAndGlyphs" fill="#333">n.s.</text>
<line x1="436.8" y1="312" x2="474.3" y2="312" stroke="#333" stroke-width="1.1"/>
<text x="464" y="310.6" font-size="5.4" stroke="#444" stroke-width="0.1" textLength="10" lengthAdjust="spacingAndGlyphs" fill="#444">29.7</text>
<line x1="479.4" y1="321.4" x2="516.7" y2="321.4" stroke="#333" stroke-width="1.1"/>
<text x="506.5" y="320" font-size="5.4" stroke="#444" stroke-width="0.1" textLength="10.2" lengthAdjust="spacingAndGlyphs" fill="#444">22.4</text>
<circle cx="452" cy="256.8" r="1.6" fill="#111"/>
<circle cx="459.7" cy="258.5" r="1.6" fill="#111"/>
<circle cx="456.4" cy="267" r="1.6" fill="#111"/>
<circle cx="452" cy="268.6" r="1.6" fill="#111"/>
<circle cx="456.4" cy="270.5" r="1.6" fill="#111"/>
<circle cx="459.7" cy="272" r="1.6" fill="#111"/>
<circle cx="455.4" cy="275.4" r="1.6" fill="#111"/>
<circle cx="455.8" cy="315.8" r="1.6" fill="#111"/>
<circle cx="455.5" cy="336.6" r="1.6" fill="#111"/>
<circle cx="455.5" cy="341.6" r="1.6" fill="#111"/>
<circle cx="455.5" cy="343.6" r="1.6" fill="#111"/>
<circle cx="458.7" cy="345.9" r="1.6" fill="#111"/>
<circle cx="455.5" cy="350.2" r="1.6" fill="#111"/>
<circle cx="456" cy="256.2" r="1.38" fill="#fff" stroke="#111" stroke-width="0.78"/>
<circle cx="455.4" cy="281" r="1.38" fill="#fff" stroke="#111" stroke-width="0.78"/>
<circle cx="455.4" cy="290.5" r="1.38" fill="#fff" stroke="#111" stroke-width="0.78"/>
<circle cx="452.1" cy="346.6" r="1.38" fill="#fff" stroke="#111" stroke-width="0.78"/>
<circle cx="448.6" cy="349.4" r="1.38" fill="#fff" stroke="#111" stroke-width="0.78"/>
<circle cx="452.1" cy="350.2" r="1.38" fill="#fff" stroke="#111" stroke-width="0.78"/>
<circle cx="455.5" cy="348.2" r="1.38" fill="#fff" stroke="#111" stroke-width="0.78"/>
<circle cx="458.7" cy="350" r="1.38" fill="#fff" stroke="#111" stroke-width="0.78"/>
<circle cx="462.1" cy="349.4" r="1.38" fill="#fff" stroke="#111" stroke-width="0.78"/>
<polygon points="497.6,243.86 499.4,247.1 495.8,247.1" fill="#111"/>
<polygon points="494.7,290.26 496.5,293.5 492.9,293.5" fill="#111"/>
<polygon points="498.5,291.96 500.3,295.2 496.7,295.2" fill="#111"/>
<polygon points="498.1,298.66 499.9,301.9 496.3,301.9" fill="#111"/>
<polygon points="497.9,325.86 499.7,329.1 496.1,329.1" fill="#111"/>
<polygon points="504.2,347.56 506,350.8 502.4,350.8" fill="#111"/>
<polygon points="491,347.56 492.8,350.8 489.2,350.8" fill="#fff" stroke="#111" stroke-width="0.65"/>
<polygon points="494.5,347.56 496.3,350.8 492.7,350.8" fill="#fff" stroke="#111" stroke-width="0.65"/>
<polygon points="497.9,347.56 499.7,350.8 496.1,350.8" fill="#fff" stroke="#111" stroke-width="0.65"/>
<polygon points="501.3,347.56 503.1,350.8 499.5,350.8" fill="#fff" stroke="#111" stroke-width="0.65"/>
</svg>
</body></html>
